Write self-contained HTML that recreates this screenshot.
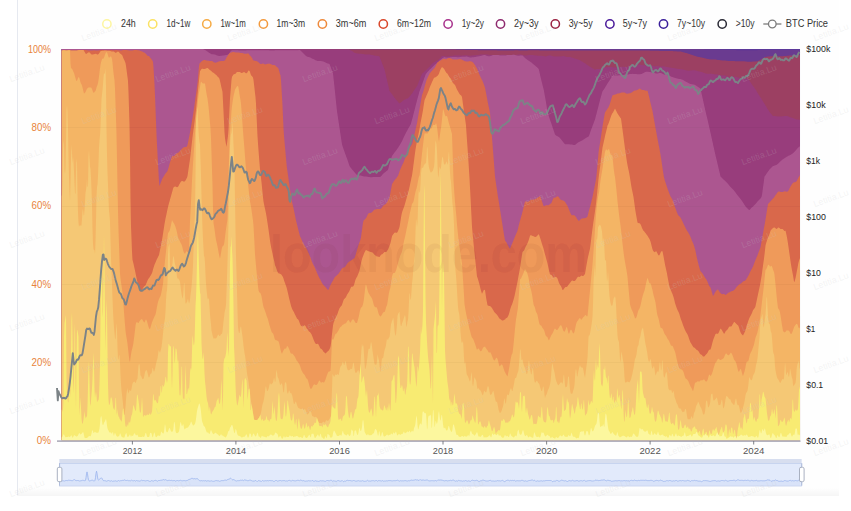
<!DOCTYPE html>
<html lang="en"><head><meta charset="utf-8"><title>HODL Waves</title>
<style>
html,body{margin:0;padding:0;background:#fff;}
body{width:851px;height:511px;overflow:hidden;font-family:"Liberation Sans",sans-serif;}
svg{display:block;}
text{font-family:"Liberation Sans",sans-serif;}
.lg{font-size:10.1px;fill:#333;}
.yl{font-size:10.2px;fill:#e8833a;}
.yr{font-size:9.7px;fill:#222;}
.xl{font-size:9.3px;fill:#555;}
.wm{font-size:9px;fill:#c8c8c8;fill-opacity:0.2;}
.big{font-size:51px;font-weight:bold;fill:#5a1a10;fill-opacity:0.05;}
</style></head><body>
<svg width="851" height="511" viewBox="0 0 851 511">
<defs>
<linearGradient id="bsh" x1="0" y1="0" x2="0" y2="1"><stop offset="0" stop-color="#000" stop-opacity="0"/><stop offset="1" stop-color="#000" stop-opacity="0.035"/></linearGradient>
<filter id="soft" x="-2%" y="-2%" width="104%" height="104%"><feGaussianBlur stdDeviation="0.5"/></filter>
<clipPath id="cp"><rect x="61.5" y="49" width="738.6" height="391.4"/></clipPath>
</defs>
<rect width="851" height="511" fill="#fff"/>
<rect x="17" y="0" width="822" height="496" fill="#fefefe"/>
<rect x="17" y="488" width="822" height="8" fill="url(#bsh)"/>
<path d="M17.5 0V495" stroke="#e6e9f0" stroke-width="1"/>
<g id="legend">
<circle cx="106.9" cy="24" r="4.15" fill="#fff" stroke="#fdf6a0" stroke-width="1.5"/>
<text x="121" y="27.4" class="lg" textLength="14.8" lengthAdjust="spacingAndGlyphs">24h</text>
<circle cx="152.7" cy="24" r="4.15" fill="#fff" stroke="#fbe264" stroke-width="1.5"/>
<text x="166.4" y="27.4" class="lg" textLength="24" lengthAdjust="spacingAndGlyphs">1d~1w</text>
<circle cx="206.8" cy="24" r="4.15" fill="#fff" stroke="#f6ab45" stroke-width="1.5"/>
<text x="220.4" y="27.4" class="lg" textLength="25.4" lengthAdjust="spacingAndGlyphs">1w~1m</text>
<circle cx="263.4" cy="24" r="4.15" fill="#fff" stroke="#f39a3e" stroke-width="1.5"/>
<text x="276.6" y="27.4" class="lg" textLength="28.6" lengthAdjust="spacingAndGlyphs">1m~3m</text>
<circle cx="322.4" cy="24" r="4.15" fill="#fff" stroke="#ee8a3c" stroke-width="1.5"/>
<text x="335.8" y="27.4" class="lg" textLength="30.5" lengthAdjust="spacingAndGlyphs">3m~6m</text>
<circle cx="383.3" cy="24" r="4.15" fill="#fff" stroke="#d9472b" stroke-width="1.5"/>
<text x="396.9" y="27.4" class="lg" textLength="34.1" lengthAdjust="spacingAndGlyphs">6m~12m</text>
<circle cx="448.1" cy="24" r="4.15" fill="#fff" stroke="#a8328c" stroke-width="1.5"/>
<text x="461.7" y="27.4" class="lg" textLength="22.3" lengthAdjust="spacingAndGlyphs">1y~2y</text>
<circle cx="500.5" cy="24" r="4.15" fill="#fff" stroke="#8e2a6e" stroke-width="1.5"/>
<text x="514.1" y="27.4" class="lg" textLength="24.5" lengthAdjust="spacingAndGlyphs">2y~3y</text>
<circle cx="555.3" cy="24" r="4.15" fill="#fff" stroke="#9b2242" stroke-width="1.5"/>
<text x="568.7" y="27.4" class="lg" textLength="23.9" lengthAdjust="spacingAndGlyphs">3y~5y</text>
<circle cx="609.9" cy="24" r="4.15" fill="#fff" stroke="#4a1a9a" stroke-width="1.5"/>
<text x="622.8" y="27.4" class="lg" textLength="24.2" lengthAdjust="spacingAndGlyphs">5y~7y</text>
<circle cx="663.5" cy="24" r="4.15" fill="#fff" stroke="#3b1f9b" stroke-width="1.5"/>
<text x="677.1" y="27.4" class="lg" textLength="27.9" lengthAdjust="spacingAndGlyphs">7y~10y</text>
<circle cx="722.2" cy="24" r="4.15" fill="#fff" stroke="#2a2a35" stroke-width="1.5"/>
<text x="735.8" y="27.4" class="lg" textLength="18.8" lengthAdjust="spacingAndGlyphs">&gt;10y</text>
<path d="M763.3 24H781.4" stroke="#7b7b7b" stroke-width="1.3" fill="none"/>
<circle cx="772.3" cy="24" r="3.8" fill="#fff" stroke="#7b7b7b" stroke-width="1.3"/>
<text x="785.8" y="27.4" class="lg" textLength="42.2" lengthAdjust="spacingAndGlyphs">BTC Price</text>
</g>
<g filter="url(#soft)"><g id="areas" clip-path="url(#cp)">
<rect x="61.5" y="49" width="738.6" height="391.4" fill="#4b3f80"/>
<path d="M61.5 440.4L61.5 49L62 49L62.5 49L63 49L63.5 49L64 49L64.5 49L65 49L65.5 49L66 49L66.5 49L67 49L67.5 49L68 49L68.5 49L69 49L69.5 49L70 49L70.5 49L71 49L71.5 49L72 49L72.5 49L73 49L73.5 49L74 49L74.5 49L75 49L75.5 49L76 49L76.5 49L77 49L77.5 49L78 49L78.5 49L79 49L79.5 49L80 49L80.5 49L81 49L81.5 49L82 49L82.5 49L83 49L83.5 49L84 49L84.5 49L85 49L85.5 49L86 49L86.5 49L87 49L87.5 49L88 49L88.5 49L89 49L89.5 49L90 49L90.5 49L91 49L91.5 49L92 49L92.5 49L93 49L93.5 49L94 49L94.5 49L95 49L95.5 49L96 49L96.5 49L97 49L97.5 49L98 49L98.5 49L99 49L99.5 49L100 49L100.5 49L101 49L101.5 49L102 49L102.5 49L103 49L103.5 49L104 49L104.5 49L105 49L105.5 49L106 49L106.5 49L107 49L107.5 49L108 49L108.5 49L109 49L109.5 49L110 49L110.5 49L111 49L111.5 49L112 49L112.5 49L113 49L113.5 49L114 49L114.5 49L115 49L115.5 49L116 49L116.5 49L117 49L117.5 49L118 49L118.5 49L119 49L119.5 49L120 49L120.5 49L121 49L121.5 49L122 49L122.5 49L123 49L123.5 49L124 49L124.5 49L125 49L125.5 49L126 49L126.5 49L127 49L127.5 49L128 49L128.5 49L129 49L129.5 49L130 49L130.5 49L131 49L131.5 49L132 49L132.5 49L133 49L133.5 49L134 49L134.5 49L135 49L135.5 49L136 49L136.5 49L137 49L137.5 49L138 49L138.5 49L139 49L139.5 49L140 49L140.5 49L141 49L141.5 49L142 49L142.5 49L143 49L143.5 49L144 49L144.5 49L145 49L145.5 49L146 49L146.5 49L147 49L147.5 49L148 49L148.5 49L149 49L149.5 49L150 49L150.5 49L151 49L151.5 49L152 49L152.5 49L153 49L153.5 49L154 49L154.5 49L155 49L155.5 49L156 49L156.5 49L157 49L157.5 49L158 49L158.5 49L159 49L159.5 49L160 49L160.5 49L161 49L161.5 49L162 49L162.5 49L163 49L163.5 49L164 49L164.5 49L165 49L165.5 49L166 49L166.5 49L167 49L167.5 49L168 49L168.5 49L169 49L169.5 49L170 49L170.5 49L171 49L171.5 49L172 49L172.5 49L173 49L173.5 49L174 49L174.5 49L175 49L175.5 49L176 49L176.5 49L177 49L177.5 49L178 49L178.5 49L179 49L179.5 49L180 49L180.5 49L181 49L181.5 49L182 49L182.5 49L183 49L183.5 49L184 49L184.5 49L185 49L185.5 49L186 49L186.5 49L187 49L187.5 49L188 49L188.5 49L189 49L189.5 49L190 49L190.5 49L191 49L191.5 49L192 49L192.5 49L193 49L193.5 49L194 49L194.5 49L195 49L195.5 49L196 49L196.5 49L197 49L197.5 49L198 49L198.5 49L199 49L199.5 49L200 49L200.5 49L201 49L201.5 49L202 49L202.5 49L203 49L203.5 49L204 49L204.5 49L205 49L205.5 49L206 49L206.5 49L207 49L207.5 49L208 49L208.5 49L209 49L209.5 49L210 49L210.5 49L211 49L211.5 49L212 49L212.5 49L213 49L213.5 49L214 49L214.5 49L215 49L215.5 49L216 49L216.5 49L217 49L217.5 49L218 49L218.5 49L219 49L219.5 49L220 49L220.5 49L221 49L221.5 49L222 49L222.5 49L223 49L223.5 49L224 49L224.5 49L225 49L225.5 49L226 49L226.5 49L227 49L227.5 49L228 49L228.5 49L229 49L229.5 49L230 49L230.5 49L231 49L231.5 49L232 49L232.5 49L233 49L233.5 49L234 49L234.5 49L235 49L235.5 49L236 49L236.5 49L237 49L237.5 49L238 49L238.5 49L239 49L239.5 49L240 49L240.5 49L241 49L241.5 49L242 49L242.5 49L243 49L243.5 49L244 49L244.5 49L245 49L245.5 49L246 49L246.5 49L247 49L247.5 49L248 49L248.5 49L249 49L249.5 49L250 49L250.5 49L251 49L251.5 49L252 49L252.5 49L253 49L253.5 49L254 49L254.5 49L255 49L255.5 49L256 49L256.5 49L257 49L257.5 49L258 49L258.5 49L259 49L259.5 49L260 49L260.5 49L261 49L261.5 49L262 49L262.5 49L263 49L263.5 49L264 49L264.5 49L265 49L265.5 49L266 49L266.5 49L267 49L267.5 49L268 49L268.5 49L269 49L269.5 49L270 49L270.5 49L271 49L271.5 49L272 49L272.5 49L273 49L273.5 49L274 49L274.5 49L275 49L275.5 49L276 49L276.5 49L277 49L277.5 49L278 49L278.5 49L279 49L279.5 49L280 49L280.5 49L281 49L281.5 49L282 49L282.5 49L283 49L283.5 49L284 49L284.5 49L285 49L285.5 49L286 49L286.5 49L287 49L287.5 49L288 49L288.5 49L289 49L289.5 49L290 49L290.5 49L291 49L291.5 49L292 49L292.5 49L293 49L293.5 49L294 49L294.5 49L295 49L295.5 49L296 49L296.5 49L297 49L297.5 49L298 49L298.5 49L299 49L299.5 49L300 49L300.5 49L301 49L301.5 49L302 49L302.5 49L303 49L303.5 49L304 49L304.5 49L305 49L305.5 49L306 49L306.5 49L307 49L307.5 49L308 49L308.5 49L309 49L309.5 49L310 49L310.5 49L311 49L311.5 49L312 49L312.5 49L313 49L313.5 49L314 49L314.5 49L315 49L315.5 49L316 49L316.5 49L317 49L317.5 49L318 49L318.5 49L319 49L319.5 49L320 49L320.5 49L321 49L321.5 49L322 49L322.5 49L323 49L323.5 49L324 49L324.5 49L325 49L325.5 49L326 49L326.5 49L327 49L327.5 49L328 49L328.5 49L329 49L329.5 49L330 49L330.5 49L331 49L331.5 49L332 49L332.5 49L333 49L333.5 49L334 49L334.5 49L335 49L335.5 49L336 49L336.5 49L337 49L337.5 49L338 49L338.5 49L339 49L339.5 49L340 49L340.5 49L341 49L341.5 49L342 49L342.5 49L343 49L343.5 49L344 49L344.5 49L345 49L345.5 49L346 49L346.5 49L347 49L347.5 49L348 49L348.5 49L349 49L349.5 49L350 49L350.5 49L351 49L351.5 49L352 49L352.5 49L353 49L353.5 49L354 49L354.5 49L355 49L355.5 49L356 49L356.5 49L357 49L357.5 49L358 49L358.5 49L359 49L359.5 49L360 49L360.5 49L361 49L361.5 49L362 49L362.5 49L363 49L363.5 49L364 49L364.5 49L365 49L365.5 49L366 49L366.5 49L367 49L367.5 49L368 49L368.5 49L369 49L369.5 49L370 49L370.5 49L371 49L371.5 49L372 49L372.5 49L373 49L373.5 49L374 49L374.5 49L375 49L375.5 49L376 49L376.5 49L377 49L377.5 49L378 49L378.5 49L379 49L379.5 49L380 49L380.5 49L381 49L381.5 49L382 49L382.5 49L383 49L383.5 49L384 49L384.5 49L385 49L385.5 49L386 49L386.5 49L387 49L387.5 49L388 49L388.5 49L389 49L389.5 49L390 49L390.5 49L391 49L391.5 49L392 49L392.5 49L393 49L393.5 49L394 49L394.5 49L395 49L395.5 49L396 49L396.5 49L397 49L397.5 49L398 49L398.5 49L399 49L399.5 49L400 49L400.5 49L401 49L401.5 49L402 49L402.5 49L403 49L403.5 49L404 49L404.5 49L405 49L405.5 49L406 49L406.5 49L407 49L407.5 49L408 49L408.5 49L409 49L409.5 49L410 49L410.5 49L411 49L411.5 49L412 49L412.5 49L413 49L413.5 49L414 49L414.5 49L415 49L415.5 49L416 49L416.5 49L417 49L417.5 49L418 49L418.5 49L419 49L419.5 49L420 49L420.5 49L421 49L421.5 49L422 49L422.5 49L423 49L423.5 49L424 49L424.5 49L425 49L425.5 49L426 49L426.5 49L427 49L427.5 49L428 49L428.5 49L429 49L429.5 49L430 49L430.5 49L431 49L431.5 49L432 49L432.5 49L433 49L433.5 49L434 49L434.5 49L435 49L435.5 49L436 49L436.5 49L437 49L437.5 49L438 49L438.5 49L439 49L439.5 49L440 49L440.5 49L441 49L441.5 49L442 49L442.5 49L443 49L443.5 49L444 49L444.5 49L445 49L445.5 49L446 49L446.5 49L447 49L447.5 49L448 49L448.5 49L449 49L449.5 49L450 49L450.5 49L451 49L451.5 49L452 49L452.5 49L453 49L453.5 49L454 49L454.5 49L455 49L455.5 49L456 49L456.5 49L457 49L457.5 49L458 49L458.5 49L459 49L459.5 49L460 49L460.5 49L461 49L461.5 49L462 49L462.5 49L463 49L463.5 49L464 49L464.5 49L465 49L465.5 49L466 49L466.5 49L467 49L467.5 49L468 49L468.5 49L469 49L469.5 49L470 49L470.5 49L471 49L471.5 49L472 49L472.5 49L473 49L473.5 49L474 49L474.5 49L475 49L475.5 49L476 49L476.5 49L477 49L477.5 49L478 49L478.5 49L479 49L479.5 49L480 49L480.5 49L481 49L481.5 49L482 49L482.5 49L483 49L483.5 49L484 49L484.5 49L485 49L485.5 49L486 49L486.5 49L487 49L487.5 49L488 49L488.5 49L489 49L489.5 49L490 49L490.5 49L491 49L491.5 49L492 49L492.5 49L493 49L493.5 49L494 49L494.5 49L495 49L495.5 49L496 49L496.5 49L497 49L497.5 49L498 49L498.5 49L499 49L499.5 49L500 49L500.5 49L501 49L501.5 49L502 49L502.5 49L503 49L503.5 49L504 49L504.5 49L505 49L505.5 49L506 49L506.5 49L507 49L507.5 49L508 49L508.5 49L509 49L509.5 49L510 49L510.5 49L511 49L511.5 49L512 49L512.5 49L513 49L513.5 49L514 49L514.5 49L515 49L515.5 49L516 49L516.5 49L517 49L517.5 49L518 49L518.5 49L519 49L519.5 49L520 49L520.5 49L521 49L521.5 49L522 49L522.5 49L523 49L523.5 49L524 49L524.5 49L525 49L525.5 49L526 49L526.5 49L527 49L527.5 49L528 49L528.5 49L529 49L529.5 49L530 49L530.5 49L531 49L531.5 49L532 49L532.5 49L533 49L533.5 49L534 49L534.5 49L535 49L535.5 49L536 49L536.5 49L537 49L537.5 49L538 49L538.5 49L539 49L539.5 49L540 49L540.5 49L541 49L541.5 49L542 49L542.5 49L543 49L543.5 49L544 49L544.5 49L545 49L545.5 49L546 49L546.5 49L547 49L547.5 49L548 49L548.5 49L549 49L549.5 49L550 49L550.5 49L551 49L551.5 49L552 49L552.5 49L553 49L553.5 49L554 49L554.5 49L555 49L555.5 49L556 49L556.5 49L557 49L557.5 49L558 49L558.5 49L559 49L559.5 49L560 49L560.5 49L561 49L561.5 49L562 49L562.5 49L563 49L563.5 49L564 49L564.5 49L565 49L565.5 49L566 49L566.5 49L567 49L567.5 49L568 49L568.5 49L569 49L569.5 49L570 49L570.5 49L571 49L571.5 49L572 49L572.5 49L573 49L573.5 49L574 49L574.5 49L575 49L575.5 49L576 49L576.5 49L577 49L577.5 49L578 49L578.5 49L579 49L579.5 49L580 49L580.5 49L581 49L581.5 49L582 49L582.5 49L583 49L583.5 49L584 49L584.5 49L585 49L585.5 49L586 49L586.5 49L587 49L587.5 49L588 49L588.5 49L589 49L589.5 49L590 49L590.5 49L591 49L591.5 49L592 49L592.5 49L593 49L593.5 49L594 49L594.5 49L595 49L595.5 49L596 49L596.5 49L597 49L597.5 49L598 49L598.5 49L599 49L599.5 49L600 49L600.5 49L601 49L601.5 49L602 49L602.5 49L603 49L603.5 49L604 49L604.5 49L605 49L605.5 49L606 49L606.5 49L607 49L607.5 49L608 49L608.5 49L609 49L609.5 49L610 49L610.5 49L611 49L611.5 49L612 49L612.5 49L613 49L613.5 49L614 49L614.5 49L615 49L615.5 49L616 49L616.5 49L617 49L617.5 49L618 49L618.5 49L619 49L619.5 49L620 49L620.5 49L621 49L621.5 49L622 49L622.5 49L623 49L623.5 49L624 49L624.5 49L625 49L625.5 49L626 49L626.5 49L627 49L627.5 49L628 49L628.5 49L629 49L629.5 49L630 49L630.5 49L631 49L631.5 49L632 49L632.5 49L633 49L633.5 49L634 49L634.5 49L635 49L635.5 49L636 49L636.5 49L637 49L637.5 49L638 49L638.5 49L639 49L639.5 49L640 49L640.5 49L641 49L641.5 49L642 49L642.5 49L643 49L643.5 49L644 49L644.5 49L645 49L645.5 49L646 49L646.5 49L647 49L647.5 49L648 49L648.5 49L649 49L649.5 49L650 49L650.5 49L651 49L651.5 49L652 49L652.5 49L653 49L653.5 49L654 49L654.5 49L655 49L655.5 49L656 49L656.5 49L657 49L657.5 49L658 49L658.5 49L659 49L659.5 49L660 49L660.5 49L661 49L661.5 49L662 49L662.5 49L663 49L663.5 49L664 49L664.5 49L665 49L665.5 49L666 49L666.5 49L667 49L667.5 49L668 49L668.5 49L669 49L669.5 49L670 49L670.5 49L671 49L671.5 49L672 49L672.5 49L673 49L673.5 49L674 49L674.5 49L675 49L675.5 49L676 49L676.5 49L677 49L677.5 49L678 49L678.5 49L679 49L679.5 49L680 49L680.5 49L681 49L681.5 49L682 49L682.5 49L683 49L683.5 49L684 49L684.5 49L685 49L685.5 49L686 49L686.5 49L687 49L687.5 49L688 49L688.5 49L689 49L689.5 49L690 49L690.5 49L691 49L691.5 49L692 49L692.5 49L693 49L693.5 49L694 49L694.5 49L695 49L695.5 49L696 49L696.5 49L697 49L697.5 49L698 49L698.5 49L699 49L699.5 49L700 49L700.5 49L701 49L701.5 49L702 49L702.5 49L703 49L703.5 49L704 49L704.5 49L705 49L705.5 49L706 49L706.5 49L707 49L707.5 49L708 49L708.5 49L709 49L709.5 49L710 49L710.5 49L711 49L711.5 49L712 49L712.5 49L713 49L713.5 49L714 49L714.5 49L715 49L715.5 49L716 49L716.5 49L717 49L717.5 49L718 49L718.5 49L719 49L719.5 49L720 49L720.5 49L721 49L721.5 49L722 49L722.5 49L723 49L723.5 49L724 49L724.5 49L725 49L725.5 49L726 49L726.5 49L727 49L727.5 49L728 49L728.5 49L729 49L729.5 49L730 49L730.5 49L731 49L731.5 49L732 49L732.5 49L733 49L733.5 49L734 49L734.5 49L735 49L735.5 49L736 49L736.5 49L737 49L737.5 49L738 49L738.5 49L739 49L739.5 49L740 49L740.5 49L741 49L741.5 49L742 49L742.5 49L743 49L743.5 49L744 49L744.5 49L745 49L745.5 49L746 49L746.5 49L747 49L747.5 49L748 49L748.5 49L749 49L749.5 49L750 49L750.5 49L751 49L751.5 49L752 49L752.5 49L753 49L753.5 49L754 49L754.5 49L755 49L755.5 49L756 49L756.5 49L757 49L757.5 49L758 49L758.5 49L759 49L759.5 49L760 49L760.5 49L761 49L761.5 49L762 49L762.5 49L763 49L763.5 49L764 49L764.5 49L765 49L765.5 49L766 49L766.5 49L767 49L767.5 49L768 49L768.5 49L769 49L769.5 49L770 49L770.5 49L771 49L771.5 49L772 49L772.5 49L773 49L773.5 49L774 49L774.5 49L775 49L775.5 49L776 49L776.5 49L777 49L777.5 49L778 49L778.5 49L779 49L779.5 49L780 49L780.5 49L781 49L781.5 49L782 49L782.5 49L783 49L783.5 49L784 49L784.5 49L785 49L785.5 49L786 49L786.5 49L787 49L787.5 49L788 49L788.5 49L789 49L789.5 49L790 49L790.5 49L791 49L791.5 49L792 49L792.5 49L793 49L793.5 49L794 49L794.5 49L795 49L795.5 49L796 49L796.5 49L797 49L797.5 49L798 49L798.5 49L799 49L799.5 49L800 49L800.1 440.4Z" fill="#5b379a"/>
<path d="M61.5 440.4L61.5 49L62 49L62.5 49L63 49L63.5 49L64 49L64.5 49L65 49L65.5 49L66 49L66.5 49L67 49L67.5 49L68 49L68.5 49L69 49L69.5 49L70 49L70.5 49L71 49L71.5 49L72 49L72.5 49L73 49L73.5 49L74 49L74.5 49L75 49L75.5 49L76 49L76.5 49L77 49L77.5 49L78 49L78.5 49L79 49L79.5 49L80 49L80.5 49L81 49L81.5 49L82 49L82.5 49L83 49L83.5 49L84 49L84.5 49L85 49L85.5 49L86 49L86.5 49L87 49L87.5 49L88 49L88.5 49L89 49L89.5 49L90 49L90.5 49L91 49L91.5 49L92 49L92.5 49L93 49L93.5 49L94 49L94.5 49L95 49L95.5 49L96 49L96.5 49L97 49L97.5 49L98 49L98.5 49L99 49L99.5 49L100 49L100.5 49L101 49L101.5 49L102 49L102.5 49L103 49L103.5 49L104 49L104.5 49L105 49L105.5 49L106 49L106.5 49L107 49L107.5 49L108 49L108.5 49L109 49L109.5 49L110 49L110.5 49L111 49L111.5 49L112 49L112.5 49L113 49L113.5 49L114 49L114.5 49L115 49L115.5 49L116 49L116.5 49L117 49L117.5 49L118 49L118.5 49L119 49L119.5 49L120 49L120.5 49L121 49L121.5 49L122 49L122.5 49L123 49L123.5 49L124 49L124.5 49L125 49L125.5 49L126 49L126.5 49L127 49L127.5 49L128 49L128.5 49L129 49L129.5 49L130 49L130.5 49L131 49L131.5 49L132 49L132.5 49L133 49L133.5 49L134 49L134.5 49L135 49L135.5 49L136 49L136.5 49L137 49L137.5 49L138 49L138.5 49L139 49L139.5 49L140 49L140.5 49L141 49L141.5 49L142 49L142.5 49L143 49L143.5 49L144 49L144.5 49L145 49L145.5 49L146 49L146.5 49L147 49L147.5 49L148 49L148.5 49L149 49L149.5 49L150 49L150.5 49L151 49L151.5 49L152 49L152.5 49L153 49L153.5 49L154 49L154.5 49L155 49L155.5 49L156 49L156.5 49L157 49L157.5 49L158 49L158.5 49L159 49L159.5 49L160 49L160.5 49L161 49L161.5 49L162 49L162.5 49L163 49L163.5 49L164 49L164.5 49L165 49L165.5 49L166 49L166.5 49L167 49L167.5 49L168 49L168.5 49L169 49L169.5 49L170 49L170.5 49L171 49L171.5 49L172 49L172.5 49L173 49L173.5 49L174 49L174.5 49L175 49L175.5 49L176 49L176.5 49L177 49L177.5 49L178 49L178.5 49L179 49L179.5 49L180 49L180.5 49L181 49L181.5 49L182 49L182.5 49L183 49L183.5 49L184 49L184.5 49L185 49L185.5 49L186 49L186.5 49L187 49L187.5 49L188 49L188.5 49L189 49L189.5 49L190 49L190.5 49L191 49L191.5 49L192 49L192.5 49L193 49L193.5 49L194 49L194.5 49L195 49L195.5 49L196 49L196.5 49L197 49L197.5 49L198 49L198.5 49L199 49L199.5 49L200 49L200.5 49L201 49L201.5 49L202 49L202.5 49L203 49L203.5 49L204 49L204.5 49L205 49L205.5 49L206 49L206.5 49L207 49L207.5 49L208 49L208.5 49L209 49L209.5 49L210 49L210.5 49L211 49L211.5 49L212 49L212.5 49L213 49L213.5 49L214 49L214.5 49L215 49L215.5 49L216 49L216.5 49L217 49L217.5 49L218 49L218.5 49L219 49L219.5 49L220 49L220.5 49L221 49L221.5 49L222 49L222.5 49L223 49L223.5 49L224 49L224.5 49L225 49L225.5 49L226 49L226.5 49L227 49L227.5 49L228 49L228.5 49L229 49L229.5 49L230 49L230.5 49L231 49L231.5 49L232 49L232.5 49L233 49L233.5 49L234 49L234.5 49L235 49L235.5 49L236 49L236.5 49L237 49L237.5 49L238 49L238.5 49L239 49L239.5 49L240 49L240.5 49L241 49L241.5 49L242 49L242.5 49L243 49L243.5 49L244 49L244.5 49L245 49L245.5 49L246 49L246.5 49L247 49L247.5 49L248 49L248.5 49L249 49L249.5 49L250 49L250.5 49L251 49L251.5 49L252 49L252.5 49L253 49L253.5 49L254 49L254.5 49L255 49L255.5 49L256 49L256.5 49L257 49L257.5 49L258 49L258.5 49L259 49L259.5 49L260 49L260.5 49L261 49L261.5 49L262 49L262.5 49L263 49L263.5 49L264 49L264.5 49L265 49L265.5 49L266 49L266.5 49L267 49L267.5 49L268 49L268.5 49L269 49L269.5 49L270 49L270.5 49L271 49L271.5 49L272 49L272.5 49L273 49L273.5 49L274 49L274.5 49L275 49L275.5 49L276 49L276.5 49L277 49L277.5 49L278 49L278.5 49L279 49L279.5 49L280 49L280.5 49L281 49L281.5 49L282 49L282.5 49L283 49L283.5 49L284 49L284.5 49L285 49L285.5 49L286 49L286.5 49L287 49L287.5 49L288 49L288.5 49L289 49L289.5 49L290 49L290.5 49L291 49L291.5 49L292 49L292.5 49L293 49L293.5 49L294 49L294.5 49L295 49L295.5 49L296 49L296.5 49L297 49L297.5 49L298 49L298.5 49L299 49L299.5 49L300 49L300.5 49L301 49L301.5 49L302 49L302.5 49L303 49L303.5 49L304 49L304.5 49L305 49L305.5 49L306 49L306.5 49L307 49L307.5 49L308 49L308.5 49L309 49L309.5 49L310 49L310.5 49L311 49L311.5 49L312 49L312.5 49L313 49L313.5 49L314 49L314.5 49L315 49L315.5 49L316 49L316.5 49L317 49L317.5 49L318 49L318.5 49L319 49L319.5 49L320 49L320.5 49L321 49L321.5 49L322 49L322.5 49L323 49L323.5 49L324 49L324.5 49L325 49L325.5 49L326 49L326.5 49L327 49L327.5 49L328 49L328.5 49L329 49L329.5 49L330 49L330.5 49L331 49L331.5 49L332 49L332.5 49L333 49L333.5 49L334 49L334.5 49L335 49L335.5 49L336 49L336.5 49L337 49L337.5 49L338 49L338.5 49L339 49L339.5 49L340 49L340.5 49L341 49L341.5 49L342 49L342.5 49L343 49L343.5 49L344 49L344.5 49L345 49L345.5 49L346 49L346.5 49L347 49L347.5 49L348 49L348.5 49L349 49L349.5 49L350 49L350.5 49L351 49L351.5 49L352 49L352.5 49L353 49L353.5 49L354 49L354.5 49L355 49L355.5 49L356 49L356.5 49L357 49L357.5 49L358 49L358.5 49L359 49L359.5 49L360 49L360.5 49L361 49L361.5 49L362 49L362.5 49L363 49L363.5 49L364 49L364.5 49L365 49L365.5 49L366 49L366.5 49L367 49L367.5 49L368 49L368.5 49L369 49L369.5 49L370 49L370.5 49L371 49L371.5 49L372 49L372.5 49L373 49L373.5 49L374 49L374.5 49L375 49L375.5 49L376 49L376.5 49L377 49L377.5 49L378 49L378.5 49L379 49L379.5 49L380 49L380.5 49L381 49L381.5 49L382 49L382.5 49L383 49L383.5 49L384 49L384.5 49L385 49L385.5 49L386 49L386.5 49L387 49L387.5 49L388 49L388.5 49L389 49L389.5 49L390 49L390.5 49L391 49L391.5 49L392 49L392.5 49L393 49L393.5 49L394 49L394.5 49L395 49L395.5 49L396 49L396.5 49L397 49L397.5 49L398 49L398.5 49L399 49L399.5 49L400 49L400.5 49L401 49L401.5 49L402 49L402.5 49L403 49L403.5 49L404 49L404.5 49L405 49L405.5 49L406 49L406.5 49L407 49L407.5 49L408 49L408.5 49L409 49L409.5 49L410 49L410.5 49L411 49L411.5 49L412 49L412.5 49L413 49L413.5 49L414 49L414.5 49L415 49L415.5 49L416 49L416.5 49L417 49L417.5 49L418 49L418.5 49L419 49L419.5 49L420 49L420.5 49L421 49L421.5 49L422 49L422.5 49L423 49L423.5 49L424 49L424.5 49L425 49L425.5 49L426 49L426.5 49L427 49L427.5 49L428 49L428.5 49L429 49L429.5 49L430 49L430.5 49L431 49L431.5 49L432 49L432.5 49L433 49L433.5 49L434 49L434.5 49L435 49L435.5 49L436 49L436.5 49L437 49L437.5 49L438 49L438.5 49L439 49L439.5 49L440 49L440.5 49L441 49L441.5 49L442 49L442.5 49L443 49L443.5 49L444 49L444.5 49L445 49L445.5 49L446 49L446.5 49L447 49L447.5 49L448 49L448.5 49L449 49L449.5 49L450 49L450.5 49L451 49L451.5 49L452 49L452.5 49L453 49L453.5 49L454 49L454.5 49L455 49L455.5 49L456 49L456.5 49L457 49L457.5 49L458 49L458.5 49L459 49L459.5 49L460 49L460.5 49L461 49L461.5 49L462 49L462.5 49L463 49L463.5 49L464 49L464.5 49L465 49L465.5 49L466 49L466.5 49L467 49L467.5 49L468 49L468.5 49L469 49L469.5 49L470 49L470.5 49L471 49L471.5 49L472 49L472.5 49L473 49L473.5 49L474 49L474.5 49L475 49L475.5 49L476 49L476.5 49L477 49L477.5 49L478 49L478.5 49L479 49L479.5 49L480 49L480.5 49L481 49L481.5 49L482 49L482.5 49L483 49L483.5 49L484 49L484.5 49L485 49L485.5 49L486 49L486.5 49L487 49L487.5 49L488 49L488.5 49L489 49L489.5 49L490 49L490.5 49L491 49L491.5 49L492 49L492.5 49L493 49L493.5 49L494 49L494.5 49L495 49L495.5 49L496 49L496.5 49L497 49L497.5 49L498 49L498.5 49L499 49L499.5 49L500 49L500.5 49L501 49L501.5 49L502 49L502.5 49L503 49L503.5 49L504 49L504.5 49L505 49L505.5 49L506 49L506.5 49L507 49L507.5 49L508 49L508.5 49L509 49L509.5 49L510 49L510.5 49L511 49L511.5 49L512 49L512.5 49L513 49L513.5 49L514 49L514.5 49L515 49L515.5 49L516 49L516.5 49L517 49L517.5 49L518 49L518.5 49L519 49L519.5 49L520 49L520.5 49L521 49L521.5 49L522 49L522.5 49L523 49L523.5 49L524 49L524.5 49L525 49L525.5 49L526 49L526.5 49L527 49L527.5 49L528 49L528.5 49L529 49L529.5 49L530 49L530.5 49L531 49L531.5 49L532 49L532.5 49L533 49L533.5 49L534 49L534.5 49L535 49L535.5 49L536 49L536.5 49L537 49L537.5 49L538 49L538.5 49L539 49L539.5 49L540 49L540.5 49L541 49L541.5 49L542 49L542.5 49L543 49L543.5 49L544 49L544.5 49L545 49L545.5 49L546 49L546.5 49L547 49L547.5 49L548 49L548.5 49L549 49L549.5 49L550 49L550.5 49L551 49L551.5 49L552 49L552.5 49L553 49L553.5 49L554 49L554.5 49L555 49L555.5 49L556 49L556.5 49L557 49L557.5 49L558 49L558.5 49L559 49L559.5 49L560 49L560.5 49L561 49L561.5 49L562 49L562.5 49L563 49L563.5 49L564 49L564.5 49L565 49L565.5 49L566 49L566.5 49L567 49L567.5 49L568 49L568.5 49L569 49L569.5 49L570 49L570.5 49L571 49L571.5 49L572 49L572.5 49L573 49L573.5 49L574 49L574.5 49L575 49L575.5 49L576 49L576.5 49L577 49L577.5 49L578 49L578.5 49L579 49L579.5 49L580 49L580.5 49L581 49L581.5 49L582 49L582.5 49L583 49L583.5 49L584 49L584.5 49L585 49L585.5 49L586 49L586.5 49L587 49L587.5 49L588 49L588.5 49L589 49L589.5 49L590 49L590.5 49L591 49L591.5 49L592 49L592.5 49L593 49L593.5 49L594 49L594.5 49L595 49L595.5 49L596 49L596.5 49L597 49L597.5 49L598 49L598.5 49L599 49L599.5 49L600 49L600.5 49L601 49L601.5 49L602 49L602.5 49L603 49L603.5 49L604 49L604.5 49L605 49L605.5 49L606 49L606.5 49L607 49L607.5 49L608 49L608.5 49L609 49L609.5 49L610 49L610.5 49L611 49L611.5 49L612 49L612.5 49L613 49L613.5 49L614 49L614.5 49L615 49L615.5 49L616 49L616.5 49L617 49L617.5 49L618 49L618.5 49L619 49L619.5 49L620 49L620.5 49L621 49L621.5 49L622 49L622.5 49L623 49L623.5 49L624 49L624.5 49L625 49L625.5 49L626 49L626.5 49L627 49L627.5 49L628 49L628.5 49L629 49L629.5 49L630 49L630.5 49L631 49L631.5 49L632 49L632.5 49L633 49L633.5 49L634 49L634.5 49L635 49L635.5 49L636 49L636.5 49L637 49L637.5 49L638 49L638.5 49L639 49L639.5 49L640 49L640.5 49L641 49L641.5 49L642 49L642.5 49L643 49L643.5 49L644 49L644.5 49L645 49L645.5 49L646 49L646.5 49L647 49L647.5 49L648 49L648.5 49L649 49L649.5 49L650 49L650.5 49L651 49L651.5 49L652 49L652.5 49L653 49L653.5 49L654 49L654.5 49L655 49L655.5 49L656 49L656.5 49L657 49L657.5 49L658 49L658.5 49L659 49L659.5 49L660 49L660.5 49L661 49L661.5 49L662 49L662.5 49L663 49L663.5 49L664 49L664.5 49L665 49L665.5 49L666 49L666.5 49L667 49L667.5 49L668 49L668.5 49L669 49L669.5 49L670 49L670.5 49L671 49L671.5 49L672 49L672.5 49L673 49L673.5 49L674 49L674.5 49L675 49L675.5 49L676 49L676.5 49L677 49L677.5 49L678 49L678.5 49L679 49L679.5 49L680 49L680.5 49L681 49L681.5 49L682 49L682.5 49L683 49L683.5 49L684 49L684.5 49L685 49L685.5 49L686 49L686.5 49L687 49L687.5 49L688 49L688.5 49L689 49L689.5 49L690 49L690.5 49L691 49L691.5 49L692 49L692.5 49L693 49L693.5 49L694 49L694.5 49L695 49L695.5 49L696 49L696.5 49L697 49L697.5 49L698 49L698.5 49L699 49L699.5 49L700 49L700.5 49L701 49L701.5 49L702 49.1L702.5 49.1L703 49.1L703.5 49.1L704 49.1L704.5 49.1L705 49.2L705.5 49.2L706 49.2L706.5 49.2L707 49.2L707.5 49.2L708 49.3L708.5 49.3L709 49.3L709.5 49.3L710 49.3L710.5 49.3L711 49.3L711.5 49.4L712 49.4L712.5 49.4L713 49.4L713.5 49.4L714 49.4L714.5 49.5L715 49.5L715.5 49.5L716 49.5L716.5 49.5L717 49.5L717.5 49.6L718 49.6L718.5 49.6L719 49.6L719.5 49.6L720 49.6L720.5 49.7L721 49.7L721.5 49.7L722 49.7L722.5 49.7L723 49.7L723.5 49.7L724 49.8L724.5 49.8L725 49.8L725.5 49.8L726 49.8L726.5 49.8L727 49.9L727.5 49.9L728 49.9L728.5 49.9L729 49.9L729.5 49.9L730 49.9L730.5 50L731 50L731.5 50L732 50L732.5 50L733 50L733.5 50.1L734 50.1L734.5 50.1L735 50.1L735.5 50.1L736 50.1L736.5 50.1L737 50.2L737.5 50.2L738 50.2L738.5 50.2L739 50.2L739.5 50.2L740 50.2L740.5 50.2L741 50.2L741.5 50.2L742 50.2L742.5 50.2L743 50.2L743.5 50.2L744 50.2L744.5 50.2L745 50.2L745.5 50.2L746 50.2L746.5 50.2L747 50.2L747.5 50.2L748 50.2L748.5 50.2L749 50.2L749.5 50.2L750 50.2L750.5 50.2L751 50.2L751.5 50.2L752 50.2L752.5 50.2L753 50.2L753.5 50.2L754 50.2L754.5 50.2L755 50.2L755.5 50.2L756 50.2L756.5 50.2L757 50.2L757.5 50.2L758 50.1L758.5 50.1L759 50.1L759.5 50.1L760 50.1L760.5 50.1L761 50.1L761.5 50.1L762 50.1L762.5 50.1L763 50.1L763.5 50.1L764 50.1L764.5 50.1L765 50.1L765.5 50.1L766 50.1L766.5 50.1L767 50.1L767.5 50.1L768 50.1L768.5 50.1L769 50.1L769.5 50.1L770 50.1L770.5 50.1L771 50.1L771.5 50.1L772 50.1L772.5 50.1L773 50.1L773.5 50.1L774 50.1L774.5 50.1L775 50.1L775.5 50.1L776 50.1L776.5 50.1L777 50.1L777.5 50.1L778 50.1L778.5 50.1L779 50.1L779.5 50.1L780 50.1L780.5 50.1L781 50.1L781.5 50.1L782 50.1L782.5 50L783 50L783.5 50L784 50L784.5 50L785 50L785.5 50L786 50L786.5 50L787 50L787.5 50L788 50L788.5 50L789 50L789.5 50L790 50L790.5 50L791 50L791.5 50L792 50L792.5 50L793 50L793.5 50L794 50L794.5 50L795 50L795.5 50L796 50L796.5 50L797 50L797.5 50L798 50L798.5 50L799 50L799.5 50L800 50L800.1 440.4Z" fill="#6a3a90"/>
<path d="M61.5 440.4L61.5 49L62 49L62.5 49L63 49L63.5 49L64 49L64.5 49L65 49L65.5 49L66 49L66.5 49L67 49L67.5 49L68 49L68.5 49L69 49L69.5 49L70 49L70.5 49L71 49L71.5 49L72 49L72.5 49L73 49L73.5 49L74 49L74.5 49L75 49L75.5 49L76 49L76.5 49L77 49L77.5 49L78 49L78.5 49L79 49L79.5 49L80 49L80.5 49L81 49L81.5 49L82 49L82.5 49L83 49L83.5 49L84 49L84.5 49L85 49L85.5 49L86 49L86.5 49L87 49L87.5 49L88 49L88.5 49L89 49L89.5 49L90 49L90.5 49L91 49L91.5 49L92 49L92.5 49L93 49L93.5 49L94 49L94.5 49L95 49L95.5 49L96 49L96.5 49L97 49L97.5 49L98 49L98.5 49L99 49L99.5 49L100 49L100.5 49L101 49L101.5 49L102 49L102.5 49L103 49L103.5 49L104 49L104.5 49L105 49L105.5 49L106 49L106.5 49L107 49L107.5 49L108 49L108.5 49L109 49L109.5 49L110 49L110.5 49L111 49L111.5 49L112 49L112.5 49L113 49L113.5 49L114 49L114.5 49L115 49L115.5 49L116 49L116.5 49L117 49L117.5 49L118 49L118.5 49L119 49L119.5 49L120 49L120.5 49L121 49L121.5 49L122 49L122.5 49L123 49L123.5 49L124 49L124.5 49L125 49.1L125.5 49.1L126 49.1L126.5 49.1L127 49.1L127.5 49.1L128 49.1L128.5 49.1L129 49.1L129.5 49.1L130 49.1L130.5 49.1L131 49.1L131.5 49.1L132 49.1L132.5 49.1L133 49.1L133.5 49.1L134 49.1L134.5 49.1L135 49.1L135.5 49.1L136 49.1L136.5 49.1L137 49.1L137.5 49.1L138 49.1L138.5 49.1L139 49.1L139.5 49.1L140 49.1L140.5 49.1L141 49.1L141.5 49.1L142 49.1L142.5 49.1L143 49.1L143.5 49.1L144 49.1L144.5 49.1L145 49.1L145.5 49.1L146 49.1L146.5 49.1L147 49.1L147.5 49.1L148 49.1L148.5 49.1L149 49.1L149.5 49.1L150 49.1L150.5 49.1L151 49.1L151.5 49.1L152 49.1L152.5 49.1L153 49.1L153.5 49.1L154 49.1L154.5 49.1L155 49.1L155.5 49.1L156 49.1L156.5 49.1L157 49.1L157.5 49.1L158 49.1L158.5 49.1L159 49.1L159.5 49.1L160 49.1L160.5 49.1L161 49.1L161.5 49.1L162 49.1L162.5 49.1L163 49.1L163.5 49.1L164 49.1L164.5 49.1L165 49.1L165.5 49.1L166 49.1L166.5 49.1L167 49.1L167.5 49.1L168 49.1L168.5 49.1L169 49.1L169.5 49.1L170 49.1L170.5 49.1L171 49.1L171.5 49.1L172 49.1L172.5 49.1L173 49.1L173.5 49.1L174 49.1L174.5 49.1L175 49.1L175.5 49.1L176 49.1L176.5 49.1L177 49.1L177.5 49.1L178 49.1L178.5 49.1L179 49.1L179.5 49.1L180 49.1L180.5 49.1L181 49.1L181.5 49.1L182 49.1L182.5 49.1L183 49.1L183.5 49.1L184 49.1L184.5 49.1L185 49.1L185.5 49.1L186 49.1L186.5 49.1L187 49.1L187.5 49.1L188 49.1L188.5 49.1L189 49.1L189.5 49.1L190 49.1L190.5 49.1L191 49.1L191.5 49.1L192 49.1L192.5 49.1L193 49.1L193.5 49.1L194 49.1L194.5 49.1L195 49.1L195.5 49.1L196 49.1L196.5 49.1L197 49.1L197.5 49.1L198 49.1L198.5 49.1L199 49.1L199.5 49.1L200 49.1L200.5 49.1L201 49.1L201.5 49.1L202 49.1L202.5 49.1L203 49.1L203.5 49.1L204 49.1L204.5 49.1L205 49.1L205.5 49.1L206 49.1L206.5 49.1L207 49.1L207.5 49.1L208 49.1L208.5 49.1L209 49.1L209.5 49.1L210 49.1L210.5 49.1L211 49.1L211.5 49.1L212 49.1L212.5 49.1L213 49.1L213.5 49.1L214 49.1L214.5 49.1L215 49.1L215.5 49.1L216 49.1L216.5 49.1L217 49.1L217.5 49.1L218 49.1L218.5 49.1L219 49.1L219.5 49.1L220 49.1L220.5 49.1L221 49.1L221.5 49.1L222 49.1L222.5 49.1L223 49.1L223.5 49.1L224 49.1L224.5 49.1L225 49.1L225.5 49.1L226 49.1L226.5 49.1L227 49.1L227.5 49.1L228 49.1L228.5 49.1L229 49.1L229.5 49.1L230 49.1L230.5 49.1L231 49.1L231.5 49.1L232 49.1L232.5 49.1L233 49.1L233.5 49.1L234 49.1L234.5 49.1L235 49.1L235.5 49.1L236 49.1L236.5 49.1L237 49.1L237.5 49.1L238 49.1L238.5 49.1L239 49.1L239.5 49.1L240 49.1L240.5 49.1L241 49.1L241.5 49.1L242 49.1L242.5 49.1L243 49.1L243.5 49.1L244 49.1L244.5 49.1L245 49.1L245.5 49.1L246 49.1L246.5 49.1L247 49.1L247.5 49.1L248 49.1L248.5 49.1L249 49.1L249.5 49.1L250 49.1L250.5 49.1L251 49.1L251.5 49.1L252 49.1L252.5 49.1L253 49.1L253.5 49.1L254 49.1L254.5 49.1L255 49.1L255.5 49.1L256 49.1L256.5 49.1L257 49.1L257.5 49.1L258 49.1L258.5 49.2L259 49.2L259.5 49.2L260 49.2L260.5 49.1L261 49.1L261.5 49.1L262 49.1L262.5 49.1L263 49.1L263.5 49.1L264 49.1L264.5 49.1L265 49.2L265.5 49.2L266 49.2L266.5 49.2L267 49.2L267.5 49.2L268 49.2L268.5 49.2L269 49.2L269.5 49.2L270 49.2L270.5 49.2L271 49.2L271.5 49.2L272 49.2L272.5 49.2L273 49.2L273.5 49.2L274 49.2L274.5 49.2L275 49.2L275.5 49.2L276 49.2L276.5 49.2L277 49.2L277.5 49.2L278 49.2L278.5 49.2L279 49.2L279.5 49.2L280 49.2L280.5 49.2L281 49.2L281.5 49.2L282 49.2L282.5 49.2L283 49.2L283.5 49.2L284 49.2L284.5 49.2L285 49.2L285.5 49.2L286 49.2L286.5 49.2L287 49.2L287.5 49.2L288 49.2L288.5 49.2L289 49.2L289.5 49.2L290 49.2L290.5 49.2L291 49.2L291.5 49.2L292 49.2L292.5 49.2L293 49.2L293.5 49.2L294 49.2L294.5 49.2L295 49.2L295.5 49.2L296 49.2L296.5 49.2L297 49.2L297.5 49.2L298 49.2L298.5 49.2L299 49.2L299.5 49.2L300 49.2L300.5 49.2L301 49.2L301.5 49.2L302 49.2L302.5 49.2L303 49.2L303.5 49.2L304 49.2L304.5 49.2L305 49.2L305.5 49.2L306 49.2L306.5 49.2L307 49.2L307.5 49.2L308 49.2L308.5 49.2L309 49.2L309.5 49.2L310 49.2L310.5 49.2L311 49.2L311.5 49.2L312 49.2L312.5 49.2L313 49.2L313.5 49.2L314 49.2L314.5 49.2L315 49.2L315.5 49.2L316 49.2L316.5 49.2L317 49.2L317.5 49.2L318 49.2L318.5 49.2L319 49.2L319.5 49.2L320 49.2L320.5 49.2L321 49.2L321.5 49.2L322 49.2L322.5 49.2L323 49.2L323.5 49.2L324 49.2L324.5 49.2L325 49.2L325.5 49.2L326 49.2L326.5 49.2L327 49.2L327.5 49.2L328 49.2L328.5 49.2L329 49.2L329.5 49.2L330 49.2L330.5 49.2L331 49.2L331.5 49.2L332 49.2L332.5 49.2L333 49.2L333.5 49.2L334 49.2L334.5 49.2L335 49.2L335.5 49.2L336 49.2L336.5 49.2L337 49.2L337.5 49.2L338 49.2L338.5 49.2L339 49.2L339.5 49.2L340 49.2L340.5 49.2L341 49.2L341.5 49.2L342 49.2L342.5 49.2L343 49.2L343.5 49.2L344 49.2L344.5 49.2L345 49.2L345.5 49.2L346 49.2L346.5 49.2L347 49.2L347.5 49.2L348 49.2L348.5 49.2L349 49.2L349.5 49.2L350 49.2L350.5 49.2L351 49.2L351.5 49.2L352 49.2L352.5 49.2L353 49.2L353.5 49.2L354 49.2L354.5 49.2L355 49.2L355.5 49.2L356 49.2L356.5 49.2L357 49.2L357.5 49.2L358 49.2L358.5 49.2L359 49.2L359.5 49.2L360 49.2L360.5 49.2L361 49.2L361.5 49.2L362 49.2L362.5 49.2L363 49.2L363.5 49.2L364 49.2L364.5 49.2L365 49.2L365.5 49.2L366 49.2L366.5 49.2L367 49.2L367.5 49.2L368 49.2L368.5 49.2L369 49.2L369.5 49.2L370 49.2L370.5 49.2L371 49.2L371.5 49.2L372 49.2L372.5 49.2L373 49.2L373.5 49.2L374 49.2L374.5 49.2L375 49.2L375.5 49.2L376 49.2L376.5 49.2L377 49.3L377.5 49.3L378 49.3L378.5 49.3L379 49.3L379.5 49.3L380 49.3L380.5 49.3L381 49.3L381.5 49.3L382 49.3L382.5 49.3L383 49.3L383.5 49.3L384 49.3L384.5 49.3L385 49.3L385.5 49.3L386 49.3L386.5 49.3L387 49.3L387.5 49.3L388 49.3L388.5 49.3L389 49.3L389.5 49.3L390 49.3L390.5 49.3L391 49.3L391.5 49.3L392 49.3L392.5 49.3L393 49.3L393.5 49.3L394 49.3L394.5 49.3L395 49.3L395.5 49.3L396 49.3L396.5 49.3L397 49.3L397.5 49.3L398 49.3L398.5 49.3L399 49.3L399.5 49.3L400 49.3L400.5 49.3L401 49.3L401.5 49.3L402 49.3L402.5 49.3L403 49.3L403.5 49.3L404 49.3L404.5 49.3L405 49.3L405.5 49.3L406 49.3L406.5 49.3L407 49.3L407.5 49.3L408 49.3L408.5 49.3L409 49.3L409.5 49.3L410 49.3L410.5 49.3L411 49.3L411.5 49.3L412 49.3L412.5 49.3L413 49.3L413.5 49.3L414 49.3L414.5 49.3L415 49.3L415.5 49.3L416 49.3L416.5 49.3L417 49.3L417.5 49.3L418 49.3L418.5 49.3L419 49.3L419.5 49.3L420 49.3L420.5 49.3L421 49.3L421.5 49.3L422 49.3L422.5 49.3L423 49.3L423.5 49.3L424 49.3L424.5 49.3L425 49.3L425.5 49.3L426 49.3L426.5 49.3L427 49.3L427.5 49.3L428 49.3L428.5 49.3L429 49.3L429.5 49.3L430 49.3L430.5 49.3L431 49.3L431.5 49.3L432 49.3L432.5 49.3L433 49.3L433.5 49.3L434 49.3L434.5 49.3L435 49.3L435.5 49.3L436 49.3L436.5 49.3L437 49.3L437.5 49.3L438 49.3L438.5 49.3L439 49.3L439.5 49.3L440 49.3L440.5 49.3L441 49.3L441.5 49.3L442 49.3L442.5 49.3L443 49.4L443.5 49.4L444 49.4L444.5 49.4L445 49.4L445.5 49.4L446 49.4L446.5 49.4L447 49.4L447.5 49.4L448 49.5L448.5 49.5L449 49.5L449.5 49.5L450 49.5L450.5 49.5L451 49.5L451.5 49.5L452 49.6L452.5 49.6L453 49.6L453.5 49.6L454 49.6L454.5 49.6L455 49.6L455.5 49.6L456 49.6L456.5 49.7L457 49.7L457.5 49.7L458 49.7L458.5 49.7L459 49.7L459.5 49.7L460 49.7L460.5 49.7L461 49.8L461.5 49.8L462 49.8L462.5 49.8L463 49.8L463.5 49.8L464 49.8L464.5 49.8L465 49.8L465.5 49.9L466 49.9L466.5 49.9L467 49.9L467.5 49.9L468 49.9L468.5 49.9L469 49.9L469.5 49.9L470 50L470.5 50L471 50L471.5 50L472 50L472.5 50L473 50L473.5 50.1L474 50.1L474.5 50.1L475 50.1L475.5 50.1L476 50.1L476.5 50.1L477 50.1L477.5 50.1L478 50.2L478.5 50.2L479 50.2L479.5 50.2L480 50.2L480.5 50.2L481 50.2L481.5 50.2L482 50.2L482.5 50.3L483 50.3L483.5 50.3L484 50.3L484.5 50.3L485 50.3L485.5 50.3L486 50.3L486.5 50.3L487 50.3L487.5 50.3L488 50.3L488.5 50.3L489 50.3L489.5 50.3L490 50.3L490.5 50.3L491 50.3L491.5 50.3L492 50.3L492.5 50.3L493 50.3L493.5 50.3L494 50.3L494.5 50.3L495 50.3L495.5 50.3L496 50.3L496.5 50.3L497 50.3L497.5 50.4L498 50.4L498.5 50.4L499 50.4L499.5 50.4L500 50.4L500.5 50.4L501 50.4L501.5 50.4L502 50.4L502.5 50.4L503 50.4L503.5 50.4L504 50.4L504.5 50.4L505 50.4L505.5 50.4L506 50.4L506.5 50.4L507 50.4L507.5 50.4L508 50.4L508.5 50.4L509 50.4L509.5 50.4L510 50.4L510.5 50.4L511 50.4L511.5 50.4L512 50.4L512.5 50.4L513 50.4L513.5 50.4L514 50.4L514.5 50.3L515 50.3L515.5 50.3L516 50.3L516.5 50.3L517 50.3L517.5 50.3L518 50.3L518.5 50.4L519 50.4L519.5 50.4L520 50.4L520.5 50.4L521 50.4L521.5 50.4L522 50.4L522.5 50.4L523 50.4L523.5 50.4L524 50.4L524.5 50.4L525 50.4L525.5 50.4L526 50.4L526.5 50.4L527 50.4L527.5 50.4L528 50.3L528.5 50.3L529 50.3L529.5 50.3L530 50.3L530.5 50.3L531 50.3L531.5 50.3L532 50.3L532.5 50.3L533 50.3L533.5 50.3L534 50.3L534.5 50.3L535 50.3L535.5 50.3L536 50.3L536.5 50.3L537 50.3L537.5 50.3L538 50.3L538.5 50.3L539 50.3L539.5 50.4L540 50.4L540.5 50.4L541 50.4L541.5 50.4L542 50.4L542.5 50.4L543 50.4L543.5 50.4L544 50.4L544.5 50.4L545 50.4L545.5 50.4L546 50.4L546.5 50.4L547 50.4L547.5 50.4L548 50.4L548.5 50.4L549 50.4L549.5 50.4L550 50.4L550.5 50.4L551 50.4L551.5 50.4L552 50.4L552.5 50.4L553 50.4L553.5 50.4L554 50.4L554.5 50.4L555 50.4L555.5 50.4L556 50.4L556.5 50.4L557 50.4L557.5 50.4L558 50.4L558.5 50.4L559 50.4L559.5 50.4L560 50.4L560.5 50.4L561 50.4L561.5 50.4L562 50.4L562.5 50.4L563 50.4L563.5 50.4L564 50.4L564.5 50.5L565 50.5L565.5 50.5L566 50.5L566.5 50.5L567 50.5L567.5 50.5L568 50.5L568.5 50.5L569 50.5L569.5 50.5L570 50.5L570.5 50.5L571 50.5L571.5 50.5L572 50.5L572.5 50.5L573 50.5L573.5 50.5L574 50.5L574.5 50.5L575 50.5L575.5 50.5L576 50.5L576.5 50.5L577 50.5L577.5 50.4L578 50.4L578.5 50.4L579 50.4L579.5 50.4L580 50.4L580.5 50.4L581 50.4L581.5 50.4L582 50.4L582.5 50.4L583 50.4L583.5 50.4L584 50.4L584.5 50.4L585 50.4L585.5 50.4L586 50.4L586.5 50.4L587 50.4L587.5 50.4L588 50.4L588.5 50.4L589 50.4L589.5 50.4L590 50.4L590.5 50.4L591 50.4L591.5 50.4L592 50.4L592.5 50.4L593 50.4L593.5 50.4L594 50.4L594.5 50.4L595 50.4L595.5 50.4L596 50.4L596.5 50.4L597 50.5L597.5 50.5L598 50.5L598.5 50.5L599 50.5L599.5 50.5L600 50.5L600.5 50.5L601 50.5L601.5 50.5L602 50.5L602.5 50.5L603 50.5L603.5 50.5L604 50.5L604.5 50.6L605 50.6L605.5 50.6L606 50.6L606.5 50.6L607 50.5L607.5 50.5L608 50.5L608.5 50.5L609 50.5L609.5 50.5L610 50.6L610.5 50.6L611 50.6L611.5 50.6L612 50.6L612.5 50.6L613 50.6L613.5 50.6L614 50.6L614.5 50.6L615 50.6L615.5 50.6L616 50.6L616.5 50.6L617 50.6L617.5 50.6L618 50.6L618.5 50.6L619 50.6L619.5 50.6L620 50.6L620.5 50.6L621 50.6L621.5 50.6L622 50.6L622.5 50.6L623 50.6L623.5 50.6L624 50.6L624.5 50.6L625 50.6L625.5 50.6L626 50.6L626.5 50.6L627 50.6L627.5 50.6L628 50.5L628.5 50.5L629 50.5L629.5 50.5L630 50.5L630.5 50.5L631 50.5L631.5 50.4L632 50.4L632.5 50.4L633 50.4L633.5 50.4L634 50.4L634.5 50.4L635 50.5L635.5 50.5L636 50.5L636.5 50.5L637 50.5L637.5 50.5L638 50.6L638.5 50.6L639 50.6L639.5 50.6L640 50.6L640.5 50.6L641 50.6L641.5 50.6L642 50.6L642.5 50.6L643 50.6L643.5 50.6L644 50.6L644.5 50.6L645 50.6L645.5 50.6L646 50.6L646.5 50.6L647 50.6L647.5 50.6L648 50.6L648.5 50.6L649 50.6L649.5 50.6L650 50.7L650.5 50.7L651 50.7L651.5 50.7L652 50.7L652.5 50.7L653 50.7L653.5 50.7L654 50.7L654.5 50.7L655 50.7L655.5 50.7L656 50.8L656.5 50.8L657 50.8L657.5 50.8L658 50.8L658.5 50.8L659 50.8L659.5 50.9L660 50.9L660.5 50.9L661 50.9L661.5 50.9L662 50.9L662.5 50.9L663 50.9L663.5 50.9L664 50.9L664.5 50.9L665 50.9L665.5 50.9L666 51L666.5 51L667 51L667.5 51L668 51L668.5 51L669 51L669.5 51L670 51L670.5 51L671 51.1L671.5 51.1L672 51.1L672.5 51.1L673 51.1L673.5 51.2L674 51.2L674.5 51.2L675 51.2L675.5 51.3L676 51.3L676.5 51.3L677 51.4L677.5 51.4L678 51.4L678.5 51.5L679 51.5L679.5 51.5L680 51.5L680.5 51.6L681 51.6L681.5 51.7L682 51.9L682.5 52L683 52.2L683.5 52.3L684 52.4L684.5 52.6L685 52.7L685.5 52.9L686 53L686.5 53.1L687 53.3L687.5 53.4L688 53.6L688.5 53.7L689 53.9L689.5 54L690 54.2L690.5 54.4L691 54.6L691.5 54.7L692 54.9L692.5 55.1L693 55.3L693.5 55.5L694 55.6L694.5 55.8L695 56L695.5 56.1L696 56.3L696.5 56.4L697 56.5L697.5 56.7L698 56.8L698.5 56.9L699 57L699.5 57.1L700 57.2L700.5 57.3L701 57.4L701.5 57.5L702 57.6L702.5 57.7L703 57.8L703.5 58L704 58.1L704.5 58.2L705 58.3L705.5 58.5L706 58.6L706.5 58.7L707 58.8L707.5 58.9L708 59L708.5 59.1L709 59.2L709.5 59.3L710 59.3L710.5 59.4L711 59.4L711.5 59.4L712 59.4L712.5 59.4L713 59.4L713.5 59.4L714 59.4L714.5 59.4L715 59.5L715.5 59.6L716 59.6L716.5 59.7L717 59.8L717.5 59.9L718 59.9L718.5 60L719 60.1L719.5 60.1L720 60.2L720.5 60.2L721 60.3L721.5 60.3L722 60.4L722.5 60.4L723 60.4L723.5 60.5L724 60.5L724.5 60.6L725 60.6L725.5 60.6L726 60.7L726.5 60.7L727 60.8L727.5 60.8L728 60.9L728.5 60.9L729 60.9L729.5 61L730 61L730.5 61L731 61L731.5 61L732 61.1L732.5 61.1L733 61.1L733.5 61.1L734 61.1L734.5 61.1L735 61.2L735.5 61.2L736 61.2L736.5 61.2L737 61.2L737.5 61.2L738 61.2L738.5 61.2L739 61.2L739.5 61.2L740 61.2L740.5 61.2L741 61.2L741.5 61.2L742 61.2L742.5 61.2L743 61.2L743.5 61.3L744 61.3L744.5 61.3L745 61.4L745.5 61.5L746 61.5L746.5 61.6L747 61.7L747.5 61.7L748 61.8L748.5 61.8L749 61.8L749.5 61.8L750 61.8L750.5 61.7L751 61.7L751.5 61.7L752 61.7L752.5 61.6L753 61.6L753.5 61.5L754 61.5L754.5 61.5L755 61.4L755.5 61.4L756 61.3L756.5 61.3L757 61.2L757.5 61.2L758 61.1L758.5 60.8L759 60.6L759.5 60.3L760 60L760.5 59.7L761 59.5L761.5 59.2L762 58.9L762.5 58.6L763 58.4L763.5 58L764 57.7L764.5 57.4L765 57L765.5 57L766 56.9L766.5 56.8L767 56.7L767.5 56.6L768 56.5L768.5 56.5L769 56.4L769.5 56.4L770 56.3L770.5 56.3L771 56.3L771.5 56.3L772 56.3L772.5 56.3L773 56.3L773.5 56.3L774 56.3L774.5 56.3L775 56.3L775.5 56.3L776 56.3L776.5 56.3L777 56.2L777.5 56.2L778 56.2L778.5 56.2L779 56.2L779.5 56.2L780 56.2L780.5 56.2L781 56.2L781.5 56.2L782 56.2L782.5 56.2L783 56.2L783.5 56.1L784 56.1L784.5 56.1L785 56L785.5 56L786 55.9L786.5 55.9L787 55.8L787.5 55.7L788 55.7L788.5 55.7L789 55.6L789.5 55.6L790 55.6L790.5 55.6L791 55.6L791.5 55.6L792 55.7L792.5 55.7L793 55.7L793.5 55.7L794 55.7L794.5 55.7L795 55.6L795.5 55.6L796 55.5L796.5 55.4L797 55.4L797.5 55.3L798 55.2L798.5 55.1L799 55.1L799.5 55L800 55L800.1 440.4Z" fill="#9c4062"/>
<path d="M61.5 440.4L61.5 49L62 49L62.5 49L63 49L63.5 49L64 49L64.5 49L65 49L65.5 49L66 49L66.5 49L67 49L67.5 49L68 49L68.5 49L69 49L69.5 49L70 49L70.5 49L71 49L71.5 49L72 49L72.5 49L73 49L73.5 49L74 49L74.5 49L75 49L75.5 49L76 49L76.5 49L77 49L77.5 49L78 49L78.5 49L79 49L79.5 49L80 49L80.5 49L81 49L81.5 49L82 49L82.5 49L83 49L83.5 49L84 49L84.5 49L85 49L85.5 49L86 49L86.5 49L87 49L87.5 49L88 49L88.5 49L89 49L89.5 49L90 49L90.5 49L91 49L91.5 49L92 49L92.5 49L93 49L93.5 49L94 49L94.5 49L95 49L95.5 49L96 49L96.5 49L97 49L97.5 49L98 49L98.5 49L99 49L99.5 49L100 49L100.5 49L101 49L101.5 49L102 49L102.5 49L103 49L103.5 49L104 49L104.5 49L105 49L105.5 49L106 49L106.5 49L107 49L107.5 49L108 49L108.5 49L109 49L109.5 49L110 49L110.5 49L111 49L111.5 49L112 49L112.5 49L113 49L113.5 49L114 49L114.5 49L115 49L115.5 49L116 49L116.5 49L117 49L117.5 49L118 49L118.5 49L119 49L119.5 49L120 49L120.5 49L121 49L121.5 49L122 49L122.5 49L123 49L123.5 49L124 49L124.5 49L125 49.1L125.5 49.1L126 49.1L126.5 49.1L127 49.1L127.5 49.1L128 49.1L128.5 49.1L129 49.1L129.5 49.1L130 49.1L130.5 49.1L131 49.1L131.5 49.1L132 49.1L132.5 49.1L133 49.1L133.5 49.1L134 49.1L134.5 49.1L135 49.1L135.5 49.1L136 49.1L136.5 49.1L137 49.1L137.5 49.1L138 49.1L138.5 49.1L139 49.1L139.5 49.1L140 49.1L140.5 49.1L141 49.1L141.5 49.1L142 49.1L142.5 49.1L143 49.1L143.5 49.1L144 49.1L144.5 49.1L145 49.1L145.5 49.1L146 49.1L146.5 49.1L147 49.1L147.5 49.1L148 49.1L148.5 49.1L149 49.1L149.5 49.1L150 49.1L150.5 49.1L151 49.1L151.5 49.1L152 49.1L152.5 49.1L153 49.1L153.5 49.1L154 49.1L154.5 49.1L155 49.1L155.5 49.1L156 49.1L156.5 49.1L157 49.1L157.5 49.1L158 49.1L158.5 49.1L159 49.1L159.5 49.1L160 49.1L160.5 49.1L161 49.1L161.5 49.1L162 49.1L162.5 49.1L163 49.1L163.5 49.1L164 49.1L164.5 49.1L165 49.1L165.5 49.1L166 49.1L166.5 49.1L167 49.1L167.5 49.1L168 49.1L168.5 49.1L169 49.1L169.5 49.1L170 49.1L170.5 49.1L171 49.1L171.5 49.1L172 49.1L172.5 49.1L173 49.1L173.5 49.1L174 49.1L174.5 49.1L175 49.1L175.5 49.1L176 49.1L176.5 49.1L177 49.1L177.5 49.1L178 49.1L178.5 49.1L179 49.1L179.5 49.1L180 49.1L180.5 49.1L181 49.1L181.5 49.1L182 49.1L182.5 49.1L183 49.1L183.5 49.1L184 49.1L184.5 49.1L185 49.1L185.5 49.1L186 49.1L186.5 49.1L187 49.1L187.5 49.1L188 49.1L188.5 49.1L189 49.1L189.5 49.1L190 49.1L190.5 49.1L191 49.1L191.5 49.1L192 49.1L192.5 49.1L193 49.1L193.5 49.1L194 49.1L194.5 49.1L195 49.1L195.5 49.1L196 49.1L196.5 49.1L197 49.1L197.5 49.1L198 49.1L198.5 49.1L199 49.1L199.5 49.1L200 49.1L200.5 49.1L201 49.1L201.5 49.1L202 49.1L202.5 49.1L203 49.1L203.5 49.1L204 49.1L204.5 49.1L205 49.1L205.5 49.1L206 49.1L206.5 49.1L207 49.1L207.5 49.1L208 49.1L208.5 49.1L209 49.1L209.5 49.1L210 49.1L210.5 49.1L211 49.1L211.5 49.1L212 49.1L212.5 49.1L213 49.1L213.5 49.1L214 49.1L214.5 49.1L215 49.1L215.5 49.1L216 49.1L216.5 49.1L217 49.1L217.5 49.1L218 49.1L218.5 49.1L219 49.1L219.5 49.1L220 49.1L220.5 49.1L221 49.1L221.5 49.1L222 49.1L222.5 49.1L223 49.1L223.5 49.1L224 49.1L224.5 49.1L225 49.1L225.5 49.1L226 49.1L226.5 49.1L227 49.1L227.5 49.1L228 49.1L228.5 49.1L229 49.1L229.5 49.1L230 49.1L230.5 49.1L231 49.1L231.5 49.1L232 49.1L232.5 49.1L233 49.1L233.5 49.1L234 49.1L234.5 49.1L235 49.1L235.5 49.1L236 49.1L236.5 49.1L237 49.1L237.5 49.1L238 49.1L238.5 49.1L239 49.1L239.5 49.1L240 49.1L240.5 49.1L241 49.1L241.5 49.1L242 49.1L242.5 49.1L243 49.1L243.5 49.1L244 49.1L244.5 49.1L245 49.1L245.5 49.1L246 49.1L246.5 49.1L247 49.1L247.5 49.1L248 49.1L248.5 49.1L249 49.1L249.5 49.1L250 49.1L250.5 49.1L251 49.1L251.5 49.1L252 49.1L252.5 49.1L253 49.1L253.5 49.1L254 49.1L254.5 49.1L255 49.1L255.5 49.1L256 49.1L256.5 49.1L257 49.1L257.5 49.1L258 49.1L258.5 49.2L259 49.2L259.5 49.2L260 49.2L260.5 49.1L261 49.1L261.5 49.1L262 49.1L262.5 49.1L263 49.1L263.5 49.1L264 49.1L264.5 49.1L265 49.2L265.5 49.2L266 49.2L266.5 49.2L267 49.2L267.5 49.2L268 49.2L268.5 49.2L269 49.2L269.5 49.2L270 49.2L270.5 49.2L271 49.2L271.5 49.2L272 49.2L272.5 49.2L273 49.2L273.5 49.2L274 49.2L274.5 49.2L275 49.2L275.5 49.2L276 49.2L276.5 49.2L277 49.2L277.5 49.2L278 49.2L278.5 49.2L279 49.2L279.5 49.2L280 49.2L280.5 49.2L281 49.2L281.5 49.2L282 49.2L282.5 49.2L283 49.2L283.5 49.2L284 49.2L284.5 49.2L285 49.2L285.5 49.2L286 49.2L286.5 49.2L287 49.2L287.5 49.2L288 49.2L288.5 49.2L289 49.2L289.5 49.2L290 49.2L290.5 49.2L291 49.2L291.5 49.2L292 49.2L292.5 49.2L293 49.2L293.5 49.2L294 49.2L294.5 49.2L295 49.2L295.5 49.2L296 49.2L296.5 49.2L297 49.2L297.5 49.2L298 49.2L298.5 49.2L299 49.2L299.5 49.2L300 49.2L300.5 49.2L301 49.2L301.5 49.2L302 49.2L302.5 49.2L303 49.2L303.5 49.2L304 49.2L304.5 49.2L305 49.2L305.5 49.2L306 49.2L306.5 49.2L307 49.2L307.5 49.2L308 49.2L308.5 49.2L309 49.2L309.5 49.2L310 49.2L310.5 49.2L311 49.2L311.5 49.2L312 49.2L312.5 49.2L313 49.2L313.5 49.2L314 49.2L314.5 49.2L315 49.2L315.5 49.2L316 49.2L316.5 49.2L317 49.2L317.5 49.2L318 49.2L318.5 49.2L319 49.2L319.5 49.2L320 49.2L320.5 49.2L321 49.2L321.5 49.2L322 49.2L322.5 49.2L323 49.2L323.5 49.2L324 49.2L324.5 49.2L325 49.2L325.5 49.2L326 49.2L326.5 49.2L327 49.2L327.5 49.2L328 49.2L328.5 49.2L329 49.2L329.5 49.2L330 49.2L330.5 49.2L331 49.2L331.5 49.2L332 49.2L332.5 49.2L333 49.2L333.5 49.2L334 49.2L334.5 49.2L335 49.2L335.5 49.2L336 49.2L336.5 49.2L337 49.2L337.5 49.2L338 49.2L338.5 49.2L339 49.2L339.5 49.2L340 49.2L340.5 49.2L341 49.2L341.5 49.2L342 49.2L342.5 49.2L343 49.2L343.5 49.2L344 49.2L344.5 49.2L345 49.2L345.5 49.2L346 49.2L346.5 49.2L347 49.2L347.5 49.2L348 49.2L348.5 49.3L349 49.5L349.5 49.8L350 50L350.5 50.2L351 50.5L351.5 50.7L352 50.9L352.5 51.2L353 51.6L353.5 52L354 52.4L354.5 52.8L355 52.9L355.5 53L356 53.2L356.5 53.3L357 53.4L357.5 53.5L358 53.6L358.5 53.6L359 53.7L359.5 53.7L360 53.7L360.5 53.7L361 53.8L361.5 53.8L362 53.9L362.5 53.9L363 54L363.5 54.1L364 54.2L364.5 54.3L365 54.4L365.5 54.4L366 54.5L366.5 54.5L367 54.5L367.5 54.5L368 54.5L368.5 54.5L369 54.5L369.5 54.5L370 54.6L370.5 54.7L371 54.8L371.5 54.9L372 55L372.5 55.1L373 55.2L373.5 55.3L374 55.5L374.5 55.6L375 55.7L375.5 55.7L376 55.8L376.5 55.8L377 55.9L377.5 56L378 56L378.5 56.1L379 56.3L379.5 56.4L380 57.7L380.5 59L381 60.3L381.5 61.6L382 63L382.5 64.3L383 65.5L383.5 66.8L384 68L384.5 69.2L385 71.4L385.5 73.6L386 75.8L386.5 77.9L387 80.1L387.5 82.2L388 84.4L388.5 86.6L389 88.8L389.5 91L390 91.6L390.5 92.2L391 92.9L391.5 93.5L392 94.2L392.5 94.9L393 95.6L393.5 96.3L394 97L394.5 97.7L395 98.3L395.5 98.9L396 99.5L396.5 100.1L397 100.7L397.5 101.3L398 101.8L398.5 102.4L399 102.9L399.5 103.5L400 103.1L400.5 102.7L401 102.3L401.5 101.9L402 101.5L402.5 101.1L403 100.7L403.5 100.3L404 100L404.5 99.7L405 99.4L405.5 99.2L406 98.9L406.5 98.7L407 98.6L407.5 98.4L408 98.3L408.5 97.7L409 97.2L409.5 96.6L410 96L410.5 95.4L411 94.8L411.5 94.1L412 93.4L412.5 92.7L413 91.9L413.5 91.1L414 90.4L414.5 89.6L415 88.9L415.5 88.3L416 87.6L416.5 87L417 86.3L417.5 85.1L418 83.9L418.5 82.6L419 81.3L419.5 80L420 78.7L420.5 77.4L421 76.2L421.5 74.9L422 73.7L422.5 73.3L423 72.9L423.5 72.4L424 72L424.5 71.5L425 71.1L425.5 70.6L426 70.2L426.5 69.7L427 69.2L427.5 68.7L428 68.3L428.5 67.8L429 67.2L429.5 66.7L430 66.1L430.5 65.6L431 65L431.5 64.3L432 63.8L432.5 63.3L433 62.9L433.5 62.6L434 62.2L434.5 62L435 61.7L435.5 61.5L436 61.3L436.5 61.1L437 60.8L437.5 60.5L438 60.1L438.5 59.7L439 59.2L439.5 58.7L440 58.2L440.5 57.6L441 57L441.5 56.5L442 56.1L442.5 56L443 56L443.5 56L444 56.1L444.5 56.2L445 56.3L445.5 56.3L446 56.4L446.5 56.4L447 56.4L447.5 56.4L448 56.3L448.5 56.3L449 56.2L449.5 56.2L450 56.1L450.5 56.1L451 56L451.5 55.9L452 55.9L452.5 55.8L453 55.8L453.5 55.7L454 55.6L454.5 55.6L455 55.5L455.5 55.5L456 55.4L456.5 55.4L457 55.4L457.5 55.4L458 55.5L458.5 55.5L459 55.5L459.5 55.6L460 55.6L460.5 55.6L461 55.7L461.5 55.7L462 55.6L462.5 55.6L463 55.6L463.5 55.5L464 55.4L464.5 55.3L465 55.3L465.5 55.3L466 55.3L466.5 55.3L467 55.4L467.5 55.5L468 55.5L468.5 55.6L469 55.7L469.5 55.7L470 55.8L470.5 55.7L471 55.7L471.5 55.6L472 55.5L472.5 55.4L473 55.4L473.5 55.3L474 55.3L474.5 55.2L475 55.2L475.5 55.2L476 55.2L476.5 55.1L477 55.1L477.5 55L478 54.9L478.5 54.9L479 54.8L479.5 54.7L480 54.6L480.5 54.6L481 54.5L481.5 54.5L482 54.4L482.5 54.4L483 54.4L483.5 54.4L484 54.4L484.5 54.4L485 54.4L485.5 54.5L486 54.5L486.5 54.5L487 54.6L487.5 54.6L488 54.7L488.5 54.7L489 54.8L489.5 54.9L490 54.9L490.5 54.9L491 55L491.5 55L492 55L492.5 54.9L493 54.9L493.5 54.9L494 54.9L494.5 54.9L495 54.9L495.5 54.9L496 54.9L496.5 54.9L497 54.9L497.5 54.9L498 54.9L498.5 54.9L499 54.9L499.5 54.9L500 54.9L500.5 54.9L501 54.8L501.5 54.8L502 54.7L502.5 54.7L503 54.7L503.5 54.7L504 54.7L504.5 54.7L505 54.7L505.5 54.8L506 54.9L506.5 54.9L507 55L507.5 55L508 55.1L508.5 55.1L509 55.1L509.5 55.1L510 55L510.5 55L511 54.9L511.5 54.9L512 54.9L512.5 54.8L513 54.8L513.5 54.8L514 54.8L514.5 54.8L515 54.9L515.5 54.9L516 54.9L516.5 54.8L517 54.8L517.5 54.7L518 54.7L518.5 54.6L519 54.6L519.5 54.6L520 54.6L520.5 54.6L521 54.6L521.5 54.7L522 54.8L522.5 55L523 55.1L523.5 55.3L524 55.4L524.5 55.5L525 55.6L525.5 55.6L526 55.5L526.5 55.4L527 55.3L527.5 55.2L528 55.2L528.5 55.1L529 55L529.5 55L530 55L530.5 55L531 55L531.5 55L532 55L532.5 55.1L533 55.1L533.5 55.2L534 55.2L534.5 55.3L535 55.4L535.5 55.5L536 55.5L536.5 55.6L537 55.6L537.5 55.7L538 55.7L538.5 55.7L539 55.7L539.5 55.7L540 55.7L540.5 55.8L541 55.8L541.5 55.8L542 55.8L542.5 55.9L543 56L543.5 56.1L544 56.2L544.5 56.3L545 56.3L545.5 56.4L546 56.4L546.5 56.3L547 56.1L547.5 55.9L548 55.7L548.5 55.5L549 55.4L549.5 55.3L550 55.4L550.5 55.4L551 55.6L551.5 55.7L552 55.9L552.5 56.1L553 56.2L553.5 56.3L554 56.4L554.5 56.5L555 56.5L555.5 56.5L556 56.5L556.5 56.5L557 56.5L557.5 56.5L558 56.5L558.5 56.6L559 56.6L559.5 56.5L560 56.5L560.5 56.4L561 56.4L561.5 56.3L562 56.2L562.5 56.2L563 56.1L563.5 56.1L564 56.2L564.5 56.3L565 56.4L565.5 56.6L566 56.7L566.5 56.9L567 57L567.5 57.1L568 57.1L568.5 57.1L569 57.1L569.5 57L570 57L570.5 57.1L571 57.2L571.5 57.4L572 57.5L572.5 57.7L573 57.9L573.5 58L574 58.2L574.5 58.4L575 58.5L575.5 58.7L576 58.9L576.5 59L577 59.2L577.5 59.3L578 59.5L578.5 59.7L579 59.9L579.5 60.1L580 60.3L580.5 60.6L581 60.9L581.5 61.2L582 61.5L582.5 61.8L583 62.1L583.5 62.4L584 62.7L584.5 63L585 63.2L585.5 63.6L586 64L586.5 64.4L587 64.7L587.5 65.1L588 65.4L588.5 65.8L589 66.1L589.5 66.4L590 66.7L590.5 67L591 67.3L591.5 67.6L592 67.9L592.5 68.2L593 68.5L593.5 68.8L594 69.1L594.5 69.4L595 69.6L595.5 69.4L596 69.2L596.5 69.1L597 69L597.5 69L598 68.9L598.5 69L599 69L599.5 68.9L600 68.9L600.5 68.8L601 68.7L601.5 68.6L602 68.5L602.5 68.3L603 68.1L603.5 67.9L604 67.8L604.5 67.6L605 67.4L605.5 67.4L606 67.3L606.5 67.3L607 67.3L607.5 67.2L608 67.1L608.5 67.1L609 67L609.5 66.9L610 66.9L610.5 66.9L611 67L611.5 67.1L612 67.1L612.5 67.2L613 67.3L613.5 67.4L614 67.4L614.5 67.5L615 67.5L615.5 67.6L616 67.6L616.5 67.7L617 67.7L617.5 67.7L618 67.6L618.5 67.6L619 67.4L619.5 67.3L620 67.1L620.5 67L621 66.8L621.5 66.7L622 66.7L622.5 66.6L623 66.7L623.5 66.7L624 66.8L624.5 66.9L625 67L625.5 67L626 67L626.5 66.9L627 66.9L627.5 66.8L628 66.6L628.5 66.5L629 66.4L629.5 66.3L630 66.2L630.5 66.1L631 66.1L631.5 66L632 65.9L632.5 65.8L633 65.7L633.5 65.5L634 65.4L634.5 65.2L635 65L635.5 64.9L636 64.8L636.5 64.7L637 64.6L637.5 64.5L638 64.4L638.5 64.4L639 64.5L639.5 64.6L640 64.7L640.5 64.8L641 64.9L641.5 65L642 65.1L642.5 65.1L643 65.2L643.5 65.2L644 65.2L644.5 65.2L645 65.2L645.5 65.3L646 65.3L646.5 65.2L647 65.2L647.5 65.2L648 65.1L648.5 65.1L649 65L649.5 65L650 65.1L650.5 65.2L651 65.3L651.5 65.5L652 65.7L652.5 65.8L653 66L653.5 66.1L654 66.2L654.5 66.2L655 66.2L655.5 66.2L656 66.2L656.5 66.1L657 66.1L657.5 66.2L658 66.2L658.5 66.2L659 66.3L659.5 66.4L660 66.4L660.5 66.4L661 66.4L661.5 66.4L662 66.4L662.5 66.3L663 66.3L663.5 66.4L664 66.4L664.5 66.5L665 66.6L665.5 66.8L666 66.9L666.5 67L667 67.1L667.5 67.1L668 67.2L668.5 67.2L669 67.3L669.5 67.4L670 67.5L670.5 67.6L671 67.7L671.5 67.8L672 67.9L672.5 68L673 68L673.5 68.1L674 68.2L674.5 68.3L675 68.3L675.5 68.4L676 68.5L676.5 68.6L677 68.7L677.5 68.8L678 68.9L678.5 68.9L679 69L679.5 69.1L680 69.1L680.5 69.2L681 69.2L681.5 69.3L682 69.3L682.5 69.4L683 69.5L683.5 69.6L684 69.7L684.5 69.9L685 70L685.5 70.2L686 70.3L686.5 70.4L687 70.6L687.5 70.6L688 70.7L688.5 70.7L689 70.7L689.5 70.6L690 70.6L690.5 70.5L691 70.5L691.5 70.4L692 70.3L692.5 70.3L693 70.2L693.5 70.2L694 70.2L694.5 70.3L695 70.3L695.5 70.5L696 70.6L696.5 70.8L697 70.9L697.5 71L698 71.2L698.5 71.3L699 71.4L699.5 71.5L700 71.6L700.5 71.8L701 71.9L701.5 72L702 72.1L702.5 72.3L703 72.5L703.5 72.7L704 72.8L704.5 73L705 73.2L705.5 73.4L706 73.5L706.5 73.6L707 73.7L707.5 73.8L708 73.8L708.5 73.8L709 73.7L709.5 73.7L710 73.7L710.5 73.6L711 73.7L711.5 73.7L712 73.8L712.5 73.9L713 74L713.5 74.1L714 74.2L714.5 74.3L715 74.4L715.5 74.4L716 74.5L716.5 74.5L717 74.6L717.5 74.6L718 74.7L718.5 74.8L719 74.9L719.5 75L720 75.1L720.5 75.2L721 75.3L721.5 75.3L722 75.4L722.5 75.4L723 75.4L723.5 75.4L724 75.4L724.5 75.4L725 75.5L725.5 75.7L726 75.8L726.5 76L727 76.2L727.5 76.4L728 76.6L728.5 76.7L729 76.8L729.5 76.9L730 76.9L730.5 76.9L731 76.9L731.5 76.8L732 76.8L732.5 76.7L733 76.7L733.5 76.6L734 76.6L734.5 76.6L735 76.7L735.5 76.8L736 76.9L736.5 77L737 77.2L737.5 77.3L738 77.5L738.5 77.6L739 77.7L739.5 77.7L740 77.8L740.5 77.9L741 77.9L741.5 78L742 78L742.5 78L743 78L743.5 78L744 78L744.5 78.1L745 78.1L745.5 78.2L746 78.3L746.5 78.4L747 78.5L747.5 78.6L748 78.7L748.5 79.4L749 80.1L749.5 80.8L750 81.5L750.5 82.2L751 83L751.5 83.7L752 84.4L752.5 85.2L753 85.9L753.5 86.6L754 87.3L754.5 88L755 88.7L755.5 89.3L756 90.2L756.5 91L757 91.9L757.5 92.7L758 93.5L758.5 94.4L759 95.1L759.5 95.9L760 96.7L760.5 97.5L761 98.2L761.5 99L762 99.8L762.5 100.6L763 101.4L763.5 102.2L764 103L764.5 103.8L765 104.6L765.5 105.4L766 106.2L766.5 107L767 107.9L767.5 108.7L768 109.5L768.5 110.3L769 111.1L769.5 111.8L770 112.5L770.5 113.1L771 113.7L771.5 114.3L772 114.9L772.5 115.6L773 116.2L773.5 116.1L774 116.1L774.5 116.1L775 116.1L775.5 116.2L776 116.2L776.5 116.3L777 116.3L777.5 116.4L778 116.4L778.5 116.4L779 116.4L779.5 116.4L780 116.4L780.5 116.4L781 116.4L781.5 116.4L782 116.3L782.5 116.3L783 116.3L783.5 116.2L784 116.2L784.5 116.1L785 116L785.5 116L786 116L786.5 116L787 116.1L787.5 116.2L788 116.3L788.5 116.6L789 116.8L789.5 117L790 117.2L790.5 117.3L791 117.5L791.5 117.6L792 117.8L792.5 117.9L793 118.1L793.5 118.3L794 118.5L794.5 118.7L795 118.9L795.5 119.1L796 119.2L796.5 119.4L797 119.5L797.5 119.6L798 119.6L798.5 119.7L799 119.7L799.5 119.7L800 119.7L800.1 440.4Z" fill="#983c7c"/>
<path d="M61.5 440.4L61.5 49L62 49L62.5 49L63 49L63.5 49L64 49L64.5 49L65 49L65.5 49L66 49L66.5 49L67 49L67.5 49L68 49L68.5 49L69 49L69.5 49L70 49L70.5 49L71 49L71.5 49L72 49L72.5 49L73 49L73.5 49L74 49L74.5 49L75 49L75.5 49L76 49L76.5 49L77 49L77.5 49L78 49L78.5 49L79 49L79.5 49L80 49L80.5 49L81 49L81.5 49L82 49L82.5 49L83 49L83.5 49L84 49L84.5 49L85 49L85.5 49L86 49L86.5 49L87 49L87.5 49L88 49L88.5 49L89 49L89.5 49L90 49L90.5 49L91 49L91.5 49L92 49L92.5 49L93 49L93.5 49L94 49L94.5 49L95 49L95.5 49L96 49L96.5 49L97 49L97.5 49L98 49L98.5 49L99 49L99.5 49L100 49L100.5 49L101 49L101.5 49L102 49L102.5 49L103 49L103.5 49L104 49L104.5 49L105 49L105.5 49L106 49L106.5 49L107 49L107.5 49L108 49L108.5 49L109 49L109.5 49L110 49L110.5 49L111 49L111.5 49L112 49L112.5 49L113 49L113.5 49L114 49L114.5 49L115 49L115.5 49L116 49L116.5 49L117 49L117.5 49L118 49L118.5 49L119 49L119.5 49L120 49L120.5 49L121 49L121.5 49L122 49L122.5 49L123 49L123.5 49L124 49L124.5 49L125 49.1L125.5 49.1L126 49.1L126.5 49.1L127 49.1L127.5 49.1L128 49.1L128.5 49.1L129 49.1L129.5 49.1L130 49.1L130.5 49.1L131 49.1L131.5 49.1L132 49.1L132.5 49.1L133 49.1L133.5 49.1L134 49.1L134.5 49.1L135 49.1L135.5 49.1L136 49.1L136.5 49.1L137 49.1L137.5 49.1L138 49.1L138.5 49.1L139 49.1L139.5 49.1L140 49.1L140.5 49.1L141 49.1L141.5 49.1L142 49.1L142.5 49.1L143 49.1L143.5 49.1L144 49.1L144.5 49.1L145 49.1L145.5 49.1L146 49.1L146.5 49.1L147 49.1L147.5 49.1L148 49.1L148.5 49.1L149 49.1L149.5 49.1L150 49.1L150.5 49.1L151 49.1L151.5 49.1L152 49.1L152.5 49.1L153 49.1L153.5 49.1L154 49.1L154.5 49.1L155 49.1L155.5 49.1L156 49.1L156.5 49.1L157 49.1L157.5 49.1L158 49.1L158.5 49.1L159 49.1L159.5 49.1L160 49.1L160.5 49.1L161 49.1L161.5 49.1L162 49.1L162.5 49.1L163 49.1L163.5 49.1L164 49.1L164.5 49.1L165 49.1L165.5 49.1L166 49.1L166.5 49.1L167 49.1L167.5 49.1L168 49.1L168.5 49.1L169 49.1L169.5 49.1L170 49.1L170.5 49.1L171 49.1L171.5 49.1L172 49.1L172.5 49.1L173 49.1L173.5 49.1L174 49.1L174.5 49.1L175 49.1L175.5 49.1L176 49.1L176.5 49.1L177 49.1L177.5 49.1L178 49.1L178.5 49.1L179 49.1L179.5 49.1L180 49.1L180.5 49.1L181 49.1L181.5 49.1L182 49.1L182.5 49.1L183 49.1L183.5 49.1L184 49.1L184.5 49.1L185 49.1L185.5 49.1L186 49.1L186.5 49.1L187 49.1L187.5 49.1L188 49.1L188.5 49.1L189 49.1L189.5 49.1L190 49.1L190.5 49.1L191 49.1L191.5 49.1L192 49.1L192.5 49.1L193 49.1L193.5 49.1L194 49.1L194.5 49.1L195 49.1L195.5 49.1L196 49.1L196.5 49.1L197 49.1L197.5 49.1L198 49.1L198.5 49.1L199 49.1L199.5 49.1L200 49.1L200.5 49.1L201 49.1L201.5 49.1L202 49.1L202.5 49.1L203 49.1L203.5 49.2L204 49.4L204.5 49.7L205 49.9L205.5 50.2L206 50.6L206.5 50.9L207 51.3L207.5 51.6L208 52L208.5 52.3L209 52.7L209.5 53L210 53.3L210.5 53.6L211 53.9L211.5 54.2L212 54.3L212.5 54.3L213 54.3L213.5 54.3L214 54.4L214.5 54.5L215 54.6L215.5 54.8L216 55L216.5 55.2L217 55.4L217.5 55.6L218 55.7L218.5 55.8L219 55.9L219.5 55.9L220 55.9L220.5 55.8L221 55.8L221.5 55.8L222 55.7L222.5 55.6L223 55.5L223.5 55.4L224 55.4L224.5 55.3L225 55.3L225.5 55.2L226 55.1L226.5 55L227 54.9L227.5 54.7L228 54.6L228.5 54.2L229 53.5L229.5 52.9L230 52.2L230.5 51.6L231 51L231.5 50.5L232 50.3L232.5 50.3L233 50.3L233.5 50.3L234 50.3L234.5 50.3L235 50.3L235.5 50.3L236 50.3L236.5 50.3L237 50.3L237.5 50.3L238 50.3L238.5 50.4L239 50.4L239.5 50.4L240 50.4L240.5 50.4L241 50.4L241.5 50.4L242 50.4L242.5 50.4L243 50.4L243.5 50.4L244 50.4L244.5 50.4L245 50.4L245.5 50.4L246 50.4L246.5 50.3L247 50.3L247.5 50.3L248 50.2L248.5 50.2L249 50.2L249.5 50.2L250 50.2L250.5 50.2L251 50.2L251.5 50.2L252 50.3L252.5 50.2L253 50.2L253.5 50.2L254 50.2L254.5 50.2L255 50.2L255.5 50.2L256 50.2L256.5 50.2L257 50.3L257.5 50.3L258 50.3L258.5 50.3L259 50.3L259.5 50.3L260 50.3L260.5 50.3L261 50.3L261.5 50.3L262 50.3L262.5 50.3L263 50.3L263.5 50.3L264 50.3L264.5 50.2L265 50.2L265.5 50.2L266 50.2L266.5 50.2L267 50.2L267.5 50.2L268 50.3L268.5 50.3L269 50.3L269.5 50.4L270 50.4L270.5 50.4L271 50.4L271.5 50.4L272 50.4L272.5 50.4L273 50.4L273.5 50.4L274 50.4L274.5 50.4L275 50.3L275.5 50.3L276 50.3L276.5 50.3L277 50.3L277.5 50.3L278 50.3L278.5 50.3L279 50.3L279.5 50.3L280 50.3L280.5 50.3L281 50.2L281.5 50.2L282 50.2L282.5 50.2L283 50.2L283.5 50.2L284 50.2L284.5 50.2L285 50.2L285.5 50.2L286 50.2L286.5 50.3L287 50.3L287.5 50.3L288 50.3L288.5 50.3L289 50.3L289.5 50.3L290 50.3L290.5 50.3L291 50.3L291.5 50.3L292 50.3L292.5 50.3L293 50.3L293.5 50.3L294 50.3L294.5 50.3L295 50.3L295.5 50.3L296 50.3L296.5 50.2L297 50.2L297.5 50.2L298 50.2L298.5 50.2L299 50.1L299.5 50.1L300 50.2L300.5 50.6L301 51L301.5 51.5L302 52L302.5 52.4L303 52.9L303.5 53.4L304 54L304.5 54.5L305 55L305.5 55.5L306 56L306.5 56.3L307 56.6L307.5 56.7L308 56.9L308.5 57L309 57.1L309.5 57.2L310 57.4L310.5 57.6L311 57.9L311.5 58.2L312 58.5L312.5 58.7L313 58.9L313.5 59.1L314 59.4L314.5 59.6L315 59.9L315.5 60.2L316 60.4L316.5 60.6L317 60.8L317.5 60.9L318 61L318.5 61.1L319 61.1L319.5 61.1L320 61.1L320.5 61.1L321 61.1L321.5 61.2L322 61.2L322.5 61.3L323 61.5L323.5 61.6L324 61.8L324.5 62L325 62.2L325.5 62.5L326 62.8L326.5 63L327 63.2L327.5 63.4L328 63.6L328.5 63.7L329 63.8L329.5 63.9L330 65.2L330.5 66.6L331 67.9L331.5 69.2L332 70.5L332.5 71.9L333 73.2L333.5 77.9L334 82.6L334.5 87.3L335 92.1L335.5 96.9L336 101.7L336.5 106.5L337 111.3L337.5 114.6L338 117.9L338.5 121.2L339 124.5L339.5 127.8L340 131.1L340.5 134.4L341 137.7L341.5 141L342 144.3L342.5 145.9L343 147.4L343.5 148.9L344 150.3L344.5 151.8L345 153.2L345.5 154.6L346 155.9L346.5 157.2L347 158.6L347.5 160L348 161.4L348.5 162.9L349 164.4L349.5 166L350 166.7L350.5 167.4L351 168.1L351.5 168.8L352 169.4L352.5 170L353 170.6L353.5 171.1L354 171.7L354.5 172.3L355 172.8L355.5 173.4L356 174L356.5 174.6L357 175.2L357.5 175.3L358 175.4L358.5 175.5L359 175.5L359.5 175.5L360 175.5L360.5 175.6L361 175.6L361.5 175.8L362 175.9L362.5 176L363 176.2L363.5 176.3L364 176.4L364.5 176.5L365 176.6L365.5 176.6L366 176.6L366.5 176.6L367 176.7L367.5 176.7L368 176.8L368.5 176.9L369 177L369.5 177.1L370 177.2L370.5 177.3L371 177.3L371.5 177.3L372 177.2L372.5 177.2L373 177.1L373.5 177.1L374 177L374.5 177L375 176.9L375.5 176.9L376 176.9L376.5 176.9L377 177L377.5 177L378 177L378.5 177.1L379 177.1L379.5 177.1L380 177.1L380.5 176.7L381 176.2L381.5 175.7L382 175.2L382.5 174.6L383 174.1L383.5 173.6L384 173.1L384.5 172.7L385 172.3L385.5 171.9L386 171.5L386.5 171.1L387 170.7L387.5 170.2L388 169.8L388.5 167.9L389 166.1L389.5 164.3L390 162.6L390.5 160.8L391 159.1L391.5 157.5L392 155.9L392.5 155.2L393 154.6L393.5 153.9L394 153.3L394.5 152.6L395 152L395.5 151.3L396 150.7L396.5 150L397 149.3L397.5 148.6L398 147.9L398.5 147.1L399 146.3L399.5 145.5L400 144.7L400.5 143.8L401 142.9L401.5 142.1L402 141.2L402.5 140.1L403 138.9L403.5 137.8L404 136.8L404.5 135.7L405 134.7L405.5 133.7L406 132.7L406.5 131.8L407 130.9L407.5 129.9L408 129L408.5 128.1L409 127.3L409.5 126.4L410 125.5L410.5 124.7L411 123.4L411.5 121.6L412 119.8L412.5 117.9L413 116L413.5 114.1L414 112.1L414.5 110.2L415 108.2L415.5 106.3L416 104.3L416.5 102.4L417 100.5L417.5 98.6L418 96.8L418.5 94.9L419 93.1L419.5 91.3L420 90L420.5 88.7L421 87.3L421.5 85.9L422 84.6L422.5 83.2L423 81.8L423.5 80.4L424 79L424.5 77.6L425 76.2L425.5 74.8L426 73.8L426.5 73.2L427 72.6L427.5 72L428 71.5L428.5 70.9L429 70.4L429.5 69.8L430 69.3L430.5 68.9L431 68.4L431.5 68L432 67.5L432.5 67.1L433 66.6L433.5 66.1L434 65.6L434.5 65L435 64.6L435.5 64.2L436 63.8L436.5 63.4L437 63L437.5 62.6L438 62.1L438.5 61.7L439 61.2L439.5 60.7L440 60.2L440.5 59.7L441 59.3L441.5 58.9L442 58.5L442.5 58.2L443 57.8L443.5 57.6L444 57.4L444.5 57.1L445 57.3L445.5 57.4L446 57.6L446.5 57.6L447 57.7L447.5 57.6L448 57.6L448.5 57.5L449 57.4L449.5 57.4L450 57.3L450.5 57.3L451 57.2L451.5 57.2L452 57.1L452.5 57.1L453 57L453.5 56.9L454 56.9L454.5 56.9L455 56.9L455.5 56.9L456 57L456.5 57.1L457 57.2L457.5 57.2L458 57.3L458.5 57.3L459 57.3L459.5 57.2L460 57.1L460.5 57L461 56.9L461.5 56.8L462 56.7L462.5 56.7L463 56.7L463.5 56.8L464 56.8L464.5 56.7L465 56.7L465.5 56.7L466 56.6L466.5 56.6L467 56.6L467.5 56.7L468 56.9L468.5 57L469 57.2L469.5 57.3L470 57.4L470.5 57.4L471 57.4L471.5 57.4L472 57.3L472.5 57.3L473 57.2L473.5 57.2L474 57.2L474.5 57.1L475 57L475.5 56.9L476 56.8L476.5 56.7L477 56.6L477.5 56.5L478 56.4L478.5 56.3L479 56.2L479.5 56.2L480 56.1L480.5 56L481 55.9L481.5 55.7L482 55.6L482.5 55.5L483 55.3L483.5 55.2L484 55.1L484.5 55.1L485 55.1L485.5 55.3L486 55.5L486.5 55.7L487 55.9L487.5 56.1L488 56.2L488.5 56.3L489 56.3L489.5 56.3L490 56.2L490.5 56.1L491 55.9L491.5 55.7L492 55.5L492.5 55.3L493 55.1L493.5 54.9L494 54.9L494.5 54.9L495 54.9L495.5 54.9L496 54.9L496.5 54.9L497 54.9L497.5 54.9L498 54.9L498.5 55.1L499 55.2L499.5 55.3L500 55.4L500.5 55.5L501 55.6L501.5 55.6L502 55.6L502.5 55.6L503 55.6L503.5 55.5L504 55.5L504.5 55.5L505 55.5L505.5 55.5L506 55.4L506.5 55.3L507 55.1L507.5 55L508 55.1L508.5 55.1L509 55.1L509.5 55.1L510 55L510.5 55L511 54.9L511.5 54.9L512 54.9L512.5 54.8L513 54.8L513.5 54.8L514 54.8L514.5 54.8L515 55L515.5 55.2L516 55.3L516.5 55.5L517 55.6L517.5 55.7L518 55.8L518.5 55.8L519 55.7L519.5 55.7L520 55.6L520.5 55.5L521 55.5L521.5 55.5L522 55.5L522.5 55.6L523 56.1L523.5 56.5L524 57L524.5 57.5L525 58L525.5 58.4L526 58.8L526.5 59.2L527 59.6L527.5 60L528 60.3L528.5 60.6L529 60.9L529.5 61.3L530 61.6L530.5 61.9L531 62.3L531.5 62.6L532 63L532.5 63.4L533 63.9L533.5 64.3L534 64.7L534.5 65.2L535 65.6L535.5 66L536 66.4L536.5 66.8L537 67.3L537.5 67.7L538 68.2L538.5 68.8L539 70.1L539.5 72.3L540 74.5L540.5 76.7L541 78.9L541.5 81L542 83L542.5 85L543 86.9L543.5 88.7L544 91.1L544.5 93.9L545 96.7L545.5 99.6L546 102.6L546.5 105.6L547 108.7L547.5 111.8L548 113.4L548.5 115.1L549 116.7L549.5 118.2L550 119.7L550.5 121.2L551 122.6L551.5 124L552 125.5L552.5 127L553 128.5L553.5 130L554 131.6L554.5 133.1L555 134.6L555.5 135L556 135.4L556.5 135.7L557 136L557.5 136.2L558 136.5L558.5 136.8L559 137.2L559.5 137.6L560 138.1L560.5 138.7L561 139.3L561.5 139.9L562 140.5L562.5 141.2L563 141.8L563.5 142.4L564 143.1L564.5 143.7L565 144.2L565.5 144.3L566 144.3L566.5 144.3L567 144.3L567.5 144.3L568 144.3L568.5 144.3L569 144.3L569.5 144.3L570 144.4L570.5 144.4L571 144.4L571.5 144.5L572 144.6L572.5 144.7L573 144.8L573.5 144.9L574 144.9L574.5 144.9L575 144.9L575.5 144.5L576 144.2L576.5 143.7L577 143.3L577.5 142.9L578 142.6L578.5 142.2L579 141.9L579.5 141.7L580 141.5L580.5 141.2L581 141L581.5 140.8L582 140.5L582.5 140.2L583 139.9L583.5 139.6L584 139.2L584.5 138.9L585 138.5L585.5 138.2L586 137.9L586.5 137.6L587 137.4L587.5 137.1L588 136.9L588.5 136.6L589 135.8L589.5 134.4L590 132.9L590.5 131.5L591 130.1L591.5 128.7L592 127.4L592.5 126.1L593 124.8L593.5 123.5L594 122.1L594.5 120.8L595 119.4L595.5 117.5L596 115.6L596.5 113.7L597 111.8L597.5 109.8L598 107.9L598.5 105.9L599 103.9L599.5 102L600 100.1L600.5 98.2L601 96.4L601.5 94.7L602 92.9L602.5 91.2L603 90.6L603.5 89.9L604 89.2L604.5 88.4L605 87.7L605.5 86.8L606 86L606.5 85.2L607 84.3L607.5 83.6L608 82.8L608.5 82L609 81.3L609.5 80.5L610 79.8L610.5 79L611 78.1L611.5 77.3L612 76.5L612.5 75.7L613 75.6L613.5 75.5L614 75.5L614.5 75.5L615 75.5L615.5 75.6L616 75.6L616.5 75.6L617 75.5L617.5 75.5L618 75.4L618.5 75.3L619 75.3L619.5 75.2L620 75.2L620.5 75.2L621 75.2L621.5 75.1L622 75.1L622.5 75.1L623 75L623.5 74.9L624 74.8L624.5 74.7L625 74.6L625.5 74.6L626 74.5L626.5 74.5L627 74.5L627.5 74.5L628 74.4L628.5 74.4L629 74.3L629.5 74.2L630 74.1L630.5 74L631 73.9L631.5 73.9L632 73.9L632.5 73.8L633 73.8L633.5 73.9L634 73.9L634.5 73.9L635 74L635.5 74L636 74.1L636.5 74.1L637 74.2L637.5 74.2L638 74.3L638.5 74.3L639 74.3L639.5 74.3L640 74.3L640.5 74.2L641 74.1L641.5 74L642 73.8L642.5 73.6L643 73.3L643.5 73L644 72.7L644.5 72.4L645 72.1L645.5 71.9L646 71.8L646.5 71.7L647 71.7L647.5 71.7L648 71.7L648.5 71.8L649 71.9L649.5 72L650 72.1L650.5 72.2L651 72.3L651.5 72.4L652 72.5L652.5 72.5L653 72.5L653.5 72.7L654 72.9L654.5 73L655 73.2L655.5 73.3L656 73.4L656.5 73.5L657 73.5L657.5 73.5L658 73.4L658.5 73.3L659 73.1L659.5 73L660 73L660.5 73L661 73.1L661.5 73.3L662 73.5L662.5 73.7L663 74L663.5 74.2L664 74.4L664.5 74.6L665 74.8L665.5 74.9L666 74.9L666.5 75L667 75.1L667.5 75.2L668 75.3L668.5 75.4L669 75.6L669.5 75.8L670 76.1L670.5 76.3L671 76.5L671.5 76.7L672 76.9L672.5 77.1L673 77.2L673.5 77.4L674 77.5L674.5 77.7L675 77.9L675.5 78L676 78.2L676.5 78.3L677 78.4L677.5 78.6L678 78.7L678.5 78.8L679 78.9L679.5 79L680 79L680.5 79.1L681 79.2L681.5 79.4L682 79.5L682.5 79.7L683 80L683.5 80.3L684 80.6L684.5 80.9L685 81.2L685.5 81.5L686 81.8L686.5 82.1L687 82.3L687.5 82.5L688 82.8L688.5 83.1L689 83.4L689.5 83.6L690 83.8L690.5 84L691 84.1L691.5 84.2L692 84.2L692.5 84.3L693 84.4L693.5 84.4L694 84.6L694.5 84.8L695 85L695.5 85.3L696 85.6L696.5 85.9L697 86.2L697.5 86.6L698 86.9L698.5 87.3L699 87.6L699.5 88L700 88.3L700.5 88.6L701 90.9L701.5 93.2L702 95.5L702.5 97.8L703 100.1L703.5 102.3L704 104.6L704.5 106.8L705 109L705.5 111.2L706 113.3L706.5 115.4L707 117.5L707.5 119.6L708 121.7L708.5 123.9L709 126L709.5 128.2L710 130.4L710.5 132.7L711 135L711.5 137.3L712 139.6L712.5 141.8L713 144.1L713.5 146.4L714 148.6L714.5 150.9L715 153L715.5 155.2L716 157.4L716.5 159.5L717 161.6L717.5 163.7L718 165.8L718.5 167.9L719 170L719.5 172.1L720 174.2L720.5 176.4L721 176.9L721.5 177.4L722 177.9L722.5 178.4L723 178.9L723.5 179.4L724 179.9L724.5 180.3L725 180.8L725.5 181.2L726 181.7L726.5 182.2L727 182.8L727.5 183.3L728 183.9L728.5 184.6L729 185.2L729.5 185.8L730 186.4L730.5 187L731 187.5L731.5 188L732 188.5L732.5 188.9L733 189.4L733.5 190L734 190.6L734.5 191.2L735 191.8L735.5 192.5L736 193.2L736.5 193.9L737 194.5L737.5 195.2L738 195.8L738.5 196.4L739 197L739.5 197.7L740 198.3L740.5 198.9L741 199.6L741.5 200.3L742 201L742.5 201.8L743 202.5L743.5 203.3L744 204.1L744.5 204.9L745 205.6L745.5 206.3L746 206.9L746.5 207.5L747 208.1L747.5 208.6L748 209.1L748.5 209.6L749 210.1L749.5 210.1L750 209.4L750.5 208.9L751 208.3L751.5 207.8L752 207.3L752.5 206.9L753 206.5L753.5 206L754 205.5L754.5 205.1L755 204.5L755.5 204L756 203.4L756.5 202.8L757 202.2L757.5 201.6L758 201.1L758.5 200.6L759 200L759.5 199.5L760 198.9L760.5 198.4L761 197.8L761.5 197.1L762 195L762.5 191.3L763 187.6L763.5 183.9L764 180.2L764.5 176.5L765 175.9L765.5 175.2L766 174.5L766.5 173.8L767 173.1L767.5 172.3L768 171.6L768.5 170.9L769 170.2L769.5 169.6L770 169L770.5 168.4L771 167.9L771.5 167.4L772 166.9L772.5 166.5L773 166L773.5 165.9L774 165.8L774.5 165.6L775 165.5L775.5 165.3L776 165.1L776.5 164.9L777 164.5L777.5 164.2L778 163.7L778.5 163.2L779 162.7L779.5 162.2L780 161.7L780.5 161.3L781 160.8L781.5 160.4L782 160L782.5 159.6L783 159.3L783.5 159L784 158.6L784.5 158.3L785 158L785.5 157.6L786 157.3L786.5 156.9L787 156.6L787.5 156.4L788 156.1L788.5 155.8L789 155.6L789.5 155.4L790 155.1L790.5 154.9L791 154.6L791.5 154.3L792 153.9L792.5 153.6L793 153.2L793.5 152.7L794 152.3L794.5 151.8L795 151.3L795.5 150.7L796 150.1L796.5 149.5L797 148.9L797.5 148.3L798 147.8L798.5 147.3L799 146.9L799.5 146.5L800 146.2L800.1 440.4Z" fill="#ac5790"/>
<path d="M61.5 440.4L61.5 50.4L62 50.4L62.5 50.4L63 50.3L63.5 50.3L64 50.3L64.5 50.3L65 50.3L65.5 50.4L66 50.4L66.5 50.4L67 50.4L67.5 50.4L68 50.3L68.5 50.2L69 50.2L69.5 50.2L70 50.2L70.5 50.3L71 50.4L71.5 50.4L72 50.5L72.5 50.5L73 50.5L73.5 50.5L74 50.5L74.5 50.5L75 50.5L75.5 50.5L76 50.5L76.5 50.5L77 50.4L77.5 50.3L78 50.2L78.5 50.1L79 50.1L79.5 50L80 49.9L80.5 49.9L81 49.9L81.5 49.9L82 50L82.5 50L83 50.1L83.5 50.1L84 50.1L84.5 50.1L85 50.1L85.5 50.1L86 50.1L86.5 50.2L87 50.2L87.5 50.3L88 50.4L88.5 50.4L89 50.4L89.5 50.4L90 50.4L90.5 50.5L91 50.5L91.5 50.5L92 50.5L92.5 50.4L93 50.4L93.5 50.3L94 50.3L94.5 50.3L95 50.4L95.5 50.4L96 50.5L96.5 50.5L97 50.6L97.5 50.5L98 50.5L98.5 50.4L99 50.3L99.5 50.3L100 50.2L100.5 50.1L101 50.1L101.5 50L102 50L102.5 50L103 50.1L103.5 50.1L104 50.2L104.5 50.2L105 50.2L105.5 50.2L106 50.2L106.5 50.2L107 50.2L107.5 50.2L108 50.2L108.5 50.2L109 50.2L109.5 50.2L110 50.1L110.5 50.1L111 50.1L111.5 50.1L112 50.1L112.5 50.2L113 50.2L113.5 50.2L114 50.2L114.5 50.2L115 50.2L115.5 50.1L116 50.1L116.5 50.1L117 50.1L117.5 50.2L118 50.2L118.5 50.3L119 50.3L119.5 50.3L120 50.4L120.5 50.4L121 50.4L121.5 50.4L122 50.3L122.5 50.2L123 50.1L123.5 50L124 50L124.5 49.9L125 49.9L125.5 49.9L126 50L126.5 50L127 50.1L127.5 50.2L128 50.2L128.5 50.3L129 50.4L129.5 50.5L130 50.5L130.5 50.5L131 50.5L131.5 50.5L132 50.5L132.5 50.4L133 50.3L133.5 50.2L134 50.1L134.5 50L135 50L135.5 50L136 50L136.5 50L137 50.1L137.5 50.2L138 50.2L138.5 50.3L139 50.3L139.5 50.5L140 50.7L140.5 50.9L141 51L141.5 51.2L142 51.4L142.5 51.7L143 51.9L143.5 52.2L144 52.5L144.5 52.8L145 53.1L145.5 53.5L146 54L146.5 54.6L147 55.2L147.5 55.7L148 56L148.5 56.1L149 56.1L149.5 56.8L150 57.4L150.5 58L151 58.6L151.5 59.2L152 59.9L152.5 60.8L153 61.7L153.5 67.3L154 75.9L154.5 84.7L155 95.2L155.5 108.4L156 121.4L156.5 134.4L157 144.2L157.5 153.9L158 163.5L158.5 172.6L159 181.4L159.5 186.1L160 184.7L160.5 183.3L161 182L161.5 180.7L162 179.3L162.5 178.3L163 177.6L163.5 176.8L164 176L164.5 175.1L165 174.3L165.5 173.5L166 172.9L166.5 172.3L167 171.8L167.5 170.9L168 169.4L168.5 167.7L169 165.9L169.5 164.1L170 162.4L170.5 160.7L171 159.2L171.5 157.8L172 156.6L172.5 156L173 156.1L173.5 156.1L174 155.9L174.5 155.6L175 155.1L175.5 154.5L176 153.9L176.5 153.5L177 153.2L177.5 153L178 152.7L178.5 152.4L179 151.9L179.5 151.4L180 150.8L180.5 150.3L181 149.8L181.5 149.3L182 148.8L182.5 148.3L183 147.8L183.5 147.4L184 147.2L184.5 147.1L185 147L185.5 147L186 146.9L186.5 146.7L187 146.3L187.5 145L188 142.4L188.5 139.9L189 137.4L189.5 135.1L190 132.6L190.5 129.7L191 126.9L191.5 124L192 121L192.5 118L193 114.9L193.5 111.7L194 108.5L194.5 104.9L195 101.1L195.5 97.5L196 93.9L196.5 90.4L197 86.7L197.5 82.9L198 77.4L198.5 71.8L199 66.2L199.5 63.6L200 63L200.5 62.5L201 62L201.5 61.5L202 61.1L202.5 60.7L203 60.4L203.5 60.1L204 60L204.5 59.9L205 59.9L205.5 60.2L206 60.4L206.5 60.5L207 60.6L207.5 60.7L208 60.7L208.5 60.8L209 60.8L209.5 60.9L210 60.9L210.5 60.9L211 60.9L211.5 61L212 61.1L212.5 61.3L213 61.7L213.5 62L214 62.3L214.5 62.6L215 62.7L215.5 62.7L216 62.6L216.5 62.5L217 62.2L217.5 62L218 61.7L218.5 61.5L219 61.4L219.5 61.3L220 61.2L220.5 61.1L221 61.1L221.5 61.1L222 61.1L222.5 61.1L223 61.1L223.5 61L224 60.8L224.5 60.6L225 60.4L225.5 59.4L226 58.5L226.5 57.6L227 56.8L227.5 56.1L228 55.3L228.5 54.5L229 53.8L229.5 53.3L230 53L230.5 52.8L231 52.6L231.5 52.4L232 52.2L232.5 52.1L233 51.9L233.5 51.9L234 52L234.5 52.2L235 52.3L235.5 52.4L236 52.5L236.5 52.5L237 52.5L237.5 52.4L238 52.4L238.5 52.5L239 52.6L239.5 52.7L240 52.8L240.5 52.9L241 52.9L241.5 52.9L242 53L242.5 53.1L243 53.2L243.5 53.4L244 53.6L244.5 53.7L245 53.8L245.5 53.8L246 53.7L246.5 53.7L247 53.6L247.5 53.5L248 53.4L248.5 53.6L249 54.3L249.5 54.9L250 55.4L250.5 55.9L251 56.5L251.5 57.3L252 58.1L252.5 59L253 59.9L253.5 60.6L254 60.6L254.5 60.7L255 60.8L255.5 60.9L256 61L256.5 61.1L257 61.3L257.5 61.6L258 61.9L258.5 62.3L259 62.8L259.5 63.3L260 63.8L260.5 64L261 64.1L261.5 63.9L262 63.7L262.5 63.5L263 63.5L263.5 63.7L264 63.9L264.5 64.2L265 64.3L265.5 64.4L266 64.2L266.5 64L267 63.9L267.5 63.7L268 63.7L268.5 63.7L269 63.7L269.5 63.7L270 63.7L270.5 64L271 64.3L271.5 64.6L272 64.8L272.5 65L273 65L273.5 65L274 65L274.5 65L275 65.3L275.5 65.7L276 66.2L276.5 66.7L277 67.2L277.5 67.6L278 67.8L278.5 68.7L279 70.6L279.5 72.3L280 74L280.5 75.6L281 80L281.5 88.5L282 97.1L282.5 105.8L283 116.9L283.5 128L284 135.8L284.5 141.4L285 147L285.5 152.6L286 158.2L286.5 163.8L287 168.2L287.5 171.6L288 175.1L288.5 178.7L289 182.3L289.5 186L290 189.6L290.5 193.1L291 196.5L291.5 199.6L292 202L292.5 204L293 206L293.5 208.2L294 210.5L294.5 212.9L295 215.5L295.5 218L296 220.4L296.5 222.5L297 224.5L297.5 226.5L298 228.5L298.5 230.5L299 232.5L299.5 234.4L300 236.3L300.5 237.3L301 238.3L301.5 239.4L302 240.6L302.5 241.8L303 242.9L303.5 243.8L304 244.7L304.5 245.5L305 246.2L305.5 247L306 247.8L306.5 248.7L307 249.7L307.5 250.8L308 251.9L308.5 253L309 254.1L309.5 255.2L310 256.4L310.5 257.6L311 259L311.5 260.5L312 261.9L312.5 263.1L313 264.2L313.5 265.1L314 265.9L314.5 266.9L315 268.1L315.5 269.2L316 270.4L316.5 271.6L317 272.9L317.5 274L318 275.1L318.5 276.2L319 277.2L319.5 278.2L320 279.1L320.5 280.1L321 281L321.5 282L322 283.1L322.5 283.8L323 284.4L323.5 285L324 285.5L324.5 286L325 286.5L325.5 287L326 287.6L326.5 288.2L327 288.9L327.5 289.5L328 290L328.5 289.7L329 288.5L329.5 287.3L330 286.1L330.5 285L331 284L331.5 283.1L332 282.2L332.5 281.3L333 280.4L333.5 279.4L334 278.4L334.5 277.4L335 276.9L335.5 276.5L336 276.1L336.5 275.7L337 275.2L337.5 274.7L338 274.2L338.5 273.7L339 273L339.5 272.3L340 271.5L340.5 270.7L341 269.9L341.5 269.1L342 268.5L342.5 268L343 267.7L343.5 267.6L344 267.5L344.5 267.3L345 266.9L345.5 266.3L346 265.6L346.5 264.7L347 263.9L347.5 263.2L348 262.6L348.5 262.2L349 261.8L349.5 261.5L350 261.1L350.5 260.8L351 260.5L351.5 260.2L352 259.8L352.5 259.5L353 259.1L353.5 258.8L354 258.5L354.5 258.1L355 256.7L355.5 255.2L356 253.6L356.5 251.8L357 250.1L357.5 248.4L358 246.7L358.5 245.1L359 243.6L359.5 242.2L360 240.9L360.5 239.6L361 237.2L361.5 233.6L362 230L362.5 226.3L363 222.7L363.5 220.7L364 220.1L364.5 219.7L365 219.3L365.5 218.8L366 218.1L366.5 217.3L367 216.2L367.5 215.1L368 214.1L368.5 213.4L369 213.1L369.5 212.9L370 212.9L370.5 212.9L371 212.8L371.5 212.6L372 212.2L372.5 211.7L373 211.1L373.5 210.5L374 210.1L374.5 209.7L375 209.5L375.5 209.4L376 209.3L376.5 209.2L377 209L377.5 208.9L378 208.9L378.5 209L379 209.1L379.5 209.1L380 209.1L380.5 208.9L381 208.5L381.5 208L382 207.5L382.5 206.6L383 205.9L383.5 205.4L384 205.1L384.5 204.8L385 204.6L385.5 204.2L386 203.7L386.5 203.1L387 202.3L387.5 201.5L388 200.6L388.5 199.6L389 198.7L389.5 197.7L390 195L390.5 192.3L391 189.6L391.5 186.9L392 184.2L392.5 183.3L393 182.5L393.5 181.7L394 181L394.5 180.3L395 179.7L395.5 179.1L396 178.5L396.5 177.9L397 177.2L397.5 176.5L398 175.8L398.5 174.6L399 173L399.5 171.5L400 170.1L400.5 168.9L401 167.7L401.5 166.6L402 165.6L402.5 164.6L403 163.6L403.5 162.5L404 161.2L404.5 159.7L405 158.4L405.5 156.9L406 155.2L406.5 153.6L407 152.3L407.5 151.2L408 150.4L408.5 149.7L409 149L409.5 148.1L410 147.3L410.5 146.5L411 145.7L411.5 145L412 144.4L412.5 142.7L413 140.8L413.5 138.8L414 136.6L414.5 134.3L415 132L415.5 129.7L416 127.5L416.5 125.3L417 123.2L417.5 120.2L418 117.2L418.5 114.4L419 111.6L419.5 108.9L420 106.2L420.5 103.6L421 100.8L421.5 98L422 95.1L422.5 93.8L423 92.4L423.5 90.7L424 89L424.5 87.1L425 85.2L425.5 83.4L426 81.7L426.5 80.3L427 79L427.5 77.9L428 76.8L428.5 75.8L429 74.7L429.5 73.6L430 73L430.5 72.4L431 71.8L431.5 71.2L432 70.7L432.5 70.2L433 69.6L433.5 69.1L434 68.5L434.5 67.9L435 67.2L435.5 66.3L436 65.3L436.5 64.2L437 63.1L437.5 62.6L438 62.1L438.5 61.7L439 61.2L439.5 60.7L440 60.5L440.5 60.4L441 60.2L441.5 59.9L442 59.5L442.5 59.2L443 58.9L443.5 58.8L444 58.8L444.5 58.8L445 59.1L445.5 59.3L446 59.2L446.5 59L447 58.7L447.5 58.4L448 58.2L448.5 58.1L449 58.1L449.5 58.1L450 58.2L450.5 58.3L451 58.5L451.5 58.8L452 59L452.5 59.3L453 59.4L453.5 59.5L454 59.5L454.5 59.5L455 59.5L455.5 59.6L456 59.6L456.5 59.5L457 59.5L457.5 59.4L458 59.3L458.5 59.3L459 59.2L459.5 59.1L460 59.1L460.5 59.2L461 59.3L461.5 59.5L462 59.8L462.5 60.1L463 60.3L463.5 60.6L464 60.8L464.5 61L465 61.2L465.5 61.3L466 61.5L466.5 61.6L467 61.6L467.5 61.6L468 61.5L468.5 61.4L469 61.3L469.5 61L470 61.3L470.5 61.3L471 61.4L471.5 61.5L472 61.7L472.5 62.1L473 62.6L473.5 63.1L474 63.7L474.5 64.4L475 65.1L475.5 66L476 66.9L476.5 67.7L477 68.5L477.5 69.8L478 71L478.5 72.3L479 73.6L479.5 74.8L480 76L480.5 77.1L481 78L481.5 79L482 80L482.5 81.1L483 82.3L483.5 83.5L484 84.8L484.5 86.2L485 87.6L485.5 90.2L486 92.8L486.5 95.5L487 98.1L487.5 100.7L488 103.2L488.5 105.7L489 108.1L489.5 110.4L490 112.7L490.5 119.1L491 125.4L491.5 131.6L492 137.7L492.5 143.9L493 150.2L493.5 156.7L494 163.3L494.5 169.9L495 176.6L495.5 180L496 183.5L496.5 186.9L497 190.3L497.5 193.7L498 196.9L498.5 200L499 203.1L499.5 206.3L500 209.5L500.5 212.6L501 215.7L501.5 218.9L502 222L502.5 225.2L503 228.4L503.5 231.5L504 234.7L504.5 237.7L505 240.5L505.5 241.2L506 241.8L506.5 242.5L507 243.4L507.5 244.4L508 245.5L508.5 246.5L509 247.4L509.5 248.2L510 248.8L510.5 247.5L511 246.2L511.5 245L512 243.9L512.5 242.7L513 241.5L513.5 240.2L514 239L514.5 237.7L515 236.4L515.5 235.3L516 234.2L516.5 233.1L517 232L517.5 230.8L518 228.7L518.5 226.6L519 224.5L519.5 222.6L520 220.7L520.5 219L521 217.2L521.5 215.5L522 213.7L522.5 211.8L523 209.8L523.5 207.7L524 205.6L524.5 203.6L525 201.6L525.5 201.5L526 201.5L526.5 201.6L527 201.7L527.5 201.8L528 201.7L528.5 201.5L529 201.2L529.5 200.8L530 200.4L530.5 200L531 199.8L531.5 199.8L532 199.7L532.5 199.7L533 199.7L533.5 199.6L534 199.5L534.5 199.3L535 199.2L535.5 199L536 198.7L536.5 198.4L537 198.1L537.5 197.8L538 197.6L538.5 197.3L539 196.9L539.5 196.5L540 196.1L540.5 197.3L541 198.6L541.5 200.1L542 201.6L542.5 203.1L543 204.5L543.5 205.8L544 206.3L544.5 206L545 205.7L545.5 205.4L546 205.3L546.5 205.2L547 205.2L547.5 205.3L548 205.3L548.5 205.3L549 205L549.5 204.6L550 204.1L550.5 203.7L551 203.4L551.5 202.7L552 201.4L552.5 200.3L553 199.2L553.5 198L554 197.5L554.5 197.7L555 197.7L555.5 197.5L556 197.2L556.5 196.8L557 196.5L557.5 196.3L558 196.4L558.5 196.7L559 197.4L559.5 198.2L560 198.9L560.5 199.5L561 199.9L561.5 200.1L562 200.2L562.5 200.3L563 200.4L563.5 200.7L564 201L564.5 201.4L565 201.7L565.5 202.7L566 203.5L566.5 204.3L567 205.1L567.5 206L568 207L568.5 208.2L569 209.4L569.5 210.8L570 212.1L570.5 213.3L571 214.3L571.5 215L572 215.2L572.5 215.2L573 215.2L573.5 215.1L574 215.2L574.5 215.4L575 215.8L575.5 216.4L576 217.1L576.5 217.9L577 218.7L577.5 219.5L578 220.2L578.5 220.7L579 220.8L579.5 220.4L580 219.9L580.5 219.5L581 219.1L581.5 218.8L582 218.6L582.5 218.4L583 218.3L583.5 218.3L584 218.2L584.5 218.2L585 218.1L585.5 218L586 217.8L586.5 217.4L587 217L587.5 216.6L588 214.4L588.5 212.4L589 210.6L589.5 208.8L590 207L590.5 205.1L591 203.1L591.5 201.1L592 199.1L592.5 197.1L593 194.4L593.5 191.9L594 189.4L594.5 186.9L595 184.4L595.5 181.9L596 179.5L596.5 175.5L597 169.9L597.5 164.3L598 158.7L598.5 153L599 148.8L599.5 145.9L600 143L600.5 139.9L601 136.6L601.5 133.2L602 129.9L602.5 126.7L603 123.6L603.5 120.7L604 117.8L604.5 115.1L605 112.5L605.5 111.7L606 110.9L606.5 110.2L607 109.5L607.5 108.8L608 108.1L608.5 107.2L609 106.1L609.5 104.9L610 103.4L610.5 101.7L611 99.9L611.5 98.3L612 96.8L612.5 95.4L613 95.1L613.5 94.9L614 94.8L614.5 94.7L615 94.6L615.5 94.4L616 94.2L616.5 94L617 93.8L617.5 93.6L618 93.6L618.5 93.5L619 93.5L619.5 93.3L620 93L620.5 92.9L621 92.8L621.5 92.6L622 92.6L622.5 92.5L623 92.5L623.5 92.5L624 92.5L624.5 92.6L625 92.8L625.5 93.1L626 93.4L626.5 93.6L627 93.7L627.5 93.7L628 93.6L628.5 93.5L629 93.4L629.5 93.3L630 93.3L630.5 93.1L631 92.9L631.5 92.6L632 92.2L632.5 91.9L633 91.5L633.5 91.1L634 90.9L634.5 90.6L635 90.5L635.5 90.4L636 90.4L636.5 90.3L637 90.1L637.5 89.9L638 89.6L638.5 89.3L639 88.9L639.5 88.7L640 88.6L640.5 88.9L641 89.3L641.5 89.7L642 89.9L642.5 90.1L643 90.1L643.5 90.1L644 90.1L644.5 90.2L645 90.4L645.5 90.6L646 90.7L646.5 90.8L647 90.7L647.5 90.5L648 92.5L648.5 94.4L649 96.5L649.5 98.6L650 100.8L650.5 103L651 105.1L651.5 107.1L652 109.1L652.5 111.1L653 113.8L653.5 116.6L654 119.4L654.5 122.2L655 125.1L655.5 127.9L656 130.6L656.5 133.3L657 136L657.5 138.7L658 141.3L658.5 144L659 146.5L659.5 149.1L660 151.8L660.5 154.7L661 157.8L661.5 161.1L662 164.5L662.5 168L663 171.3L663.5 174.5L664 177.6L664.5 179.3L665 180.9L665.5 182.5L666 184.1L666.5 185.6L667 187.1L667.5 188.5L668 189.9L668.5 191.3L669 192.6L669.5 194L670 195.2L670.5 196.4L671 197.2L671.5 198L672 198.9L672.5 199.9L673 201.1L673.5 202.5L674 203.9L674.5 205.5L675 207L675.5 208.4L676 209.8L676.5 211.2L677 212.5L677.5 213.7L678 214.8L678.5 215.4L679 215.9L679.5 216.4L680 217L680.5 217.6L681 218.5L681.5 219.5L682 220.6L682.5 221.6L683 222.7L683.5 223.7L684 224.7L684.5 225.7L685 226.7L685.5 227.8L686 228.9L686.5 229.8L687 230.7L687.5 231.5L688 232.1L688.5 233L689 233.9L689.5 234.8L690 235.8L690.5 237L691 238.3L691.5 239.6L692 240.9L692.5 242L693 243.1L693.5 244.3L694 245.6L694.5 247.2L695 249L695.5 250.9L696 253.5L696.5 255.9L697 258.3L697.5 260.5L698 262.6L698.5 264.6L699 266.4L699.5 268L700 269.7L700.5 271.3L701 271.7L701.5 272.2L702 272.8L702.5 273.5L703 274.3L703.5 275.1L704 276L704.5 276.8L705 277.6L705.5 278.3L706 279.1L706.5 279.8L707 280.8L707.5 281.8L708 283.1L708.5 284.3L709 285.4L709.5 286.2L710 286.9L710.5 287.4L711 289L711.5 290.7L712 292.4L712.5 294.2L713 295.9L713.5 295.2L714 294.4L714.5 293.5L715 292.6L715.5 291.8L716 291.1L716.5 290.5L717 290.1L717.5 289.7L718 289.4L718.5 290.2L719 291.1L719.5 291.9L720 292.6L720.5 293.1L721 293.6L721.5 293.9L722 294.1L722.5 294.2L723 294.1L723.5 294.1L724 294.1L724.5 294.2L725 294.5L725.5 294.9L726 294.7L726.5 294.3L727 293.9L727.5 293.5L728 293.1L728.5 292.7L729 292.4L729.5 292.2L730 292L730.5 291.7L731 291.5L731.5 291.3L732 291.1L732.5 290.9L733 290.7L733.5 290.5L734 290.2L734.5 289.8L735 289.2L735.5 288.5L736 287.8L736.5 287.1L737 286.5L737.5 285.9L738 285.4L738.5 284.9L739 284.6L739.5 284.3L740 284.1L740.5 283.8L741 283.4L741.5 283L742 282.4L742.5 281.9L743 281.5L743.5 281.2L744 281L744.5 280.9L745 280.7L745.5 280.3L746 279.6L746.5 278.9L747 278.1L747.5 277.2L748 276.3L748.5 275.4L749 274.4L749.5 273.3L750 272.2L750.5 271.2L751 270.2L751.5 269.3L752 268.4L752.5 267.5L753 266.6L753.5 265.2L754 263.8L754.5 262.5L755 261.2L755.5 260L756 258.8L756.5 257.6L757 256.4L757.5 255.2L758 253.9L758.5 252.6L759 251.2L759.5 249.9L760 248.6L760.5 247.2L761 244.5L761.5 241.7L762 238.8L762.5 236L763 233.2L763.5 230.5L764 227.9L764.5 225.3L765 222.4L765.5 219.4L766 216.4L766.5 213.3L767 210.1L767.5 207L768 204L768.5 203.4L769 202.9L769.5 202.4L770 201.9L770.5 201.3L771 200.8L771.5 200.2L772 199.6L772.5 199.1L773 198.5L773.5 198L774 197.4L774.5 196.7L775 196L775.5 195.1L776 194.5L776.5 193.9L777 193.1L777.5 192.5L778 191.9L778.5 191.6L779 191.5L779.5 191.6L780 191.8L780.5 192L781 192.1L781.5 192.1L782 192.1L782.5 192L783 191.9L783.5 191.7L784 191.5L784.5 191.3L785 191.3L785.5 191.4L786 191.6L786.5 191.8L787 191.8L787.5 191.6L788 191.3L788.5 190.4L789 189.5L789.5 188.5L790 187.6L790.5 186.6L791 185.7L791.5 184.9L792 184.1L792.5 183.5L793 182.9L793.5 182.5L794 182.3L794.5 182.2L795 182.2L795.5 182.1L796 181.8L796.5 181.3L797 180.5L797.5 179.6L798 178.6L798.5 177.6L799 176.7L799.5 175.9L800 175.3L800.1 440.4Z" fill="#d9674b"/>
<path d="M61.5 440.4L61.5 50.4L62 50.4L62.5 50.4L63 50.3L63.5 50.3L64 50.3L64.5 50.3L65 50.3L65.5 50.4L66 50.4L66.5 50.4L67 50.4L67.5 50.4L68 50.3L68.5 50.2L69 50.2L69.5 50.2L70 50.2L70.5 50.3L71 50.4L71.5 50.4L72 50.5L72.5 50.5L73 50.5L73.5 50.5L74 50.5L74.5 50.5L75 50.5L75.5 50.5L76 50.5L76.5 50.5L77 50.4L77.5 50.3L78 50.2L78.5 50.1L79 50.1L79.5 50L80 49.9L80.5 49.9L81 49.9L81.5 49.9L82 50L82.5 50L83 50.1L83.5 50.1L84 50.7L84.5 51.7L85 52.6L85.5 53.6L86 53.9L86.5 53.7L87 53.4L87.5 53L88 52.6L88.5 52.4L89 52.3L89.5 52.4L90 52.8L90.5 53.4L91 54L91.5 54.5L92 54.6L92.5 54.5L93 54.4L93.5 54.3L94 54.2L94.5 54.1L95 53.9L95.5 53.7L96 53.8L96.5 54L97 54.4L97.5 54.6L98 54.4L98.5 53.9L99 53.4L99.5 52.7L100 52L100.5 51.3L101 51L101.5 50.9L102 50.8L102.5 50.8L103 50.7L103.5 50.7L104 50.6L104.5 50.5L105 50.4L105.5 50.4L106 50.5L106.5 50.6L107 50.7L107.5 50.7L108 50.7L108.5 50.7L109 50.7L109.5 50.8L110 51L110.5 51.1L111 51.3L111.5 51.4L112 51.5L112.5 51.5L113 51.5L113.5 51.4L114 51.6L114.5 51.9L115 52.4L115.5 52.7L116 52.7L116.5 52.4L117 52L117.5 51.7L118 51.6L118.5 51.8L119 52.2L119.5 52.8L120 53.4L120.5 53.8L121 54.2L121.5 54.5L122 54.9L122.5 55.8L123 57.2L123.5 58.4L124 59.4L124.5 60.5L125 61.7L125.5 62.9L126 65.8L126.5 69.5L127 73.2L127.5 77L128 80.8L128.5 92.1L129 108.2L129.5 124.3L130 152.7L130.5 199.7L131 226L131.5 238.7L132 251.4L132.5 259.8L133 261.7L133.5 263.8L134 266L134.5 268.2L135 270.5L135.5 272.9L136 275.4L136.5 277.8L137 280.2L137.5 282.1L138 283.7L138.5 285.1L139 286.4L139.5 288L140 289.7L140.5 291.6L141 291.9L141.5 291L142 290L142.5 288.9L143 288L143.5 287.2L144 286.6L144.5 286.1L145 285.7L145.5 285.2L146 284.3L146.5 283L147 281.8L147.5 280.6L148 279.6L148.5 278.8L149 278.1L149.5 277.4L150 276.6L150.5 275.8L151 275L151.5 274L152 272.9L152.5 271.4L153 269.6L153.5 267.8L154 266.2L154.5 264.8L155 263.6L155.5 262.4L156 261.3L156.5 260.1L157 259.1L157.5 258L158 257L158.5 256L159 255L159.5 252.5L160 250.1L160.5 247.8L161 245.4L161.5 242.8L162 239.9L162.5 236.9L163 233.8L163.5 230.5L164 227.2L164.5 224.1L165 221.2L165.5 218.6L166 216.2L166.5 213.9L167 211.6L167.5 209.3L168 207.1L168.5 205.1L169 203L169.5 201.4L170 199.5L170.5 197.7L171 195.9L171.5 194.3L172 192.6L172.5 190.8L173 188.8L173.5 187.6L174 187L174.5 186.7L175 186.5L175.5 186.6L176 186.8L176.5 187.1L177 187.2L177.5 187.1L178 186.7L178.5 186L179 185.1L179.5 184.1L180 183.2L180.5 182.3L181 181.6L181.5 181.2L182 181L182.5 181L183 181.3L183.5 181.6L184 181.7L184.5 181.6L185 181.1L185.5 180.4L186 179.4L186.5 178.5L187 177.8L187.5 176.1L188 172.6L188.5 169.2L189 165.8L189.5 162.4L190 159L190.5 154.9L191 150.5L191.5 145.9L192 141.4L192.5 137.2L193 133.3L193.5 129.6L194 126L194.5 122.2L195 118.3L195.5 114L196 109.5L196.5 104.8L197 100L197.5 94.9L198 89.9L198.5 85.1L199 80.4L199.5 75.8L200 71.2L200.5 70.5L201 69.7L201.5 69.1L202 68.8L202.5 68.7L203 68.8L203.5 68.9L204 69L204.5 69L205 68.7L205.5 68.8L206 68.5L206.5 68.2L207 67.9L207.5 67.9L208 68.2L208.5 68.7L209 69.3L209.5 69.7L210 70.1L210.5 70.5L211 70.8L211.5 71.3L212 71.7L212.5 72.2L213 72.5L213.5 72.8L214 73.2L214.5 73.6L215 74L215.5 74.4L216 74.7L216.5 75.2L217 75.8L217.5 76.4L218 77L218.5 77.5L219 77.8L219.5 79L220 81L220.5 83.1L221 85.4L221.5 87.7L222 89.8L222.5 91.7L223 101.5L223.5 111.4L224 121.5L224.5 131.9L225 138L225.5 141.3L226 144.2L226.5 146.7L227 143.2L227.5 139.6L228 136.1L228.5 129.7L229 119L229.5 108.5L230 98L230.5 92L231 85.9L231.5 79.8L232 76.8L232.5 76L233 75.2L233.5 74.5L234 74.2L234.5 74L235 74L235.5 73.7L236 73.1L236.5 72.4L237 72L237.5 72L238 72L238.5 72L239 71.9L239.5 71.9L240 72.1L240.5 72.5L241 72.8L241.5 73L242 72.9L242.5 72.7L243 72.4L243.5 72.2L244 72.1L244.5 72.2L245 72.5L245.5 72.9L246 73.2L246.5 73.3L247 72.9L247.5 72.2L248 71.3L248.5 70.6L249 70.4L249.5 71L250 71.9L250.5 73.7L251 75L251.5 75.8L252 76.3L252.5 76.8L253 77.6L253.5 79.9L254 84.3L254.5 88.6L255 92.9L255.5 97L256 103.8L256.5 114.4L257 125.2L257.5 136.1L258 143.2L258.5 150.2L259 156.8L259.5 163.1L260 169.1L260.5 173.3L261 177.7L261.5 182.2L262 187.1L262.5 192.2L263 197.3L263.5 201.4L264 204L264.5 206.5L265 208.8L265.5 211.1L266 213.5L266.5 216.3L267 219.4L267.5 222.8L268 226.1L268.5 229.4L269 233L269.5 236.7L270 240.4L270.5 243.8L271 246.6L271.5 248.9L272 251.2L272.5 253.6L273 256L273.5 258.2L274 260.3L274.5 262.6L275 265.2L275.5 266.3L276 267.6L276.5 269.1L277 270.5L277.5 271.8L278 272.7L278.5 273.3L279 273.5L279.5 273.5L280 273.7L280.5 274L281 274.3L281.5 274.7L282 275.4L282.5 276.3L283 277.3L283.5 278.6L284 280.2L284.5 281.7L285 283.1L285.5 284.5L286 285.8L286.5 287.3L287 289.1L287.5 291.2L288 293.3L288.5 295.4L289 297.7L289.5 299.7L290 301.7L290.5 303.8L291 305.8L291.5 307.2L292 308.6L292.5 309.7L293 310.6L293.5 311.4L294 312.3L294.5 313.4L295 314.4L295.5 315.4L296 316.4L296.5 317.5L297 318.5L297.5 318.9L298 319.3L298.5 320.1L299 321.1L299.5 322.5L300 323.8L300.5 324.9L301 325.7L301.5 326.1L302 326.3L302.5 326.4L303 326.2L303.5 325.9L304 325.5L304.5 325.3L305 325.4L305.5 326L306 327L306.5 327.9L307 328.7L307.5 329.4L308 330.1L308.5 330.8L309 331.4L309.5 331.8L310 332.3L310.5 332.8L311 333.4L311.5 334.3L312 335.4L312.5 336.7L313 338.1L313.5 339.4L314 340.6L314.5 341.8L315 342.8L315.5 343.6L316 344L316.5 344.1L317 344L317.5 343.8L318 343.8L318.5 344.4L319 345.4L319.5 346.6L320 347.7L320.5 348.4L321 348.7L321.5 349L322 349.4L322.5 350.1L323 351L323.5 351.7L324 352.2L324.5 352.6L325 353L325.5 353.5L326 353.3L326.5 352.6L327 352L327.5 351.6L328 351.2L328.5 350.7L329 350.1L329.5 349.2L330 348.1L330.5 346.6L331 343.4L331.5 338.7L332 334L332.5 329.7L333 325.5L333.5 322.9L334 321.7L334.5 320.4L335 319.1L335.5 318L336 317L336.5 316.1L337 315L337.5 313.7L338 312.2L338.5 310.7L339 309.5L339.5 308.3L340 307.4L340.5 306.8L341 306.3L341.5 305.8L342 304.8L342.5 303.3L343 301.7L343.5 300.2L344 299.3L344.5 298.7L345 298.3L345.5 297.8L346 297L346.5 295.9L347 294.8L347.5 293.9L348 293.2L348.5 292.6L349 291.8L349.5 290.8L350 289.5L350.5 288.3L351 287.2L351.5 286.7L352 286.6L352.5 286.7L353 286.6L353.5 286.1L354 284.9L354.5 283.2L355 281.3L355.5 279.7L356 278.4L356.5 277.5L357 276.9L357.5 275.7L358 274.5L358.5 273.2L359 271.9L359.5 270.2L360 268.2L360.5 265.8L361 263.3L361.5 261L362 259L362.5 257.6L363 256.3L363.5 254.9L364 253.6L364.5 252.4L365 251.4L365.5 250.4L366 250.1L366.5 250.3L367 250.5L367.5 250.7L368 250.9L368.5 251.2L369 251.4L369.5 251.6L370 251.7L370.5 251.9L371 252.1L371.5 252.2L372 252.3L372.5 252.6L373 253L373.5 253.6L374 254.2L374.5 254.7L375 255.1L375.5 255.5L376 256L376.5 256.3L377 256.4L377.5 256.5L378 256.6L378.5 256.8L379 256.9L379.5 257L380 256.2L380.5 255.4L381 254.8L381.5 254.4L382 254.2L382.5 253.9L383 253.6L383.5 253L384 252.5L384.5 252.1L385 252L385.5 252.1L386 252L386.5 251.7L387 251L387.5 250.2L388 249.5L388.5 248.5L389 247.1L389.5 245.8L390 244.4L390.5 242.8L391 240.7L391.5 238.5L392 236.3L392.5 235.3L393 234.5L393.5 233.9L394 233.3L394.5 232.8L395 232.5L395.5 232.5L396 232.7L396.5 232.8L397 232.7L397.5 232L398 231L398.5 229.8L399 228.5L399.5 227.1L400 224L400.5 220.7L401 217.6L401.5 214.8L402 212.6L402.5 210.9L403 209.4L403.5 208.2L404 207L404.5 205.5L405 203.7L405.5 201.9L406 200.1L406.5 198.4L407 196.6L407.5 194.9L408 193.1L408.5 191.3L409 189.3L409.5 187.1L410 184.8L410.5 182.3L411 179.9L411.5 177.6L412 175.5L412.5 172L413 168.4L413.5 164.6L414 160.7L414.5 156.8L415 153L415.5 149.6L416 146.6L416.5 143.8L417 141.2L417.5 138.7L418 136.2L418.5 133.9L419 131.4L419.5 128.7L420 125.9L420.5 123.1L421 120.5L421.5 118L422 115.5L422.5 112.8L423 109.9L423.5 106.6L424 103.3L424.5 100.2L425 99L425.5 97.9L426 96.8L426.5 95.6L427 94.4L427.5 93.2L428 92.1L428.5 90.9L429 89.5L429.5 88.1L430 86.7L430.5 85.5L431 84.4L431.5 83.3L432 82.1L432.5 81.1L433 79.9L433.5 78.8L434 78L434.5 77.6L435 77.4L435.5 77.2L436 77L436.5 76.6L437 76.2L437.5 75.7L438 75.2L438.5 74.5L439 73.4L439.5 72.1L440 70.6L440.5 69.4L441 68.4L441.5 67.7L442 67L442.5 67.4L443 67.8L443.5 68.2L444 68.8L444.5 69.6L445 70.6L445.5 71.5L446 72.3L446.5 72.9L447 73.2L447.5 73.7L448 74.5L448.5 75.4L449 76.4L449.5 77.2L450 77.8L450.5 78.3L451 79.1L451.5 80.1L452 81.3L452.5 82.3L453 83.1L453.5 83.5L454 83.9L454.5 84.4L455 85.1L455.5 86.1L456 87.2L456.5 88.4L457 89.4L457.5 90.4L458 91.3L458.5 92.2L459 93.1L459.5 93.9L460 94.5L460.5 94.9L461 95.3L461.5 95.9L462 97L462.5 100.6L463 104.3L463.5 107.9L464 111.4L464.5 114.8L465 118.3L465.5 121.8L466 125.3L466.5 132.9L467 140.2L467.5 147.3L468 154.6L468.5 162.3L469 170.1L469.5 177.8L470 187.6L470.5 197.1L471 206.7L471.5 216.5L472 226.7L472.5 232.2L473 237.7L473.5 243L474 248L474.5 252.8L475 257.5L475.5 262.2L476 266.9L476.5 271.7L477 276.5L477.5 277.8L478 279.2L478.5 280.9L479 282.7L479.5 284.6L480 286.7L480.5 288.7L481 290.6L481.5 292.3L482 293.7L482.5 292.8L483 291.7L483.5 290.6L484 290L484.5 289.8L485 289.9L485.5 293.6L486 296.9L486.5 299.9L487 302.6L487.5 305.3L488 305.5L488.5 305.7L489 305.9L489.5 306L490 306.1L490.5 306.4L491 306.8L491.5 307.4L492 308.1L492.5 308.9L493 309.7L493.5 310.6L494 311.5L494.5 312.2L495 312.8L495.5 313.3L496 313.7L496.5 314.2L497 314.8L497.5 315.5L498 316.3L498.5 317.1L499 317.9L499.5 318.6L500 319L500.5 319.3L501 319.6L501.5 320L502 320.4L502.5 320.6L503 320.6L503.5 320.3L504 319.9L504.5 319.6L505 319.7L505.5 318.7L506 318.2L506.5 317.9L507 317.7L507.5 317.2L508 316.3L508.5 315.2L509 313.7L509.5 312L510 310.1L510.5 308.3L511 306.8L511.5 305.5L512 304.5L512.5 302.9L513 301.4L513.5 299.8L514 298L514.5 295.9L515 293.7L515.5 291.3L516 288.8L516.5 286.4L517 283.9L517.5 281.7L518 278.8L518.5 276.1L519 273.6L519.5 270.8L520 267.9L520.5 264.6L521 261.3L521.5 257.9L522 254.9L522.5 252.1L523 251.6L523.5 251.1L524 250.4L524.5 249.4L525 248.3L525.5 247.1L526 246.1L526.5 245.2L527 244.2L527.5 243.2L528 242L528.5 240.7L529 239.1L529.5 237.4L530 235.8L530.5 235.3L531 235.2L531.5 235.4L532 235.6L532.5 235.9L533 236.1L533.5 236.3L534 236.6L534.5 236.8L535 236.9L535.5 236.9L536 236.7L536.5 236.4L537 236L537.5 235.4L538 234.7L538.5 234.2L539 234.7L539.5 236.1L540 237.5L540.5 239L541 240.6L541.5 242.2L542 243.9L542.5 245.5L543 247.1L543.5 248.6L544 250.4L544.5 252.4L545 254.3L545.5 256.1L546 257.9L546.5 259.7L547 261.6L547.5 263.6L548 265.7L548.5 267.9L549 270.2L549.5 272.4L550 274.4L550.5 274.6L551 274.7L551.5 274.9L552 275.4L552.5 276.2L553 277L553.5 277.6L554 277.7L554.5 277.4L555 277L555.5 276.8L556 276.9L556.5 277.2L557 277.8L557.5 278.5L558 280.1L558.5 281.6L559 282.9L559.5 283.9L560 284.7L560.5 285.4L561 286.2L561.5 287.3L562 288.6L562.5 290.1L563 289.9L563.5 289.5L564 288.8L564.5 288.1L565 287.4L565.5 287L566 286.9L566.5 286.9L567 286.7L567.5 286.2L568 285.5L568.5 284.8L569 284.2L569.5 283.6L570 282.9L570.5 282.3L571 281.6L571.5 280.9L572 280.5L572.5 280.5L573 280.7L573.5 280.9L574 281.1L574.5 281L575 280.8L575.5 280.3L576 279.6L576.5 278.8L577 278L577.5 277.2L578 276.8L578.5 276.7L579 276.8L579.5 276.9L580 276.7L580.5 276.3L581 275.8L581.5 275.6L582 275.7L582.5 275.9L583 276L583.5 275.7L584 275.2L584.5 274.6L585 273.9L585.5 271L586 268.1L586.5 265.1L587 262.2L587.5 259.5L588 257.1L588.5 254.9L589 252.8L589.5 250.7L590 248.4L590.5 244.7L591 240.7L591.5 236.5L592 232.4L592.5 228.4L593 224.8L593.5 221.3L594 217.9L594.5 214.5L595 211L595.5 207.2L596 203.4L596.5 199.1L597 194.2L597.5 189.3L598 184.2L598.5 179L599 174.5L599.5 170.9L600 167.2L600.5 163.4L601 159.3L601.5 155.2L602 151.2L602.5 147.5L603 145.2L603.5 143L604 140.7L604.5 138.4L605 136.1L605.5 134L606 131.9L606.5 129.9L607 127.9L607.5 125.6L608 124.8L608.5 123.6L609 122.3L609.5 120.8L610 119.2L610.5 117.7L611 116.2L611.5 115L612 114L612.5 113.1L613 112.4L613.5 111.5L614 110.5L614.5 109.5L615 108.6L615.5 109.5L616 110.5L616.5 111.6L617 112.6L617.5 113.6L618 114.3L618.5 115L619 115.7L619.5 116.4L620 117.2L620.5 117.9L621 118.6L621.5 122.2L622 125.8L622.5 129.5L623 133.3L623.5 137.1L624 140.9L624.5 144.8L625 148.8L625.5 152.2L626 155.6L626.5 159.1L627 162.2L627.5 165L628 167.4L628.5 169.7L629 172L629.5 174.7L630 177.7L630.5 180.9L631 184.2L631.5 187.2L632 189.8L632.5 192.1L633 194.4L633.5 197.1L634 200.4L634.5 204.2L635 207.9L635.5 211.3L636 214.3L636.5 217.1L637 219.8L637.5 222.4L638 222.9L638.5 223.1L639 223.2L639.5 223.3L640 223.6L640.5 224.3L641 225.3L641.5 226.6L642 227.9L642.5 229.1L643 230.1L643.5 230.8L644 231.3L644.5 231.8L645 232.4L645.5 233.1L646 233.8L646.5 234.4L647 235.1L647.5 235.7L648 236.6L648.5 237.5L649 238.3L649.5 239.1L650 240.2L650.5 241.5L651 243.3L651.5 245.4L652 247.5L652.5 249.2L653 250.5L653.5 251.3L654 251.7L654.5 252L655 252.3L655.5 251.6L656 251.3L656.5 251.6L657 252.4L657.5 253.4L658 254.5L658.5 255.2L659 255.4L659.5 254.9L660 253.9L660.5 252.7L661 251.8L661.5 251.3L662 251.2L662.5 251.2L663 253.7L663.5 256.3L664 258.9L664.5 261.7L665 264.4L665.5 266.8L666 269.1L666.5 271.2L667 273.6L667.5 276.4L668 278.9L668.5 281.7L669 284.3L669.5 286.5L670 288.2L670.5 289.4L671 290.6L671.5 291.7L672 292.9L672.5 294.1L673 295.4L673.5 297L674 298.8L674.5 300.8L675 302.9L675.5 304.5L676 306L676.5 307.5L677 308.8L677.5 309.9L678 310.9L678.5 311.9L679 313.1L679.5 314.6L680 316.3L680.5 317.9L681 319.5L681.5 320.8L682 322.1L682.5 323.5L683 324.9L683.5 326.3L684 327.6L684.5 328.8L685 330.1L685.5 331L686 331.9L686.5 332.7L687 333.6L687.5 334.5L688 335.6L688.5 336.9L689 338.4L689.5 339.9L690 341.3L690.5 342.4L691 343.3L691.5 344L692 344.9L692.5 345.8L693 346.6L693.5 347.2L694 347.6L694.5 347.8L695 348.1L695.5 348.7L696 349.2L696.5 349.7L697 350.1L697.5 350.3L698 350.7L698.5 351.2L699 352.1L699.5 353L700 353.7L700.5 354.2L701 354.6L701.5 354.8L702 355.2L702.5 355.8L703 356.5L703.5 356.6L704 356.5L704.5 356.2L705 355.7L705.5 355.1L706 354.5L706.5 354L707 353.5L707.5 352.7L708 351.8L708.5 350.8L709 350.1L709.5 349.7L710 349.6L710.5 349.6L711 348.1L711.5 346.3L712 344.3L712.5 342.3L713 340.5L713.5 339.1L714 337.7L714.5 336.4L715 335.2L715.5 333.9L716 333.7L716.5 333.6L717 333.7L717.5 333.8L718 333.7L718.5 333.1L719 332L719.5 330.7L720 329.4L720.5 328.4L721 328.9L721.5 329.5L722 330.3L722.5 331.2L723 332.1L723.5 333L724 333.7L724.5 333.5L725 332.5L725.5 331.5L726 330.8L726.5 330.4L727 330.1L727.5 329.6L728 328.8L728.5 327.8L729 326.9L729.5 326.4L730 326.4L730.5 326.5L731 326.6L731.5 326.2L732 325.5L732.5 324.6L733 323.7L733.5 322.9L734 322.1L734.5 322L735 322.4L735.5 322.9L736 323.5L736.5 324.1L737 324.6L737.5 324.9L738 325.3L738.5 326.2L739 327.6L739.5 329.2L740 330.9L740.5 332.2L741 333.2L741.5 334L742 334.6L742.5 335.1L743 335.5L743.5 334.4L744 333.4L744.5 332.5L745 331.4L745.5 330L746 328.3L746.5 326.5L747 324.7L747.5 323.2L748 321.7L748.5 320.3L749 319L749.5 317.8L750 316.8L750.5 315.9L751 315.1L751.5 314.1L752 312.9L752.5 311.5L753 310.3L753.5 309.5L754 308.9L754.5 308.3L755 307.5L755.5 306.3L756 303.8L756.5 301.4L757 299.1L757.5 296.7L758 294.3L758.5 292L759 289.8L759.5 287.5L760 285L760.5 282.2L761 279.3L761.5 276.5L762 273L762.5 269L763 265.5L763.5 262.1L764 258.5L764.5 254.5L765 250.1L765.5 245.4L766 243.6L766.5 241.9L767 240.3L767.5 238.8L768 237.6L768.5 236.5L769 235.4L769.5 234L770 232.5L770.5 230.8L771 230.1L771.5 229.5L772 228.9L772.5 228.5L773 228.1L773.5 227.8L774 227.6L774.5 227.6L775 227.8L775.5 228.3L776 228.7L776.5 228.9L777 228.7L777.5 228.2L778 227.5L778.5 227.5L779 227.7L779.5 228.1L780 228.5L780.5 228.9L781 229L781.5 229.1L782 229L782.5 229L783 229.3L783.5 229.9L784 230.5L784.5 230.9L785 231L785.5 230.6L786 232.7L786.5 234.9L787 237.5L787.5 240.4L788 243.6L788.5 247L789 250.4L789.5 254L790 257.6L790.5 261.1L791 264.4L791.5 267.4L792 270.1L792.5 272.7L793 275.3L793.5 278.2L794 281.4L794.5 282.1L795 280.1L795.5 278.1L796 275.7L796.5 273L797 270.3L797.5 267.7L798 265L798.5 262.6L799 260.7L799.5 259.2L800 258L800.1 440.4Z" fill="#ef9a5a"/>
<path d="M61.5 440.4L61.5 50.4L62 50.4L62.5 50.4L63 50.3L63.5 50.3L64 50.3L64.5 50.3L65 50.3L65.5 50.4L66 50.4L66.5 50.4L67 50.4L67.5 50.4L68 50.3L68.5 50.2L69 50.2L69.5 50.2L70 50.2L70.5 63.2L71 68.4L71.5 68.2L72 68.8L72.5 69.8L73 70.8L73.5 71.9L74 73.1L74.5 74.7L75 76.5L75.5 78.3L76 80.1L76.5 81L77 80.7L77.5 79.5L78 78.1L78.5 77.2L79 77.3L79.5 78.6L80 80.5L80.5 82.2L81 83.4L81.5 84.3L82 85.5L82.5 87.4L83 89.6L83.5 91.7L84 93.4L84.5 93.3L85 92.8L85.5 92L86 90.9L86.5 89.8L87 88.8L87.5 88.2L88 87.9L88.5 87.6L89 87.2L89.5 87.4L90 87.5L90.5 87.4L91 87.4L91.5 88L92 89.1L92.5 90.6L93 92L93.5 92.8L94 92.7L94.5 92.1L95 91.3L95.5 90.9L96 89.4L96.5 87.5L97 86.1L97.5 84.9L98 83L98.5 80.1L99 76.5L99.5 72.3L100 68.4L100.5 65.1L101 62.6L101.5 60.8L102 59.2L102.5 58.5L103 58.8L103.5 58.4L104 57.5L104.5 56.2L105 54.8L105.5 53.5L106 52.5L106.5 52.1L107 52.4L107.5 53.5L108 55.4L108.5 57L109 57.7L109.5 57.6L110 57L110.5 56.5L111 56.6L111.5 57.5L112 59.1L112.5 62.6L113 68.2L113.5 72.9L114 76.8L114.5 80.6L115 88.8L115.5 103.5L116 118.7L116.5 134.3L117 160.1L117.5 185.8L118 211.1L118.5 229.9L119 244.4L119.5 259.1L120 273.8L120.5 278.5L121 282.3L121.5 285.5L122 288.9L122.5 293.1L123 298.1L123.5 304.9L124 312.1L124.5 318.6L125 324.8L125.5 330.7L126 334.8L126.5 337.4L127 340.2L127.5 343.7L128 348.1L128.5 352.9L129 357.4L129.5 361.2L130 361.7L130.5 357.8L131 354.4L131.5 351.6L132 349.5L132.5 347.5L133 345.2L133.5 342.2L134 338.6L134.5 334.6L135 330.3L135.5 325.8L136 323.2L136.5 322.2L137 322L137.5 322.4L138 322.9L138.5 322.9L139 322.1L139.5 321.2L140 320.4L140.5 319.9L141 319.4L141.5 319.1L142 319.2L142.5 319.7L143 320.7L143.5 321.6L144 322.3L144.5 322.4L145 321.5L145.5 320.1L146 319.5L146.5 320L147 321.3L147.5 323.1L148 325.1L148.5 326.7L149 327.9L149.5 328.9L150 329.1L150.5 327.6L151 325.8L151.5 323.9L152 322.2L152.5 320.9L153 319.8L153.5 318.7L154 317.5L154.5 316.5L155 315.6L155.5 314.6L156 312.4L156.5 309.5L157 306.7L157.5 304.2L158 302.1L158.5 300.4L159 298.9L159.5 298L160 297.1L160.5 295.9L161 294.2L161.5 292L162 289.4L162.5 286.6L163 283.9L163.5 277.5L164 271.5L164.5 266L165 260.5L165.5 256.1L166 251.4L166.5 246.5L167 241.7L167.5 237.2L168 233.2L168.5 232.4L169 231.8L169.5 230.9L170 229.3L170.5 227.2L171 224.9L171.5 222.5L172 220.1L172.5 221.1L173 222L173.5 222.7L174 223.5L174.5 224.5L175 225.6L175.5 227L176 228.6L176.5 230.3L177 232.6L177.5 235.1L178 237.2L178.5 238.6L179 239.4L179.5 240.3L180 241.6L180.5 242.7L181 243.5L181.5 244.4L182 245.8L182.5 247.8L183 250L183.5 251.6L184 252.5L184.5 253.2L185 254L185.5 252.7L186 251.7L186.5 251.3L187 251.6L187.5 252.3L188 252.6L188.5 252.3L189 251.6L189.5 236.4L190 221.2L190.5 211.6L191 201.4L191.5 191L192 180.9L192.5 171.8L193 164.1L193.5 156.5L194 148.7L194.5 140.5L195 133L195.5 127.1L196 121.1L196.5 115.5L197 110.2L197.5 105.1L198 100L198.5 95.7L199 92.6L199.5 89.8L200 86.9L200.5 83.6L201 81.7L201.5 82.1L202 82.7L202.5 83.2L203 83.5L203.5 83.6L204 83.4L204.5 83.4L205 83.6L205.5 86.9L206 90.3L206.5 93.5L207 96.3L207.5 98.5L208 102.4L208.5 106.6L209 111.6L209.5 117.3L210 123.1L210.5 128.8L211 138.2L211.5 153.7L212 169.8L212.5 185.8L213 208.5L213.5 223L214 226.1L214.5 229.2L215 232.7L215.5 236.7L216 240L216.5 242L217 244L217.5 246.4L218 249.1L218.5 251.9L219 254.6L219.5 256.9L220 258.6L220.5 256L221 253L221.5 250.1L222 247.8L222.5 246.6L223 246.1L223.5 245.6L224 244.4L224.5 241.3L225 237L225.5 232.9L226 229.2L226.5 225.8L227 222.5L227.5 219.1L228 197.5L228.5 177.5L229 160L229.5 142.8L230 132.2L230.5 125.6L231 118.4L231.5 111.1L232 106.2L232.5 102.6L233 99.2L233.5 96.2L234 94L234.5 91.9L235 89.4L235.5 88.8L236 87.9L236.5 87.1L237 86.5L237.5 86.1L238 86L238.5 87.5L239 91.1L239.5 94.5L240 97.4L240.5 100L241 103.8L241.5 110.1L242 117L242.5 124.1L243 131L243.5 137.4L244 143.4L244.5 149.6L245 156.2L245.5 162.9L246 168.5L246.5 172.1L247 175.6L247.5 179.2L248 183.4L248.5 188L249 192.7L249.5 197.2L250 201.4L250.5 204L251 206.8L251.5 209.9L252 213.5L252.5 217.2L253 220.4L253.5 225.7L254 234.7L254.5 244.1L255 254.3L255.5 260.2L256 265.8L256.5 270.9L257 275.9L257.5 281L258 286.3L258.5 290.3L259 291.8L259.5 292.5L260 292.8L260.5 293.3L261 294.4L261.5 296.3L262 298.9L262.5 301.9L263 304.8L263.5 306.9L264 308.3L264.5 309.6L265 310.9L265.5 312.3L266 313.8L266.5 315.4L267 316.7L267.5 318L268 319.5L268.5 321.4L269 323.4L269.5 325.2L270 326.8L270.5 328.4L271 330L271.5 331.5L272 332.6L272.5 332.9L273 333.4L273.5 334.5L274 336.3L274.5 338.2L275 339.6L275.5 340.1L276 340.2L276.5 340.2L277 340.4L277.5 340.7L278 341L278.5 341.6L279 342.8L279.5 344.8L280 347.1L280.5 349.6L281 351.6L281.5 353.1L282 353.8L282.5 352.6L283 351.4L283.5 350.3L284 349.4L284.5 348.8L285 348.6L285.5 348.7L286 348.6L286.5 347.6L287 346.1L287.5 346.2L288 346.7L288.5 347.7L289 348.8L289.5 350.1L290 351.6L290.5 352.9L291 353.6L291.5 353.7L292 353.6L292.5 353.7L293 354.2L293.5 354.9L294 355.6L294.5 356.2L295 356.9L295.5 358L296 359.3L296.5 360.3L297 360.9L297.5 361.4L298 362L298.5 362.9L299 363.7L299.5 364.6L300 365.7L300.5 367.2L301 368.9L301.5 370.3L302 371.3L302.5 372.2L303 373L303.5 373.7L304 374.2L304.5 374.7L305 375.6L305.5 376.7L306 377.7L306.5 378.4L307 378.8L307.5 379.2L308 380.4L308.5 382.3L309 384.3L309.5 386.2L310 387.7L310.5 388.7L311 388.9L311.5 388.6L312 388.1L312.5 386.8L313 385.8L313.5 385L314 384.5L314.5 384.3L315 384.5L315.5 384.9L316 385.1L316.5 385L317 384.6L317.5 384L318 383.1L318.5 381.8L319 380.7L319.5 380.4L320 381L320.5 382L321 382.7L321.5 382.6L322 382.2L322.5 382L323 382.3L323.5 382.6L324 382.5L324.5 381.8L325 380.8L325.5 379.5L326 378L326.5 376.5L327 375L327.5 373.7L328 372.6L328.5 371.8L329 371.6L329.5 371.5L330 371.2L330.5 370.8L331 364.1L331.5 351.3L332 338.8L332.5 339.5L333 339.7L333.5 339.2L334 338.1L334.5 336.6L335 335.1L335.5 334.1L336 333.7L336.5 333.4L337 332.8L337.5 331.9L338 331.1L338.5 330.4L339 329.4L339.5 328.3L340 327.4L340.5 327L341 326.8L341.5 326.3L342 325.5L342.5 325.1L343 324.8L343.5 324.4L344 324L344.5 323.8L345 323.6L345.5 323.4L346 323L346.5 322.4L347 321.6L347.5 320.8L348 320.2L348.5 320L349 320.5L349.5 321.6L350 322.5L350.5 322.6L351 321.9L351.5 320.8L352 320L352.5 319.5L353 319.3L353.5 319.6L354 320.2L354.5 321.1L355 322L355.5 322.7L356 323.1L356.5 323.1L357 322.9L357.5 321.3L358 319.6L358.5 317.7L359 315.4L359.5 312.9L360 310.6L360.5 308.9L361 307.8L361.5 307.2L362 306.9L362.5 305.8L363 304.3L363.5 302L364 298.4L364.5 293.9L365 289.4L365.5 285.6L366 284.5L366.5 285.8L367 287.7L367.5 289.8L368 291.6L368.5 292.9L369 293.8L369.5 294.6L370 295.5L370.5 296.3L371 297.1L371.5 297.8L372 298.6L372.5 299.9L373 301.8L373.5 303.9L374 305.5L374.5 306.6L375 307.1L375.5 307.3L376 307.2L376.5 307.3L377 307.9L377.5 309.4L378 311.4L378.5 313.3L379 314.7L379.5 315.5L380 315.9L380.5 316.5L381 316.3L381.5 315.3L382 314.5L382.5 313.6L383 312.7L383.5 312.2L384 312.1L384.5 312L385 311.2L385.5 309.5L386 307.6L386.5 306.1L387 305.3L387.5 302.6L388 299.3L388.5 295.7L389 292.8L389.5 290.7L390 288.9L390.5 286.7L391 283.8L391.5 280.2L392 276.5L392.5 274.7L393 273.5L393.5 273.1L394 273L394.5 272.9L395 272.5L395.5 271.6L396 270.4L396.5 268.8L397 267L397.5 265.2L398 263.2L398.5 261.3L399 259.5L399.5 258.1L400 256.3L400.5 254.9L401 253.9L401.5 252.9L402 251.5L402.5 249.3L403 246.5L403.5 243.6L404 241.1L404.5 239L405 237.1L405.5 234.8L406 232.2L406.5 229.6L407 227.4L407.5 225L408 222.6L408.5 220.1L409 217.4L409.5 214.7L410 212.4L410.5 210.4L411 208.4L411.5 206.1L412 204.1L412.5 203.3L413 202.6L413.5 201.4L414 199.3L414.5 196.6L415 193.9L415.5 191.7L416 190.1L416.5 188.6L417 186.5L417.5 183.8L418 180.9L418.5 178.4L419 176.6L419.5 175.6L420 171.9L420.5 167.6L421 162.8L421.5 158.1L422 153.6L422.5 149.3L423 145L423.5 140.9L424 137.1L424.5 133.4L425 133.5L425.5 133.4L426 133.3L426.5 133.5L427 133.6L427.5 133.5L428 132.8L428.5 131.7L429 130.4L429.5 129.3L430 128.6L430.5 128.5L431 128.6L431.5 128.4L432 127.5L432.5 126.2L433 125.1L433.5 124.8L434 125L434.5 125.1L435 124.9L435.5 124.2L436 123L436.5 124.5L437 126.9L437.5 130.7L438 135.2L438.5 139L439 141.8L439.5 137.9L440 134.2L440.5 131L441 127.9L441.5 124.2L442 119.5L442.5 114.2L443 109.2L443.5 109.8L444 111.4L444.5 113.5L445 115.3L445.5 116.2L446 116.3L446.5 116L447 116L447.5 117.5L448 119.5L448.5 121.7L449 123.6L449.5 125.2L450 126.7L450.5 128.4L451 130.4L451.5 132.3L452 133.9L452.5 148.9L453 164.2L453.5 180L454 187.9L454.5 195.5L455 202L455.5 207.4L456 212.3L456.5 217.9L457 224.7L457.5 229.5L458 234.7L458.5 239.4L459 243.2L459.5 246.6L460 250.1L460.5 253.7L461 257L461.5 260.3L462 263.7L462.5 271.7L463 279.4L463.5 287.1L464 295.3L464.5 304.1L465 307.3L465.5 310.3L466 313L466.5 315.5L467 317.8L467.5 320L468 322.2L468.5 324.4L469 326.8L469.5 329.2L470 330.8L470.5 332.7L471 334.8L471.5 336.6L472 337.6L472.5 338.2L473 338.7L473.5 339.7L474 341.1L474.5 342.6L475 343.8L475.5 345.2L476 346.8L476.5 348.5L477 349.8L477.5 349.2L478 348.5L478.5 348.4L479 348.9L479.5 349.8L480 350.7L480.5 351.2L481 351.2L481.5 350.8L482 349.9L482.5 348.8L483 347.8L483.5 347.2L484 346.9L484.5 346.7L485 346.6L485.5 347.4L486 348.3L486.5 349.1L487 349.7L487.5 350.3L488 351.2L488.5 352.1L489 352.7L489.5 352.5L490 352.3L490.5 352.5L491 353.5L491.5 354.8L492 356.1L492.5 357.3L493 358.4L493.5 359.5L494 360.3L494.5 360.5L495 359.9L495.5 358.9L496 358L496.5 357.7L497 358L497.5 359L498 360.6L498.5 362.8L499 364.9L499.5 366.2L500 366.3L500.5 365.6L501 364.8L501.5 364.5L502 364.6L502.5 365.2L503 366.6L503.5 368.2L504 369.8L504.5 371.2L505 372.3L505.5 373.2L506 374.1L506.5 374.9L507 375.8L507.5 376.5L508 374L508.5 371.4L509 368.7L509.5 365.9L510 363L510.5 360.1L511 357.4L511.5 355.3L512 354.1L512.5 353.3L513 349.3L513.5 344.8L514 339.6L514.5 334.1L515 328.7L515.5 323.8L516 319.4L516.5 316.4L517 313.4L517.5 310.4L518 307.1L518.5 300.1L519 292.9L519.5 285.9L520 279.4L520.5 279.1L521 278.5L521.5 277.4L522 276.2L522.5 275.2L523 274.1L523.5 272.9L524 271.6L524.5 270.2L525 269L525.5 269.7L526 270.6L526.5 271.5L527 272.6L527.5 274L528 275.8L528.5 277.7L529 280.5L529.5 283.6L530 285.9L530.5 287.9L531 289.8L531.5 292L532 294.5L532.5 297.6L533 301L533.5 304L534 305.7L534.5 306.6L535 308.1L535.5 310L536 311.7L536.5 312.7L537 313.6L537.5 315.1L538 317.4L538.5 320L539 322.3L539.5 324L540 324.9L540.5 325.2L541 325.4L541.5 326L542 326.9L542.5 328L543 328.6L543.5 329.2L544 330L544.5 331.4L545 333.2L545.5 334.9L546 336.1L546.5 336.5L547 336.7L547.5 337.3L548 338.4L548.5 339.9L549 340.2L549.5 339.2L550 338L550.5 336.9L551 335.8L551.5 334.9L552 334.1L552.5 333.4L553 332.5L553.5 331.3L554 330L554.5 329L555 328.4L555.5 328.9L556 329.5L556.5 329.9L557 330L557.5 329.7L558 329L558.5 328.3L559 327.4L559.5 326.5L560 325.7L560.5 325.3L561 325.3L561.5 325.8L562 327L562.5 328.5L563 330L563.5 331L564 331.6L564.5 331.7L565 331L565.5 329.8L566 328.2L566.5 327L567 327.2L567.5 328.9L568 331.4L568.5 333.2L569 333.7L569.5 332.7L570 331.1L570.5 329.9L571 329.7L571.5 330.1L572 331L572.5 332.3L573 332.9L573.5 333.4L574 333L574.5 331.6L575 329.3L575.5 326.7L576 324.5L576.5 322.8L577 321.8L577.5 321.1L578 320.4L578.5 319.6L579 318.8L579.5 318.3L580 318.1L580.5 318.8L581 319.5L581.5 319.7L582 319.1L582.5 318.2L583 317.6L583.5 317.1L584 316.7L584.5 316L585 315.3L585.5 314.9L586 315.2L586.5 315.9L587 316.4L587.5 315.9L588 310.9L588.5 305.8L589 300.8L589.5 295.5L590 290.4L590.5 285.2L591 280L591.5 275.1L592 270.1L592.5 264.8L593 257.9L593.5 251L594 244L594.5 236.6L595 229L595.5 221.6L596 214.6L596.5 209.1L597 204.7L597.5 200.5L598 197.3L598.5 195L599 192.6L599.5 189.1L600 184.2L600.5 180.5L601 177.2L601.5 174.2L602 171.4L602.5 168.4L603 165.1L603.5 161.6L604 158.3L604.5 155.1L605 151.9L605.5 150.5L606 149.5L606.5 149.4L607 150.1L607.5 150.5L608 150.2L608.5 149L609 149L609.5 150.6L610 152.4L610.5 153.9L611 154.7L611.5 155.1L612 155.7L612.5 157.5L613 161.8L613.5 166.7L614 171L614.5 174.4L615 177.1L615.5 181.5L616 186L616.5 190.8L617 195.8L617.5 201.2L618 205.5L618.5 210L619 214.3L619.5 218.3L620 222L620.5 225.6L621 229.6L621.5 234.2L622 238.9L622.5 243.5L623 247.8L623.5 251.9L624 255.7L624.5 259.1L625 262L625.5 264.7L626 267.4L626.5 270.2L627 273.2L627.5 276.7L628 282.4L628.5 288L629 293.4L629.5 298.7L630 304.2L630.5 305.9L631 307.7L631.5 309.2L632 310.2L632.5 311.2L633 312.3L633.5 313.7L634 315.2L634.5 316.8L635 318.6L635.5 318.2L636 317.9L636.5 317.1L637 315.5L637.5 313.4L638 311.4L638.5 310.1L639 309.4L639.5 308.6L640 307.3L640.5 305.5L641 303.3L641.5 300.9L642 298.6L642.5 296.7L643 295L643.5 293.3L644 291.9L644.5 290.6L645 288.6L645.5 286.1L646 283.5L646.5 281.2L647 279.4L647.5 277.7L648 279.1L648.5 280.8L649 282.3L649.5 283.2L650 283.2L650.5 283.4L651 284.4L651.5 286.3L652 288.4L652.5 289.9L653 292.8L653.5 295L654 296.8L654.5 298.4L655 300.4L655.5 302.6L656 305.9L656.5 309.7L657 313L657.5 315.4L658 317.1L658.5 318.6L659 320.6L659.5 322.9L660 325.4L660.5 327.5L661 328L661.5 328.1L662 328.2L662.5 328.7L663 329.7L663.5 331L664 332.5L664.5 333.7L665 334.6L665.5 335.2L666 335.8L666.5 336.7L667 337.7L667.5 338.7L668 339.4L668.5 340.1L669 340.9L669.5 341.9L670 343.2L670.5 344.4L671 345.5L671.5 345.7L672 345.7L672.5 345.9L673 346.8L673.5 348L674 349.2L674.5 350.4L675 351.7L675.5 353.5L676 355.8L676.5 358.2L677 360.5L677.5 362.5L678 364.5L678.5 366.2L679 367.6L679.5 368.4L680 368.8L680.5 368.9L681 369.2L681.5 369.5L682 369.8L682.5 370.3L683 371L683.5 372L684 373.5L684.5 375.4L685 377.1L685.5 378.2L686 378.7L686.5 379L687 379.5L687.5 380L688 380.7L688.5 381.6L689 382.7L689.5 384L690 385.3L690.5 386.4L691 387.3L691.5 388.1L692 389.1L692.5 390.3L693 391.2L693.5 389.5L694 387.2L694.5 384.8L695 383.1L695.5 382.5L696 382.4L696.5 382.3L697 381.8L697.5 381.3L698 381.2L698.5 381.4L699 381.6L699.5 381.4L700 381L700.5 380.3L701 380.4L701.5 380.3L702 380.2L702.5 380.2L703 380L703.5 379.6L704 379.4L704.5 379.8L705 380.5L705.5 381.3L706 381.6L706.5 381.5L707 381L707.5 380.1L708 378.5L708.5 376.6L709 375.1L709.5 374.6L710 375.1L710.5 376.2L711 375.5L711.5 374.7L712 373.6L712.5 372.1L713 370.4L713.5 368.6L714 366.8L714.5 365.2L715 363.8L715.5 362.5L716 362.4L716.5 361.6L717 360.5L717.5 359.4L718 358.8L718.5 358.8L719 359.1L719.5 359.6L720 359.9L720.5 360L721 359.9L721.5 359.6L722 359.2L722.5 358.9L723 358.7L723.5 358.3L724 357.4L724.5 356.1L725 354.9L725.5 354L726 353.6L726.5 353.6L727 354.2L727.5 354.8L728 355.2L728.5 355.2L729 355L729.5 354.5L730 353.8L730.5 353.1L731 352.8L731.5 353.3L732 354.3L732.5 355.3L733 356.4L733.5 358.1L734 359.5L734.5 360.3L735 360.8L735.5 361.4L736 362.4L736.5 363.9L737 365.9L737.5 368.2L738 370.2L738.5 371.5L739 371.7L739.5 370.8L740 369.6L740.5 368.9L741 369.3L741.5 370.9L742 373L742.5 374.9L743 376L743.5 374.4L744 372.9L744.5 371.4L745 369.5L745.5 366.9L746 364.2L746.5 362.2L747 361.4L747.5 361.4L748 361.4L748.5 360.4L749 358.5L749.5 356.2L750 354.3L750.5 353L751 352.1L751.5 351.3L752 350.2L752.5 348.7L753 347.4L753.5 346.1L754 344.5L754.5 342.3L755 339.8L755.5 337.7L756 336.3L756.5 335.3L757 333.8L757.5 331.9L758 330.1L758.5 327.3L759 325L759.5 322.3L760 318.8L760.5 314.4L761 310L761.5 305.9L762 301.7L762.5 297.3L763 293.3L763.5 289.1L764 284.3L764.5 279.2L765 274.4L765.5 269.9L766 269.6L766.5 268.8L767 267.6L767.5 266.2L768 265L768.5 264.7L769 265L769.5 265.8L770 266.6L770.5 266.5L771 265.9L771.5 265.7L772 266.5L772.5 267.9L773 269.6L773.5 271L774 272L774.5 274.7L775 279.4L775.5 284.4L776 289.6L776.5 294.9L777 299.9L777.5 304.3L778 308.1L778.5 308.9L779 309.5L779.5 310.6L780 312.5L780.5 315.3L781 318.5L781.5 321.9L782 325.2L782.5 328.1L783 330.9L783.5 331.6L784 332.2L784.5 332.3L785 332.2L785.5 331.8L786 331.2L786.5 330.6L787 330.3L787.5 330.4L788 330.5L788.5 330.6L789 330.9L789.5 331.6L790 332.6L790.5 333.7L791 333.9L791.5 333.7L792 332.9L792.5 331.7L793 330.3L793.5 328.8L794 327.3L794.5 326.2L795 325.5L795.5 325L796 324.3L796.5 323.8L797 323.9L797.5 324.6L798 326L798.5 327.4L799 328.3L799.5 328.2L800 327.3L800.1 440.4Z" fill="#f4b565"/>
<path d="M61.5 440.4L61.5 194.8L62 196.5L62.5 183.9L63 148.4L63.5 140L64 143.9L64.5 170.4L65 174.1L65.5 167.5L66 143.3L66.5 110L67 105L67.5 111.6L68 128.9L68.5 155.9L69 176.7L69.5 192.1L70 201L70.5 181.5L71 158.3L71.5 144.5L72 152.2L72.5 163.4L73 156.8L73.5 162L74 171.2L74.5 183.2L75 193.3L75.5 193.9L76 172.3L76.5 158.8L77 162.5L77.5 192L78 212.5L78.5 222.6L79 226.8L79.5 225.4L80 225.5L80.5 224.9L81 226.2L81.5 224.8L82 218.7L82.5 210.6L83 208.9L83.5 214.1L84 215.9L84.5 210.3L85 201.2L85.5 192.7L86 189.9L86.5 185.6L87 178.5L87.5 187.2L88 186.1L88.5 156.5L89 150.2L89.5 158.9L90 167.1L90.5 168.7L91 177.8L91.5 189.1L92 204.8L92.5 228.3L93 243.7L93.5 248.9L94 250.3L94.5 250.1L95 254.1L95.5 241.8L96 219.7L96.5 195.9L97 186.9L97.5 184.4L98 176.1L98.5 162.7L99 147.6L99.5 140.2L100 135.2L100.5 126.8L101 112L101.5 99L102 94.3L102.5 90.3L103 84.1L103.5 77.5L104 72.9L104.5 74.2L105 72.7L105.5 68.2L106 86.2L106.5 128.9L107 154.6L107.5 171.7L108 185.1L108.5 199L109 210.7L109.5 214.7L110 221.4L110.5 239.8L111 258.1L111.5 271.7L112 284.8L112.5 298L113 310.9L113.5 320.2L114 327L114.5 332.8L115 338.1L115.5 339.6L116 331.6L116.5 322.7L117 329.8L117.5 347.2L118 358.4L118.5 359.7L119 355.3L119.5 355.6L120 362.8L120.5 374L121 384L121.5 390.3L122 394.6L122.5 398.9L123 403.5L123.5 408.7L124 415.2L124.5 413.7L125 411.1L125.5 406.6L126 399.2L126.5 393.4L127 390.6L127.5 387.9L128 391.8L128.5 393.6L129 392.1L129.5 390L130 389.9L130.5 390.9L131 390.7L131.5 388.8L132 385.9L132.5 383.5L133 382.4L133.5 382.1L134 381.7L134.5 381.6L135 382.2L135.5 383L136 382.4L136.5 380.3L137 379.5L137.5 378.5L138 371.8L138.5 365.4L139 364.1L139.5 364.2L140 369.2L140.5 375.2L141 376L141.5 376.8L142 378.2L142.5 379.1L143 379.3L143.5 378.7L144 377.2L144.5 374.7L145 372.3L145.5 371.1L146 370.3L146.5 370L147 370.9L147.5 372.7L148 374.8L148.5 376.7L149 377.5L149.5 376.8L150 375.1L150.5 373.8L151 373.6L151.5 373.2L152 371L152.5 367.8L153 368.2L153.5 370.8L154 371.7L154.5 370.7L155 369.1L155.5 366.4L156 363.7L156.5 361.8L157 360.1L157.5 358.1L158 354.9L158.5 350.8L159 350.2L159.5 352L160 352.5L160.5 351L161 349.3L161.5 346.8L162 343.2L162.5 338.7L163 333.7L163.5 328.5L164 324.2L164.5 321.2L165 317.9L165.5 311.2L166 300L166.5 292.7L167 290.3L167.5 282.1L168 254.3L168.5 247L169 245.4L169.5 243.9L170 265.8L170.5 271L171 267.6L171.5 267.3L172 266.5L172.5 263.3L173 257.5L173.5 255.8L174 258L174.5 261.5L175 264.3L175.5 266.1L176 268.6L176.5 272.8L177 276.7L177.5 278.4L178 278.6L178.5 278.8L179 279.5L179.5 280.3L180 282.1L180.5 285.6L181 290.1L181.5 293.6L182 296.5L182.5 298.6L183 297.1L183.5 289.8L184 282.4L184.5 283.7L185 294.8L185.5 303.1L186 303.7L186.5 302.5L187 301.9L187.5 300L188 298.7L188.5 301.3L189 303.4L189.5 302.1L190 299.6L190.5 294.6L191 291.3L191.5 286.8L192 280.9L192.5 273.9L193 265L193.5 248.1L194 232.3L194.5 222.2L195 213.5L195.5 174.1L196 121.1L196.5 115.5L197 110.2L197.5 106.3L198 118.7L198.5 130.9L199 137.5L199.5 142.1L200 144.6L200.5 159.6L201 174.8L201.5 194.9L202 213.9L202.5 227.9L203 239L203.5 248.2L204 255.9L204.5 256.9L205 263L205.5 274L206 283.6L206.5 289.2L207 293.7L207.5 298L208 299.6L208.5 298.1L209 299L209.5 306.3L210 314.2L210.5 319.6L211 323.9L211.5 330.7L212 332.7L212.5 335L213 336.7L213.5 338.2L214 338.9L214.5 338.3L215 337.9L215.5 338.6L216 338.5L216.5 337.8L217 336.9L217.5 335.8L218 334.8L218.5 334.6L219 335.5L219.5 336.1L220 335.9L220.5 335L221 334.2L221.5 334.1L222 333.7L222.5 331.2L223 326.3L223.5 321.4L224 317.4L224.5 312.8L225 310.5L225.5 308.3L226 304.8L226.5 290.7L227 276.2L227.5 260.7L228 245.2L228.5 218.6L229 192.7L229.5 164.8L230 146L230.5 137L231 134L231.5 132.9L232 128.3L232.5 121.6L233 132.4L233.5 144.6L234 156.2L234.5 167.6L235 199.6L235.5 228.9L236 256.5L236.5 271.7L237 291L237.5 310L238 326.7L238.5 330.7L239 332.9L239.5 332.9L240 330.4L240.5 327.1L241 326.6L241.5 329.6L242 333.2L242.5 336.6L243 340.9L243.5 345.8L244 349.6L244.5 353L245 355.4L245.5 358.8L246 363.6L246.5 368.6L247 372.9L247.5 376L248 378.4L248.5 381.3L249 385.2L249.5 388.8L250 393L250.5 397.7L251 401.3L251.5 403.8L252 406.7L252.5 409.9L253 413L253.5 416.1L254 419.6L254.5 419.8L255 420L255.5 420L256 419.9L256.5 420L257 420.2L257.5 419.8L258 418.9L258.5 418.2L259 418.1L259.5 416.8L260 415.7L260.5 414.6L261 412.8L261.5 410.1L262 407.1L262.5 404.6L263 402.9L263.5 401.3L264 398.7L264.5 395.4L265 391.3L265.5 387.3L266 386L266.5 388.4L267 391L267.5 391.1L268 390.2L268.5 389L269 387L269.5 384.4L270 383.1L270.5 383.7L271 384.4L271.5 384.2L272 383.4L272.5 383.2L273 382.3L273.5 380L274 377.6L274.5 379.3L275 382.4L275.5 380.8L276 373.6L276.5 369.5L277 372.3L277.5 376.3L278 377.7L278.5 378.5L279 380.5L279.5 382.7L280 384.6L280.5 385.1L281 384.3L281.5 383.3L282 383.4L282.5 385.8L283 389.7L283.5 392.5L284 391.9L284.5 385.7L285 382.6L285.5 382.3L286 382.6L286.5 384.3L287 390.9L287.5 393.4L288 393.5L288.5 392.2L289 390.6L289.5 390.8L290 392.6L290.5 393.3L291 392.8L291.5 393.4L292 395L292.5 396.8L293 399.2L293.5 402L294 404L294.5 404.1L295 402.7L295.5 401.6L296 401.9L296.5 403.2L297 404.9L297.5 406.3L298 407.5L298.5 408.1L299 408.3L299.5 408.4L300 408.7L300.5 409L301 409.2L301.5 409.1L302 408.8L302.5 408.7L303 409.3L303.5 410.1L304 409.9L304.5 408.9L305 409L305.5 410L306 411.3L306.5 412.6L307 413.9L307.5 414.4L308 414.2L308.5 413.5L309 412.7L309.5 411.6L310 411.2L310.5 411.6L311 411.7L311.5 413.3L312 415.6L312.5 416.2L313 416.2L313.5 416.4L314 417L314.5 417.3L315 417.1L315.5 416.8L316 416.9L316.5 417.3L317 417.8L317.5 419.5L318 420.9L318.5 422L319 422.9L319.5 423.1L320 423L320.5 422.9L321 423L321.5 423.2L322 423L322.5 422.3L323 421.9L323.5 421.6L324 421.9L324.5 422.4L325 422.4L325.5 421.4L326 420.2L326.5 420.1L327 420.8L327.5 420.9L328 420.6L328.5 420.5L329 419.7L329.5 418.9L330 417.9L330.5 416.7L331 416.1L331.5 402.5L332 388.8L332.5 374L333 374.7L333.5 375.8L334 376.8L334.5 376.5L335 374.9L335.5 374.3L336 374.9L336.5 375L337 374.2L337.5 374.1L338 375.1L338.5 375.1L339 373.5L339.5 370.7L340 368L340.5 366.4L341 365.9L341.5 365.6L342 364.2L342.5 362.3L343 361.8L343.5 363.3L344 365L344.5 364.7L345 362.2L345.5 360.7L346 362.4L346.5 365.5L347 367.9L347.5 369.6L348 370.2L348.5 370.3L349 370.3L349.5 370L350 369.5L350.5 368.9L351 368.6L351.5 369.1L352 369.1L352.5 366.8L353 363.5L353.5 362.3L354 364.5L354.5 368.3L355 371.4L355.5 372.8L356 372.9L356.5 372.4L357 371.9L357.5 371.1L358 370.2L358.5 370.2L359 372.2L359.5 375.4L360 370.2L360.5 363.5L361 355.9L361.5 349.1L362 343.5L362.5 347L363 345L363.5 346.4L364 354.2L364.5 362.5L365 369.2L365.5 368.6L366 366.8L366.5 364L367 360.6L367.5 356.4L368 351.9L368.5 349L369 348.7L369.5 349.1L370 347.9L370.5 344.6L371 341.8L371.5 343.3L372 346.6L372.5 350.7L373 354L373.5 357.5L374 361L374.5 363.7L375 364.7L375.5 364.6L376 364.7L376.5 364.2L377 360.5L377.5 354.3L378 356.6L378.5 358.7L379 360.2L379.5 364.8L380 370.6L380.5 372L381 368.5L381.5 362L382 358L382.5 358.3L383 358.4L383.5 356.1L384 352.9L384.5 350.5L385 348.8L385.5 347.3L386 345L386.5 341.2L387 338.4L387.5 339.6L388 340.2L388.5 338.5L389 337.6L389.5 336.9L390 333.7L390.5 328.5L391 324.6L391.5 322.8L392 321.1L392.5 319.9L393 317.5L393.5 318.7L394 324.2L394.5 330L395 334.1L395.5 335.9L396 334.2L396.5 329.6L397 324.3L397.5 315.9L398 314.3L398.5 313.1L399 312.4L399.5 311.6L400 318.1L400.5 324.2L401 326.3L401.5 325.7L402 323.2L402.5 322.2L403 320.7L403.5 319.1L404 317.6L404.5 316.1L405 315.1L405.5 317.3L406 323.5L406.5 327.2L407 325L407.5 321.1L408 320L408.5 312.5L409 301.3L409.5 292.8L410 294.7L410.5 300.2L411 298.6L411.5 290.8L412 283.4L412.5 279.4L413 274.1L413.5 266.5L414 261.3L414.5 257.3L415 247.7L415.5 231L416 218.9L416.5 221L417 226.9L417.5 222.1L418 207.6L418.5 193.3L419 189.4L419.5 192.8L420 192.1L420.5 184.4L421 173.6L421.5 168.9L422 167.5L422.5 168L423 167.8L423.5 166.6L424 165.1L424.5 164.5L425 163.6L425.5 163.5L426 163L426.5 156.9L427 147.2L427.5 147.5L428 156.8L428.5 164.2L429 167.4L429.5 169.3L430 170.9L430.5 172.2L431 172.6L431.5 172.2L432 171.6L432.5 171.2L433 170.3L433.5 168.3L434 167L434.5 161.7L435 148.4L435.5 140.3L436 142.1L436.5 144.4L437 150.9L437.5 164.4L438 175.4L438.5 177.5L439 171.7L439.5 166.3L440 168.1L440.5 169.6L441 167.3L441.5 162.5L442 158.3L442.5 156.7L443 157.6L443.5 161.6L444 163.9L444.5 164.6L445 164.5L445.5 164L446 162.8L446.5 161.6L447 162.1L447.5 164.8L448 163.3L448.5 154.5L449 151.3L449.5 161L450 172.5L450.5 178.8L451 182L451.5 189.5L452 197.2L452.5 203.7L453 207.9L453.5 214.5L454 225.1L454.5 243.9L455 262.3L455.5 270.5L456 275.8L456.5 282.1L457 290.2L457.5 298.7L458 306.6L458.5 311L459 312.8L459.5 315.9L460 323.6L460.5 332.3L461 338.1L461.5 341.8L462 343.2L462.5 341.8L463 341.2L463.5 347.6L464 358.1L464.5 364L465 362.5L465.5 362.4L466 367.3L466.5 372.7L467 375L467.5 375.5L468 376.5L468.5 377.8L469 379L469.5 380.8L470 381.5L470.5 379.7L471 374.8L471.5 371.8L472 376.4L472.5 384L473 386.4L473.5 383.7L474 379.4L474.5 377.3L475 378L475.5 379.2L476 379.9L476.5 382.1L477 386.6L477.5 389.1L478 388.6L478.5 387.9L479 388.9L479.5 389.8L480 390L480.5 390.6L481 391.5L481.5 392.5L482 394.1L482.5 395.2L483 395L483.5 393.3L484 391.3L484.5 390.7L485 391.8L485.5 392.2L486 392.5L486.5 391.6L487 389L487.5 386.7L488 386.1L488.5 386.8L489 388.5L489.5 391.4L490 394L490.5 394.9L491 394.7L491.5 394.2L492 393.5L492.5 392.1L493 391.3L493.5 391L494 393.2L494.5 396.3L495 398.5L495.5 400.4L496 401.7L496.5 401.8L497 401.9L497.5 403.7L498 406.6L498.5 409.3L499 411.1L499.5 412.3L500 413.2L500.5 412.5L501 412L501.5 411L502 409.4L502.5 407.7L503 406.3L503.5 404L504 399.9L504.5 398L505 401.3L505.5 404.1L506 402.8L506.5 398.7L507 395.2L507.5 394.3L508 395L508.5 395.2L509 394.2L509.5 392.2L510 390.2L510.5 388.7L511 388.2L511.5 389.1L512 390.9L512.5 390.9L513 388.4L513.5 386.3L514 383.8L514.5 380.7L515 378.2L515.5 377.9L516 378L516.5 376.7L517 374.8L517.5 373.1L518 372L518.5 369.7L519 364.9L519.5 357.9L520 350.6L520.5 349.1L521 355.1L521.5 360L522 359.9L522.5 359L523 362L523.5 364.2L524 365.7L524.5 367L525 368.2L525.5 369.5L526 371.8L526.5 373.8L527 374.2L527.5 372.5L528 367.5L528.5 361.9L529 360.2L529.5 363.8L530 368.3L530.5 371.6L531 374L531.5 374.4L532 371.4L532.5 368.1L533 368.6L533.5 372.8L534 378L534.5 381.2L535 382.4L535.5 382.4L536 381.7L536.5 380.7L537 380.7L537.5 381.5L538 382.4L538.5 383.3L539 383.6L539.5 384.5L540 386.8L540.5 388.6L541 389.8L541.5 391L542 390.9L542.5 389L543 386.8L543.5 386.6L544 390L544.5 394.8L545 398L545.5 396.5L546 394.9L546.5 394.5L547 393.3L547.5 391.3L548 389.9L548.5 389.1L549 388L549.5 386.3L550 384.3L550.5 381.5L551 376.5L551.5 369.8L552 364.9L552.5 362.9L553 365.8L553.5 368.6L554 370.5L554.5 372.3L555 375.1L555.5 378.2L556 380.3L556.5 381.7L557 382.7L557.5 384.3L558 385.1L558.5 385.2L559 384.6L559.5 383.9L560 383.2L560.5 382.6L561 382.3L561.5 382.3L562 383.1L562.5 383.7L563 381.5L563.5 375.8L564 374.5L564.5 378.9L565 385.2L565.5 387.5L566 387L566.5 386.7L567 386.4L567.5 383L568 376.7L568.5 376.5L569 377L569.5 383.8L570 389.3L570.5 392.5L571 393.7L571.5 393.8L572 393.6L572.5 393.4L573 391.3L573.5 389.6L574 387.9L574.5 384.5L575 377.1L575.5 370.6L576 368.9L576.5 371L577 376.7L577.5 375.9L578 373L578.5 370.6L579 368.4L579.5 366.6L580 365.1L580.5 366.4L581 367L581.5 367.4L582 367.7L582.5 367.6L583 368L583.5 370.4L584 373.5L584.5 375.8L585 377.7L585.5 374L586 370.1L586.5 366L587 362.5L587.5 357.6L588 347.3L588.5 336.9L589 334.9L589.5 335.7L590 333.6L590.5 331L591 328.1L591.5 324.8L592 321.4L592.5 316.6L593 304.8L593.5 282.3L594 273L594.5 263.9L595 277.2L595.5 269.3L596 247.3L596.5 238.8L597 240.1L597.5 236.2L598 227.5L598.5 226.6L599 225.6L599.5 225L600 224.8L600.5 225.4L601 226.6L601.5 229.1L602 231.6L602.5 238.6L603 243.4L603.5 238.9L604 238.1L604.5 250.8L605 260.6L605.5 260.5L606 259.8L606.5 270.3L607 281.7L607.5 278.6L608 270.7L608.5 278.1L609 289.9L609.5 296.1L610 300L610.5 302.7L611 304.8L611.5 305.8L612 305.8L612.5 304.9L613 302.4L613.5 299.1L614 297.6L614.5 297.4L615 296.1L615.5 298.2L616 304.3L616.5 314.9L617 326.4L617.5 335.1L618 339.5L618.5 340.4L619 342.6L619.5 349.7L620 359.2L620.5 362.6L621 355.8L621.5 351.3L622 354.3L622.5 357.3L623 360.1L623.5 362.4L624 368.8L624.5 376.9L625 382.2L625.5 382.6L626 382.5L626.5 382.2L627 381.8L627.5 381.4L628 381.7L628.5 382L629 382.3L629.5 382.3L630 381.4L630.5 380.4L631 379.2L631.5 377.3L632 375.3L632.5 373.3L633 370.6L633.5 368.3L634 365.3L634.5 361.6L635 359.1L635.5 357.9L636 356.4L636.5 354.2L637 350.5L637.5 347L638 346.1L638.5 344.9L639 341.3L639.5 338.8L640 337.8L640.5 335.7L641 332.8L641.5 330.4L642 329L642.5 328.3L643 327.6L643.5 331.1L644 334.1L644.5 337.5L645 341.2L645.5 344.1L646 346.3L646.5 348.7L647 351.4L647.5 354.5L648 358.4L648.5 360.7L649 361.8L649.5 361.5L650 359.9L650.5 358.8L651 360.4L651.5 364.4L652 367.6L652.5 368.8L653 368.1L653.5 366.4L654 365.9L654.5 368.7L655 372.8L655.5 375.4L656 374.6L656.5 373.1L657 371.7L657.5 371.3L658 371.8L658.5 371.8L659 369.1L659.5 363.8L660 361.3L660.5 365.6L661 370.7L661.5 369L662 361L662.5 360.2L663 367.2L663.5 374.7L664 377.2L664.5 377.4L665 375.9L665.5 373.8L666 372.5L666.5 371.9L667 373.7L667.5 378.8L668 385.4L668.5 388.7L669 389.5L669.5 390L670 390.6L670.5 390.2L671 389.6L671.5 390.7L672 392.4L672.5 393.1L673 391.8L673.5 390.7L674 393.1L674.5 396.7L675 398.3L675.5 399.5L676 401.2L676.5 402.7L677 403.7L677.5 404.6L678 406L678.5 407.4L679 408.1L679.5 408.5L680 408.6L680.5 408.6L681 409.1L681.5 410.2L682 411.2L682.5 411.9L683 412.2L683.5 411.8L684 411.8L684.5 411.4L685 409.2L685.5 408.7L686 409.5L686.5 412.6L687 416.1L687.5 418.4L688 419.4L688.5 419.3L689 419L689.5 419.2L690 419.4L690.5 418.9L691 417.3L691.5 416.1L692 417L692.5 418.5L693 418.5L693.5 415.5L694 412.9L694.5 412.1L695 410.9L695.5 408.7L696 406.5L696.5 405.2L697 404.5L697.5 403.4L698 401.5L698.5 402.2L699 403.2L699.5 404.6L700 406.1L700.5 407L701 407.7L701.5 408.7L702 410.2L702.5 412.1L703 414.1L703.5 414.4L704 414.5L704.5 413.8L705 411.6L705.5 407.3L706 401.4L706.5 400.7L707 400.5L707.5 403.3L708 406.7L708.5 407.5L709 406.6L709.5 405.2L710 403.7L710.5 399.6L711 394.8L711.5 393.9L712 393.6L712.5 394L713 398.5L713.5 400.5L714 400.6L714.5 400.2L715 399.5L715.5 399.1L716 398.5L716.5 397.6L717 397.9L717.5 399.9L718 402.6L718.5 404.9L719 405.3L719.5 405L720 405.1L720.5 404.5L721 402.5L721.5 400L722 399.4L722.5 402.3L723 406.9L723.5 408.4L724 407.6L724.5 405.3L725 402.4L725.5 399.3L726 396.9L726.5 395.9L727 396.1L727.5 396.7L728 397.3L728.5 398L729 398.8L729.5 399.2L730 399.3L730.5 399.5L731 401.2L731.5 402.2L732 402.9L732.5 403.4L733 403.9L733.5 404.7L734 405.2L734.5 404.2L735 401.8L735.5 399.2L736 398.2L736.5 400L737 403.2L737.5 405.1L738 405.3L738.5 405.1L739 406L739.5 408.1L740 410.7L740.5 413L741 412.6L741.5 412L742 411L742.5 409.4L743 407.6L743.5 405.8L744 404L744.5 401.6L745 398.4L745.5 395.3L746 393.2L746.5 392.4L747 391.8L747.5 390.4L748 387.8L748.5 383.4L749 378.7L749.5 377L750 378.2L750.5 379.6L751 380.1L751.5 380.2L752 379.7L752.5 378L753 375.8L753.5 374.4L754 373.7L754.5 373L755 371.3L755.5 368.4L756 365L756.5 363.3L757 361.6L757.5 358.3L758 353.2L758.5 347.3L759 342.6L759.5 337.5L760 327.6L760.5 321.2L761 318.7L761.5 317L762 315.5L762.5 313.4L763 323.5L763.5 327.6L764 325.9L764.5 322L765 318.2L765.5 314.6L766 307.4L766.5 297.2L767 297.7L767.5 307.8L768 315.9L768.5 321.5L769 323.8L769.5 323.7L770 325.6L770.5 329.4L771 332.2L771.5 332.8L772 338.1L772.5 344.6L773 351.3L773.5 353.4L774 354.5L774.5 358L775 366L775.5 370.3L776 372.9L776.5 375.3L777 377.2L777.5 378.5L778 379.2L778.5 379.8L779 380.8L779.5 381.9L780 382.6L780.5 383.1L781 381.8L781.5 380.6L782 379.8L782.5 379.1L783 379.1L783.5 379.7L784 378L784.5 370L785 362.2L785.5 365.8L786 373.7L786.5 375.3L787 373.2L787.5 372L788 373L788.5 375.9L789 376.9L789.5 373.6L790 368.5L790.5 370.3L791 372.9L791.5 375.8L792 378L792.5 379.1L793 384.6L793.5 386.2L794 385.5L794.5 384.5L795 383.9L795.5 382.8L796 379.1L796.5 370.6L797 366L797.5 364.1L798 362.9L798.5 361.8L799 360.5L799.5 367.2L800 369.6L800.1 440.4Z" fill="#f5c874"/>
<path d="M61.5 440.4L61.5 410.2L62 409.6L62.5 412L63 409.1L63.5 399.3L64 337.3L64.5 323.1L65 320.4L65.5 317.2L66 315L66.5 377.4L67 395.7L67.5 399L68 402.5L68.5 402.1L69 383.1L69.5 380.3L70 397.7L70.5 390.1L71 352.1L71.5 319.7L72 312.3L72.5 339.4L73 379L73.5 393.3L74 381.3L74.5 331.8L75 322.9L75.5 384.1L76 409.7L76.5 358.1L77 329.6L77.5 330.7L78 333.2L78.5 336.7L79 388.3L79.5 415.8L80 405.7L80.5 397.2L81 407.3L81.5 418.4L82 422.8L82.5 423.9L83 422.4L83.5 419.3L84 414.7L84.5 410.9L85 416.7L85.5 418.7L86 415.2L86.5 417.8L87 416.6L87.5 405.4L88 386.7L88.5 366.8L89 361L89.5 381.8L90 403.6L90.5 405.9L91 400.6L91.5 394.4L92 388L92.5 378.6L93 361.8L93.5 352.5L94 366.8L94.5 389.7L95 397.7L95.5 394.6L96 391.2L96.5 395.6L97 402L97.5 401.4L98 400.1L98.5 400.6L99 396.5L99.5 383.4L100 364.7L100.5 320.3L101 269.7L101.5 259.3L102 252.1L102.5 317.6L103 312L103.5 275.8L104 233.2L104.5 271.6L105 313.7L105.5 351.1L106 328.8L106.5 299.2L107 311.8L107.5 350.5L108 384L108.5 399.6L109 405.2L109.5 404.6L110 403.3L110.5 399.1L111 397L111.5 397.7L112 399.1L112.5 402.6L113 406.9L113.5 408.4L114 409.5L114.5 410L115 406.2L115.5 397.7L116 398.1L116.5 412.2L117 414.9L117.5 408.7L118 413.8L118.5 416.7L119 416.5L119.5 418.4L120 419.5L120.5 419.8L121 420.9L121.5 421.8L122 419.4L122.5 412.5L123 408.6L123.5 408.7L124 415.2L124.5 414.3L125 422.2L125.5 426.1L126 426.9L126.5 426.8L127 424L127.5 425L128 426.2L128.5 423.1L129 421.2L129.5 422.6L130 422.8L130.5 420.6L131 417.5L131.5 415.6L132 414.5L132.5 411.5L133 407.1L133.5 404.9L134 405.9L134.5 408.3L135 409.5L135.5 410.9L136 410.6L136.5 402.8L137 395L137.5 394.5L138 397.5L138.5 400.7L139 404.6L139.5 409.8L140 412.8L140.5 412.5L141 411.3L141.5 404.6L142 397.1L142.5 404.6L143 416.2L143.5 417L144 415L144.5 415L145 415.8L145.5 415.6L146 415.4L146.5 415.3L147 414.4L147.5 414.5L148 415.1L148.5 415L149 414.4L149.5 413.5L150 413.3L150.5 414.9L151 414.3L151.5 413L152 411.6L152.5 405.2L153 395.2L153.5 393.7L154 398.9L154.5 400.8L155 400.2L155.5 400L156 400.8L156.5 402.1L157 403L157.5 403.3L158 403.1L158.5 398.9L159 394.6L159.5 396.8L160 395.7L160.5 386.8L161 385.5L161.5 393L162 391.2L162.5 384.7L163 385.4L163.5 387.1L164 385.7L164.5 383.9L165 380.9L165.5 376.7L166 377.3L166.5 380.8L167 382.9L167.5 380.1L168 352.5L168.5 344.3L169 344L169.5 345.5L170 346.4L170.5 346.3L171 346.2L171.5 376.1L172 389.2L172.5 374.2L173 345.8L173.5 346.7L174 349.9L174.5 363.4L175 361L175.5 348.6L176 348.4L176.5 349.2L177 352.9L177.5 362.2L178 359.5L178.5 362L179 382.2L179.5 394.4L180 395.7L180.5 394.6L181 385.4L181.5 367.1L182 366.6L182.5 390.6L183 400.1L183.5 397.7L184 399.4L184.5 398.6L185 381.3L185.5 364.3L186 378.5L186.5 394L187 394L187.5 391.7L188 388.3L188.5 388.2L189 390.7L189.5 383.9L190 373.2L190.5 367.4L191 370L191.5 367.6L192 351.1L192.5 335L193 338.4L193.5 344.3L194 345.5L194.5 341.2L195 324.7L195.5 305.5L196 298L196.5 283.3L197 261.5L197.5 240.6L198 230.4L198.5 250.4L199 267.5L199.5 284.1L200 292.4L200.5 294.5L201 316.1L201.5 343.5L202 353L202.5 358.6L203 358.7L203.5 352.1L204 358.7L204.5 373.3L205 381.2L205.5 385.8L206 391.1L206.5 396.2L207 399.9L207.5 402L208 402.9L208.5 406.8L209 411.4L209.5 407.4L210 407.1L210.5 411.8L211 414.4L211.5 414L212 412.5L212.5 411.5L213 410.7L213.5 410L214 409.2L214.5 407.5L215 406.9L215.5 406.7L216 404.4L216.5 401.5L217 400.1L217.5 399.7L218 397.8L218.5 398.5L219 402.9L219.5 404.1L220 403.2L220.5 398.5L221 386L221.5 379.1L222 395.5L222.5 410.7L223 397.5L223.5 363.8L224 359.9L224.5 358.2L225 357.8L225.5 356.1L226 353.2L226.5 349.2L227 338.1L227.5 332L228 348.8L228.5 356.6L229 347.3L229.5 302.8L230 263.8L230.5 247.1L231 246.2L231.5 235.9L232 249.8L232.5 258.2L233 280L233.5 306.5L234 345.9L234.5 356L235 368.2L235.5 385L236 396.2L236.5 401L237 405.1L237.5 405.6L238 402.9L238.5 400.6L239 397.4L239.5 394.6L240 395.9L240.5 397.3L241 395.7L241.5 390.5L242 382.6L242.5 378.5L243 391.1L243.5 408.3L244 396.9L244.5 380.2L245 378.3L245.5 378.3L246 379.7L246.5 380.3L247 387L247.5 399.7L248 396L248.5 389.8L249 388.6L249.5 388.8L250 393L250.5 410.5L251 409.6L251.5 403.8L252 406.7L252.5 409.9L253 413L253.5 416.1L254 419.6L254.5 419.8L255 420L255.5 420L256 419.9L256.5 420L257 420.2L257.5 419.8L258 418.9L258.5 418.2L259 418.1L259.5 416.8L260 415.7L260.5 414.6L261 419.7L261.5 420.8L262 418.8L262.5 419L263 420.3L263.5 420.8L264 421L264.5 420.3L265 419.6L265.5 420.3L266 417.8L266.5 415.6L267 417.9L267.5 419.9L268 420.1L268.5 420L269 421.6L269.5 421.4L270 419.6L270.5 418.9L271 419.5L271.5 418.1L272 409L272.5 400.2L273 406.8L273.5 414.7L274 411.2L274.5 405.9L275 410.5L275.5 417.7L276 420.7L276.5 421.1L277 419.3L277.5 412.8L278 403.8L278.5 395.4L279 392.3L279.5 397.3L280 409.9L280.5 417.8L281 419L281.5 419.1L282 419.4L282.5 418.9L283 417.3L283.5 413.5L284 405.8L284.5 401L285 407.6L285.5 415.5L286 416.9L286.5 413.4L287 406.6L287.5 400.3L288 401L288.5 405.2L289 407.9L289.5 410.7L290 414.8L290.5 418.2L291 420.3L291.5 420.4L292 420.2L292.5 418.3L293 413.2L293.5 414.1L294 418.7L294.5 422.4L295 425.3L295.5 423.2L296 419.1L296.5 419.4L297 427.1L297.5 429.7L298 422.5L298.5 419.3L299 418.1L299.5 421.6L300 425.5L300.5 427.4L301 428.8L301.5 428.7L302 428.3L302.5 426.1L303 423.9L303.5 424.6L304 426.9L304.5 428.8L305 428.6L305.5 426.2L306 423.4L306.5 422.5L307 424.9L307.5 427.4L308 426.7L308.5 425.5L309 426.2L309.5 428.2L310 430L310.5 429.4L311 426.6L311.5 425.7L312 426.7L312.5 426.5L313 425.2L313.5 425.2L314 424.6L314.5 422.8L315 422.4L315.5 423.1L316 422.7L316.5 419.2L317 417.8L317.5 419.5L318 420.9L318.5 422L319 424.9L319.5 426.1L320 426.3L320.5 426.1L321 426L321.5 425.7L322 426.8L322.5 427.4L323 425.2L323.5 424L324 425.5L324.5 425.3L325 424.3L325.5 424.2L326 424.8L326.5 425.7L327 426.4L327.5 427L328 427.4L328.5 426.1L329 424.5L329.5 424L330 423L330.5 421.1L331 416.4L331.5 409.6L332 404.5L332.5 406.2L333 407L333.5 407.6L334 408L334.5 408.2L335 409.2L335.5 407.8L336 399.2L336.5 393.4L337 393.3L337.5 403.9L338 416.6L338.5 419.7L339 419.7L339.5 419.4L340 418.8L340.5 418.4L341 419.2L341.5 420.8L342 421.2L342.5 418.3L343 416.5L343.5 416L344 415.4L344.5 415.1L345 413.8L345.5 406.9L346 395.8L346.5 396.3L347 397.3L347.5 405.3L348 410.9L348.5 414.7L349 417.8L349.5 418L350 415.7L350.5 412.8L351 411.5L351.5 412.4L352 415.3L352.5 418.3L353 418.7L353.5 416.9L354 414.3L354.5 412.5L355 410.1L355.5 409.1L356 409.2L356.5 407.2L357 402.2L357.5 398.4L358 398.1L358.5 395.8L359 387.2L359.5 375.4L360 370.2L360.5 363.5L361 370.5L361.5 382.8L362 381.6L362.5 379L363 376.9L363.5 376.1L364 378.1L364.5 381.7L365 386.5L365.5 392.3L366 397.1L366.5 392.4L367 389.7L367.5 397.3L368 405.2L368.5 410L369 412.6L369.5 412.8L370 411.7L370.5 410.2L371 408.5L371.5 408.7L372 411.6L372.5 415.2L373 417L373.5 413.6L374 402.4L374.5 396.3L375 397.2L375.5 408.8L376 417.8L376.5 404.7L377 395.4L377.5 395.5L378 394.9L378.5 392.3L379 397.7L379.5 406.1L380 407.4L380.5 408.8L381 409.9L381.5 409.3L382 409.9L382.5 410.5L383 410.6L383.5 409.2L384 406.2L384.5 405.1L385 406.9L385.5 408.3L386 410.3L386.5 410.2L387 406.5L387.5 407.9L388 411.2L388.5 406.7L389 402.8L389.5 405.8L390 410.5L390.5 410.6L391 401.3L391.5 381.4L392 380.5L392.5 380.2L393 378L393.5 375.8L394 375.1L394.5 375.3L395 389.4L395.5 402.6L396 402.9L396.5 397L397 388.6L397.5 374.7L398 357.9L398.5 355.4L399 358.6L399.5 373.7L400 383.8L400.5 388.1L401 388L401.5 386.1L402 384.7L402.5 387.1L403 390.8L403.5 391.3L404 388L404.5 388.9L405 394.6L405.5 394.6L406 390.4L406.5 388L407 385.9L407.5 373.9L408 347.1L408.5 346.4L409 355.1L409.5 380.7L410 385L410.5 383.7L411 378.9L411.5 366.1L412 353.8L412.5 353.5L413 358.3L413.5 361.7L414 365.1L414.5 367.3L415 372.3L415.5 377.8L416 383.9L416.5 387L417 380.4L417.5 366.6L418 366.7L418.5 372.1L419 366.6L419.5 359.4L420 352.5L420.5 337.6L421 325.9L421.5 334.4L422 330.4L422.5 324.4L423 310.9L423.5 247.8L424 193.8L424.5 184.6L425 245.1L425.5 297.1L426 322.3L426.5 331.6L427 341.2L427.5 349.6L428 356.3L428.5 361.5L429 364.8L429.5 370.1L430 379.2L430.5 387.5L431 389L431.5 369.5L432 353.7L432.5 384.8L433 404.2L433.5 329.2L434 324.2L434.5 320L435 314.7L435.5 307.8L436 300.2L436.5 352.5L437 353.1L437.5 327.6L438 324.4L438.5 325.9L439 316.4L439.5 281.9L440 241L440.5 171.8L441 192.7L441.5 258.6L442 312.4L442.5 268.9L443 260.9L443.5 268.6L444 273.2L444.5 310.7L445 350.2L445.5 359.4L446 365.7L446.5 371.2L447 377.6L447.5 382.4L448 385.7L448.5 389.4L449 396.7L449.5 401.1L450 398.4L450.5 401.8L451 406.4L451.5 402.3L452 401.9L452.5 405.1L453 405.6L453.5 403.1L454 396.9L454.5 393.2L455 397.7L455.5 403.1L456 403.9L456.5 403L457 404.1L457.5 406L458 408.9L458.5 412L459 413L459.5 413.9L460 414.3L460.5 414.6L461 416.6L461.5 418.9L462 414.9L462.5 404.7L463 403.3L463.5 403.1L464 406.2L464.5 418.1L465 422.3L465.5 423.1L466 422.1L466.5 420.8L467 420.1L467.5 420.7L468 422.1L468.5 423.8L469 424.5L469.5 423.6L470 422L470.5 420.6L471 420.1L471.5 420.5L472 418.3L472.5 415.2L473 416.3L473.5 418.7L474 419.8L474.5 421.2L475 422.8L475.5 422.6L476 416.3L476.5 406.9L477 407.7L477.5 413.5L478 423.9L478.5 424.4L479 422.7L479.5 421.8L480 421.5L480.5 421.4L481 423.2L481.5 426L482 427L482.5 426.5L483 426.8L483.5 427.9L484 427.2L484.5 425.7L485 426.2L485.5 427.3L486 428L486.5 427.6L487 426.3L487.5 426L488 425.1L488.5 421.6L489 420.2L489.5 422.4L490 424.2L490.5 425.7L491 427.8L491.5 430.1L492 431.2L492.5 431.1L493 429.8L493.5 427.9L494 426.9L494.5 427.4L495 429.7L495.5 433L496 434L496.5 432.6L497 431.5L497.5 431.5L498 430.7L498.5 430.1L499 430.2L499.5 430.5L500 430.1L500.5 426.6L501 421.8L501.5 420.1L502 420.9L502.5 421L503 419.4L503.5 419L504 419.7L504.5 419.7L505 421.8L505.5 423.1L506 422.5L506.5 422.8L507 422.3L507.5 422.4L508 423.1L508.5 422L509 421.1L509.5 421.5L510 421.3L510.5 419.7L511 418.6L511.5 416.7L512 414.8L512.5 414.4L513 416L513.5 417.6L514 417L514.5 414.1L515 408.6L515.5 402.6L516 400.9L516.5 402.5L517 403.1L517.5 401.9L518 402.8L518.5 405.8L519 408.9L519.5 402.1L520 392L520.5 392.5L521 392.2L521.5 407.4L522 412.3L522.5 402.5L523 395.8L523.5 396.2L524 395.8L524.5 395.5L525 397.6L525.5 409.1L526 413.2L526.5 409.4L527 407.2L527.5 410.4L528 413.7L528.5 415.4L529 417.5L529.5 419.5L530 419.4L530.5 417.5L531 415.7L531.5 414.9L532 415.1L532.5 417.7L533 421.9L533.5 424.2L534 424.3L534.5 423.8L535 423.7L535.5 423.9L536 424.3L536.5 424L537 422.5L537.5 419.5L538 416.3L538.5 415.5L539 416.7L539.5 417.1L540 417.5L540.5 417.7L541 414.1L541.5 407.5L542 406.5L542.5 413.4L543 418.9L543.5 420.7L544 422L544.5 422.2L545 422L545.5 422.5L546 422.6L546.5 419.3L547 410.6L547.5 406.8L548 408.3L548.5 413.7L549 416.1L549.5 415.9L550 418L550.5 419.9L551 420.2L551.5 420.3L552 420.4L552.5 419.5L553 420.2L553.5 423.1L554 422.6L554.5 419.8L555 419.6L555.5 417.1L556 406.7L556.5 407.8L557 420.3L557.5 422.4L558 420.8L558.5 422.6L559 423.4L559.5 422.1L560 419L560.5 416.4L561 416.9L561.5 416.4L562 410.4L562.5 398.9L563 394L563.5 403.2L564 411L564.5 411.1L565 409.9L565.5 410L566 408.8L566.5 403L567 398.1L567.5 400L568 402.4L568.5 401.6L569 404.5L569.5 414.3L570 418.7L570.5 416.6L571 412.9L571.5 408L572 403.9L572.5 404.8L573 407.6L573.5 409.2L574 411.5L574.5 414.1L575 412.7L575.5 409.3L576 407.3L576.5 406.5L577 403.9L577.5 398.5L578 396.7L578.5 400L579 403.6L579.5 406L580 409.1L580.5 409.2L581 403.9L581.5 403.3L582 408L582.5 410L583 408.1L583.5 401.8L584 399.6L584.5 407.3L585 415.3L585.5 415.5L586 414.2L586.5 413.9L587 412.7L587.5 410.5L588 404.7L588.5 399.4L589 403.1L589.5 405.6L590 404.2L590.5 403L591 401.1L591.5 400.8L592 402.7L592.5 402.5L593 392.1L593.5 377L594 369.4L594.5 378.4L595 381.2L595.5 366.4L596 358.8L596.5 369.4L597 369.8L597.5 363.7L598 368.1L598.5 367L599 353.4L599.5 342.8L600 351.4L600.5 370L601 383.3L601.5 385.9L602 384.5L602.5 387.1L603 382.1L603.5 368.7L604 369.3L604.5 370.1L605 365L605.5 372.6L606 377.8L606.5 377.6L607 380.1L607.5 383.9L608 376.2L608.5 375.4L609 387.1L609.5 394.2L610 398.2L610.5 397.7L611 395.1L611.5 393L612 398.1L612.5 401.6L613 396.6L613.5 396.9L614 402.3L614.5 403.1L615 401.2L615.5 399.4L616 401.7L616.5 402.2L617 391.4L617.5 387.7L618 395.7L618.5 398.7L619 395.4L619.5 395.1L620 399.9L620.5 402.1L621 407.4L621.5 409.6L622 398.5L622.5 389.4L623 392.1L623.5 411.3L624 420.4L624.5 421.9L625 416.1L625.5 409.4L626 413.8L626.5 417.3L627 416.8L627.5 409.8L628 399.7L628.5 400.3L629 411.2L629.5 418.1L630 417.7L630.5 417.2L631 414.9L631.5 412L632 410.9L632.5 407.9L633 407L633.5 410.4L634 413.6L634.5 415L635 414.2L635.5 409.4L636 401.1L636.5 391.7L637 385.8L637.5 382.5L638 379.3L638.5 392.3L639 403.6L639.5 387.9L640 372L640.5 371.3L641 371.8L641.5 371.8L642 375.7L642.5 388.2L643 392.9L643.5 394.7L644 396.9L644.5 398.2L645 397.7L645.5 398.5L646 402.5L646.5 405.6L647 407.8L647.5 407.7L648 404L648.5 405L649 409.4L649.5 412.8L650 414.1L650.5 413.6L651 412.6L651.5 410.1L652 406.5L652.5 408.8L653 412.1L653.5 411.5L654 413.8L654.5 418.8L655 421.3L655.5 421.7L656 421.3L656.5 419.4L657 416.1L657.5 412.2L658 410.2L658.5 411.2L659 413.1L659.5 414.4L660 415.3L660.5 416.8L661 417.6L661.5 419L662 422.4L662.5 422.6L663 418.2L663.5 414.3L664 413.7L664.5 416.5L665 420L665.5 421.6L666 421.6L666.5 421.3L667 421.8L667.5 421.9L668 420.5L668.5 417.3L669 413.1L669.5 412.6L670 418L670.5 422.3L671 423.2L671.5 424.2L672 424L672.5 422.7L673 422.9L673.5 423.7L674 425L674.5 425.7L675 423.7L675.5 418.3L676 414.6L676.5 414.3L677 415.3L677.5 421.6L678 428.7L678.5 429.8L679 429.8L679.5 427.6L680 423.1L680.5 419.7L681 421.8L681.5 425.8L682 427.7L682.5 428.3L683 428.2L683.5 427.9L684 426.9L684.5 425.4L685 424.5L685.5 424.8L686 426.4L686.5 428.1L687 427.9L687.5 426.4L688 426.4L688.5 428.2L689 429.4L689.5 428.6L690 428.6L690.5 430.1L691 431.4L691.5 431.6L692 430.6L692.5 428.5L693 427.4L693.5 427.4L694 426.9L694.5 426.2L695 426.8L695.5 428.4L696 429.3L696.5 428.9L697 429.6L697.5 431.9L698 433L698.5 432.6L699 431.5L699.5 430.7L700 431.6L700.5 433.7L701 435.6L701.5 435.5L702 433L702.5 430.7L703 428.9L703.5 428.4L704 431.6L704.5 434.6L705 434.4L705.5 432.8L706 431.7L706.5 431.7L707 433.3L707.5 435.4L708 436.3L708.5 434.8L709 431.4L709.5 430.1L710 431.8L710.5 433.4L711 433.9L711.5 434L712 432.7L712.5 430.2L713 428.9L713.5 429.6L714 431L714.5 430.6L715 429.2L715.5 428.7L716 427.4L716.5 427.1L717 429.4L717.5 432.1L718 434L718.5 434.9L719 434.3L719.5 432.8L720 430.9L720.5 429.6L721 428.8L721.5 427L722 426.8L722.5 429.7L723 432.3L723.5 432.4L724 431.6L724.5 430.8L725 427.8L725.5 424.6L726 424.4L726.5 424.9L727 427.2L727.5 434L728 437.8L728.5 433.6L729 429L729.5 429.8L730 432.7L730.5 432.9L731 428.2L731.5 427.5L732 427.4L732.5 429.2L733 434L733.5 433.4L734 430.6L734.5 429.5L735 430.8L735.5 433.8L736 437.4L736.5 438.7L737 435.9L737.5 431.4L738 428.6L738.5 426.4L739 422.9L739.5 422.1L740 425.2L740.5 428.8L741 427.4L741.5 427.6L742 429.6L742.5 429.6L743 424.5L743.5 418.1L744 416.9L744.5 414.3L745 414.1L745.5 418.3L746 421L746.5 423.6L747 422.4L747.5 419.1L748 418.8L748.5 418.9L749 417.8L749.5 411.3L750 403.8L750.5 402.5L751 404.4L751.5 412.3L752 411.3L752.5 409.4L753 416.4L753.5 420.5L754 417.8L754.5 417.1L755 419.4L755.5 420.8L756 421.9L756.5 421.4L757 419.2L757.5 418.5L758 419.1L758.5 416.4L759 408.6L759.5 394.9L760 394L760.5 405.8L761 405.9L761.5 400L762 397.6L762.5 394.8L763 391.8L763.5 391.9L764 393.9L764.5 396.4L765 397.6L765.5 398.5L766 402.8L766.5 408.6L767 413.2L767.5 416.5L768 419.9L768.5 420.7L769 420.7L769.5 419.5L770 416.9L770.5 415.7L771 415.6L771.5 411.9L772 408.2L772.5 410.9L773 413.9L773.5 413.6L774 410.8L774.5 408.7L775 413.2L775.5 418.7L776 412L776.5 404.8L777 406.4L777.5 414.5L778 426.2L778.5 426L779 425.2L779.5 424.3L780 421.7L780.5 419.7L781 419.9L781.5 421.6L782 422.1L782.5 421.8L783 421.3L783.5 420.1L784 418.4L784.5 417.6L785 419.8L785.5 423.9L786 426L786.5 424.9L787 422.4L787.5 421.4L788 420.1L788.5 419.8L789 422.1L789.5 421.6L790 419L790.5 418.1L791 418.2L791.5 419.8L792 413.2L792.5 400.8L793 399L793.5 409.2L794 411.5L794.5 411.7L795 411.1L795.5 409.5L796 409.4L796.5 410.8L797 410.7L797.5 410.1L798 408.2L798.5 399.3L799 389.9L799.5 388.2L800 386.3L800.1 440.4Z" fill="#f8eb72"/>
<path d="M61.5 440.4L61.5 437.5L62 437.3L62.5 436.6L63 435.2L63.5 434.3L64 434.6L64.5 435.5L65 436.6L65.5 437.3L66 437.2L66.5 436.9L67 436.9L67.5 436.9L68 436.7L68.5 436.4L69 436.5L69.5 436.9L70 436.9L70.5 436.3L71 435.5L71.5 435.2L72 436.4L72.5 437.8L73 437.6L73.5 436.2L74 435.3L74.5 435.2L75 435.6L75.5 435.9L76 436.2L76.5 436.6L77 436.6L77.5 436.1L78 435.4L78.5 434.3L79 433.2L79.5 433L80 433.9L80.5 434.5L81 434.2L81.5 433.8L82 433.3L82.5 432.5L83 432L83.5 432.8L84 435.2L84.5 437.4L85 438.2L85.5 438L86 437.9L86.5 438.1L87 437.9L87.5 437.4L88 437.1L88.5 436.5L89 436L89.5 435.9L90 436.2L90.5 436.3L91 435.5L91.5 433.5L92 431L92.5 429.9L93 431.2L93.5 433L94 433L94.5 432.1L95 431.8L95.5 432.3L96 432.7L96.5 432.7L97 432.4L97.5 432.7L98 433L98.5 432.2L99 430.7L99.5 428.5L100 424L100.5 418.1L101 416.3L101.5 416.6L102 421L102.5 424.4L103 425.1L103.5 424.4L104 422.7L104.5 422.1L105 421.2L105.5 419.8L106 419L106.5 421.3L107 425.4L107.5 428.3L108 429.7L108.5 430.5L109 431.7L109.5 432.6L110 432.6L110.5 432.4L111 432.6L111.5 433.5L112 433.8L112.5 432.3L113 431.9L113.5 434.7L114 436.1L114.5 433.7L115 432.8L115.5 433.7L116 435L116.5 435.9L117 436.6L117.5 436.8L118 436.5L118.5 436.3L119 436.2L119.5 434.9L120 433.3L120.5 433.7L121 435.3L121.5 436.5L122 437.1L122.5 437.3L123 437.4L123.5 437.5L124 437.7L124.5 437.3L125 435.6L125.5 434L126 433.5L126.5 433.1L127 435.4L127.5 436.9L128 436.9L128.5 436.4L129 436L129.5 435.1L130 434.3L130.5 435.8L131 436.9L131.5 435.8L132 435.2L132.5 436L133 435.9L133.5 434.8L134 433.7L134.5 433.2L135 433.6L135.5 434.7L136 435.4L136.5 435.3L137 434.8L137.5 434.8L138 435.9L138.5 437.1L139 437.1L139.5 436.8L140 436.9L140.5 437L141 436.9L141.5 436.9L142 437L142.5 436.6L143 436.5L143.5 436.9L144 436.9L144.5 436.2L145 434.7L145.5 433.1L146 432.9L146.5 434.6L147 436.4L147.5 437.1L148 436.9L148.5 436.9L149 437.1L149.5 436.1L150 433.2L150.5 432.8L151 432.9L151.5 433.2L152 435.6L152.5 437.2L153 437L153.5 435.1L154 432.7L154.5 432.4L155 434.2L155.5 436.5L156 437.3L156.5 437L157 436.4L157.5 435.8L158 435.4L158.5 435.6L159 435.7L159.5 435.7L160 436L160.5 434.5L161 431.9L161.5 431.6L162 432.5L162.5 433.1L163 433.4L163.5 433.6L164 432L164.5 427.4L165 424.1L165.5 426.6L166 430.7L166.5 432.1L167 432.3L167.5 432.2L168 431.5L168.5 430.1L169 428.6L169.5 427.9L170 428.5L170.5 430.1L171 431.3L171.5 431.8L172 431.8L172.5 431.4L173 430.9L173.5 428.2L174 422.1L174.5 422.2L175 424.7L175.5 430.9L176 432.8L176.5 433L177 433.2L177.5 433L178 432.7L178.5 432.2L179 431.3L179.5 428.7L180 424.5L180.5 421.9L181 422.4L181.5 425.1L182 426.3L182.5 425.5L183 423.9L183.5 424.7L184 427.7L184.5 429.4L185 429.1L185.5 428.5L186 428.3L186.5 427.9L187 427.6L187.5 427.7L188 427.6L188.5 426.7L189 425.8L189.5 425.2L190 424.4L190.5 422.9L191 421.4L191.5 422.1L192 423.5L192.5 424.6L193 425.4L193.5 425.4L194 424.9L194.5 424.6L195 423.8L195.5 422L196 419L196.5 414.8L197 411.1L197.5 408.8L198 407L198.5 405.5L199 403.7L199.5 403.4L200 405L200.5 407.7L201 411.4L201.5 416.7L202 421L202.5 422.6L203 423.8L203.5 425.5L204 426.3L204.5 426.4L205 427.2L205.5 428.7L206 430.4L206.5 431.7L207 432.8L207.5 432.5L208 432.3L208.5 433L209 433.8L209.5 434L210 433L210.5 431.1L211 430L211.5 430.8L212 432.2L212.5 433.1L213 433.9L213.5 434.2L214 434.1L214.5 433.6L215 432.8L215.5 432.7L216 433.1L216.5 433.4L217 433.8L217.5 434.2L218 434.4L218.5 435L219 435.8L219.5 436L220 435.6L220.5 434.9L221 434.1L221.5 434.7L222 435.7L222.5 435.4L223 435.4L223.5 436.2L224 436.5L224.5 436.7L225 437.2L225.5 437.4L226 437.3L226.5 436.2L227 435.3L227.5 433.9L228 431.9L228.5 430.9L229 430.9L229.5 429.8L230 427.8L230.5 427L231 426.6L231.5 425.1L232 424.9L232.5 425.4L233 427.5L233.5 430L234 432L234.5 433.2L235 432.6L235.5 429L236 429.4L236.5 430.7L237 433L237.5 434.7L238 435.5L238.5 435.7L239 435.8L239.5 436L240 436.3L240.5 436.5L241 437L241.5 437.6L242 437.6L242.5 437.2L243 436.9L243.5 436.7L244 436.7L244.5 436.7L245 436.3L245.5 435.4L246 434.6L246.5 434.3L247 435.3L247.5 436.9L248 437.7L248.5 437.3L249 436.1L249.5 433.5L250 433.5L250.5 433.8L251 434.5L251.5 437.1L252 437L252.5 435.6L253 434.1L253.5 433.5L254 434L254.5 435L255 436L255.5 436.5L256 436.3L256.5 435.3L257 433.6L257.5 432.5L258 433.8L258.5 436.1L259 436.8L259.5 436.4L260 436.9L260.5 437.9L261 437.7L261.5 436.3L262 435.5L262.5 436.2L263 436.5L263.5 436.4L264 436.7L264.5 436.8L265 436.9L265.5 437.2L266 437.3L266.5 437.4L267 436.9L267.5 436.1L268 436L268.5 436.4L269 436.3L269.5 435.5L270 434.9L270.5 434.5L271 434.4L271.5 434.8L272 435.3L272.5 435.6L273 435.5L273.5 435.4L274 435.1L274.5 434.4L275 433.1L275.5 432.5L276 432.8L276.5 433.3L277 433.7L277.5 433.9L278 435.4L278.5 437.4L279 437.5L279.5 436.5L280 435.7L280.5 436.1L281 437.1L281.5 438.1L282 438.8L282.5 438.7L283 437.9L283.5 436.8L284 436.1L284.5 436.9L285 437.7L285.5 437.3L286 436.5L286.5 436.6L287 436.9L287.5 437L288 437L288.5 437.1L289 436.7L289.5 435.6L290 435.3L290.5 436L291 436.6L291.5 436.5L292 436L292.5 436L293 436.6L293.5 437.2L294 437L294.5 436.5L295 436.4L295.5 436.5L296 436.3L296.5 436.1L297 436.1L297.5 436.3L298 436.6L298.5 437L299 437.5L299.5 437.4L300 437L300.5 437L301 437.2L301.5 437.6L302 437.9L302.5 438L303 437.5L303.5 436L304 434.8L304.5 435.3L305 436.8L305.5 437.5L306 437.7L306.5 438.1L307 438.1L307.5 437.3L308 436.4L308.5 435.8L309 435L309.5 434.7L310 436.1L310.5 437.5L311 436.7L311.5 434.1L312 433.7L312.5 433.7L313 433.7L313.5 433.7L314 435.6L314.5 437.4L315 438.1L315.5 437.8L316 437L316.5 436.3L317 435.7L317.5 434.8L318 434.5L318.5 435.6L319 436.7L319.5 436.4L320 434.8L320.5 433.6L321 434.6L321.5 436.7L322 437.7L322.5 437.6L323 438L323.5 438.8L324 439.2L324.5 438.5L325 437L325.5 436L326 437L326.5 438.5L327 437.3L327.5 434.1L328 434.1L328.5 434.5L329 434.9L329.5 435.1L330 437.2L330.5 437.8L331 437.3L331.5 437.4L332 437.6L332.5 436.3L333 433.6L333.5 431.4L334 430.5L334.5 430.9L335 431.9L335.5 432.9L336 433.8L336.5 435.1L337 435.9L337.5 435.9L338 435.7L338.5 435.9L339 435.9L339.5 435.3L340 434.8L340.5 435.1L341 435.7L341.5 435.4L342 433.6L342.5 431.2L343 431.1L343.5 432.9L344 434.1L344.5 434.4L345 434.6L345.5 435L346 435.5L346.5 435.6L347 435.1L347.5 434.2L348 433.9L348.5 434.7L349 435.7L349.5 436.1L350 435.8L350.5 434.7L351 432L351.5 429.3L352 430L352.5 430.7L353 430.7L353.5 436.1L354 435.6L354.5 431.1L355 430.6L355.5 430.6L356 430.2L356.5 432.4L357 434.3L357.5 435.1L358 434.7L358.5 432.5L359 429.3L359.5 427.6L360 429.2L360.5 431.1L361 431L361.5 429.5L362 427L362.5 422L363 419.6L363.5 421.2L364 426.4L364.5 431.4L365 432.7L365.5 433.6L366 434.5L366.5 435.1L367 435.4L367.5 434.6L368 434.1L368.5 434.7L369 435.4L369.5 435.3L370 435.1L370.5 435.2L371 435.3L371.5 435.1L372 434.7L372.5 434L373 433.6L373.5 433.5L374 432.7L374.5 430.9L375 429.2L375.5 429.1L376 429.4L376.5 430L377 431.4L377.5 434.1L378 436L378.5 434.8L379 431.6L379.5 431.3L380 434.4L380.5 436.5L381 436.3L381.5 434.3L382 432.2L382.5 432L383 433.8L383.5 435.7L384 436.4L384.5 436.4L385 436.2L385.5 435.9L386 435.4L386.5 434.9L387 434.5L387.5 434.7L388 435.4L388.5 435.5L389 435.1L389.5 434.7L390 434.9L390.5 434.4L391 433.4L391.5 433.4L392 434.3L392.5 434.6L393 433.4L393.5 432.3L394 432.8L394.5 433.6L395 433.4L395.5 432L396 431.4L396.5 433L397 434.9L397.5 435.4L398 435L398.5 434.3L399 434L399.5 434.3L400 434.7L400.5 434.8L401 434.5L401.5 433.9L402 433.8L402.5 434L403 433.2L403.5 431.9L404 431.6L404.5 432.7L405 433.5L405.5 433L406 432.4L406.5 432.4L407 432.1L407.5 431.3L408 431.7L408.5 432.3L409 431.5L409.5 430.6L410 431.5L410.5 432.4L411 432.3L411.5 431.3L412 430.5L412.5 430.9L413 431.8L413.5 430.9L414 428.2L414.5 426.9L415 426.1L415.5 423.3L416 418.3L416.5 415.6L417 417.9L417.5 425L418 429.6L418.5 429.1L419 426.7L419.5 424.9L420 423.8L420.5 423.2L421 424.2L421.5 424.8L422 420.3L422.5 412.8L423 411L423.5 411.7L424 412.3L424.5 413.1L425 413.6L425.5 413.3L426 412.9L426.5 420.8L427 429.8L427.5 427.8L428 418.2L428.5 415.9L429 415.7L429.5 415.5L430 415.8L430.5 415.3L431 414.4L431.5 427.2L432 428.1L432.5 417.9L433 410.5L433.5 410L434 418.5L434.5 427.2L435 425.9L435.5 421.3L436 421.1L436.5 423.4L437 423.8L437.5 422.1L438 418.2L438.5 413L439 410.9L439.5 415.1L440 419.6L440.5 420.8L441 418.4L441.5 415.1L442 415.2L442.5 419.3L443 424.2L443.5 427.3L444 428.5L444.5 428.1L445 427.6L445.5 428.5L446 429.9L446.5 430.5L447 430.6L447.5 430.1L448 428.3L448.5 426.1L449 426L449.5 427.7L450 429.4L450.5 430.5L451 431.4L451.5 432L452 431.6L452.5 428.9L453 425.3L453.5 424.2L454 425L454.5 426.9L455 428.7L455.5 430.9L456 433.3L456.5 434.8L457 435L457.5 434.7L458 435.2L458.5 436.1L459 436.7L459.5 436.8L460 436.8L460.5 436.9L461 436.8L461.5 436.3L462 435.9L462.5 436L463 436.4L463.5 436.8L464 436.7L464.5 436L465 435.8L465.5 436.4L466 436.7L466.5 436.6L467 436.5L467.5 435.9L468 434.8L468.5 435.3L469 436.6L469.5 435.6L470 432.5L470.5 431.3L471 430.6L471.5 431.9L472 433.4L472.5 434.1L473 434.2L473.5 434.6L474 435.3L474.5 435.7L475 435.3L475.5 434.5L476 433.8L476.5 432.8L477 432L477.5 432.9L478 435L478.5 436.4L479 436.6L479.5 436.5L480 436.6L480.5 436.9L481 436.6L481.5 435.7L482 435L482.5 434.8L483 435.2L483.5 436.7L484 437.9L484.5 437.3L485 436.8L485.5 437.4L486 437.5L486.5 437.3L487 437.3L487.5 437.1L488 436.7L488.5 436.3L489 435.7L489.5 435.2L490 435.5L490.5 436.7L491 437.5L491.5 436.7L492 434.6L492.5 433.3L493 433.9L493.5 434.9L494 434.8L494.5 434.1L495 433.9L495.5 434.4L496 435.1L496.5 435.2L497 434.9L497.5 434.1L498 433.7L498.5 434.9L499 436L499.5 435.6L500 435.1L500.5 435.6L501 436.3L501.5 437L502 437.6L502.5 437.7L503 437.8L503.5 437.7L504 436.9L504.5 435.7L505 435L505.5 435.6L506 436.4L506.5 436.3L507 435.8L507.5 435.9L508 436.6L508.5 437.1L509 436.9L509.5 435.3L510 433.5L510.5 433.8L511 435.3L511.5 436L512 436.3L512.5 436.7L513 437.1L513.5 437.5L514 437.6L514.5 436.8L515 435.7L515.5 435.5L516 436.2L516.5 436.2L517 434.6L517.5 431.4L518 430.3L518.5 429.6L519 431.8L519.5 433.8L520 434.5L520.5 434.8L521 434.8L521.5 434.3L522 432.9L522.5 431.1L523 429.9L523.5 430.9L524 433.2L524.5 434.9L525 435.8L525.5 436.3L526 435.9L526.5 435.1L527 435L527.5 435.9L528 437.1L528.5 437.5L529 437.1L529.5 436.5L530 436.3L530.5 436.7L531 437.3L531.5 437.4L532 437L532.5 437.7L533 438.2L533.5 436.1L534 433L534.5 432.3L535 433.7L535.5 435.2L536 436.4L536.5 436.8L537 436.7L537.5 436.9L538 436.9L538.5 436.6L539 436.8L539.5 437.4L540 437.4L540.5 436.6L541 434.5L541.5 432.2L542 432.5L542.5 432.8L543 432.8L543.5 432.5L544 433.7L544.5 435.3L545 436L545.5 436.4L546 436.2L546.5 435.6L547 435L547.5 434.7L548 435.1L548.5 435.7L549 435.9L549.5 436.1L550 436.8L550.5 437.9L551 438.3L551.5 437.6L552 436.8L552.5 437.1L553 438L553.5 438.1L554 437.8L554.5 438.6L555 438.9L555.5 437.8L556 437L556.5 437.1L557 437.8L557.5 438.1L558 437.8L558.5 437.4L559 436.9L559.5 436L560 435.4L560.5 435.4L561 435.8L561.5 436.2L562 436.4L562.5 436.1L563 435.1L563.5 434.5L564 435.2L564.5 436.2L565 436.7L565.5 436.8L566 436.7L566.5 436.8L567 437L567.5 436.8L568 435.9L568.5 435.1L569 435.5L569.5 436L570 436.2L570.5 435.7L571 434L571.5 432.6L572 433.7L572.5 435.6L573 436.4L573.5 436.7L574 436.7L574.5 436.7L575 436.9L575.5 437.5L576 438.3L576.5 438.6L577 438.2L577.5 437.8L578 438.1L578.5 438.2L579 437.1L579.5 434.8L580 432.1L580.5 432L581 431.6L581.5 431.3L582 431.7L582.5 431.6L583 431.1L583.5 430.8L584 432.3L584.5 434.8L585 435.7L585.5 434.6L586 432.6L586.5 430.9L587 431.1L587.5 431.4L588 431.4L588.5 434.3L589 435.6L589.5 435L590 433L590.5 430L591 427.8L591.5 428.4L592 430.6L592.5 431.5L593 431.1L593.5 430.5L594 429.4L594.5 427.5L595 425.9L595.5 425.1L596 424.6L596.5 423.4L597 420.5L597.5 415.5L598 412.9L598.5 413.1L599 413L599.5 420.7L600 426.1L600.5 427.3L601 426.5L601.5 426.1L602 426.6L602.5 425.9L603 424.3L603.5 424.6L604 427L604.5 426.2L605 418.5L605.5 413.4L606 413.9L606.5 415L607 419.2L607.5 423.3L608 427L608.5 429.8L609 431.1L609.5 431.6L610 432.7L610.5 433.8L611 434.1L611.5 433.3L612 432.5L612.5 432.1L613 432.7L613.5 433.7L614 434.3L614.5 434.7L615 435L615.5 435.4L616 435.7L616.5 434.9L617 432.7L617.5 432.1L618 434.3L618.5 435.9L619 436.3L619.5 436.9L620 437.4L620.5 437.1L621 436.8L621.5 436.6L622 436.3L622.5 435.9L623 435.6L623.5 435.7L624 436L624.5 436.1L625 436.4L625.5 436.8L626 437.2L626.5 437.4L627 437.1L627.5 436.4L628 436L628.5 436.2L629 436.9L629.5 437.2L630 436.9L630.5 436.5L631 436.7L631.5 437L632 436.6L632.5 435.4L633 434L633.5 433.5L634 433.7L634.5 434.4L635 435.1L635.5 435.9L636 436.4L636.5 436.7L637 436.7L637.5 436.8L638 436.8L638.5 435.3L639 432.1L639.5 428.5L640 427.7L640.5 428.8L641 429.5L641.5 429.4L642 429L642.5 429.2L643 429.6L643.5 430.7L644 431.2L644.5 431.5L645 431.6L645.5 431.7L646 431.5L646.5 430.9L647 430.3L647.5 430.6L648 432L648.5 433.7L649 434.3L649.5 434.3L650 435.2L650.5 435.1L651 432.4L651.5 430.4L652 431.8L652.5 434.6L653 435.3L653.5 434.7L654 433.8L654.5 433.2L655 433.5L655.5 434.3L656 434.7L656.5 434.8L657 434.4L657.5 432.7L658 431.4L658.5 432.8L659 434.6L659.5 435L660 435.4L660.5 435.5L661 435L661.5 434.8L662 435L662.5 434.6L663 434.4L663.5 435.5L664 436.2L664.5 435.9L665 436.1L665.5 436.9L666 436.5L666.5 436L667 436.7L667.5 437.6L668 437.8L668.5 437.4L669 436.2L669.5 434.8L670 434.9L670.5 435.8L671 436.5L671.5 435.9L672 434.1L672.5 433.7L673 435.1L673.5 436.2L674 436.5L674.5 436.4L675 435.5L675.5 434L676 433.3L676.5 434.5L677 436.3L677.5 436.3L678 435.3L678.5 435.5L679 436.1L679.5 436L680 436.1L680.5 436.6L681 437L681.5 436.8L682 436.3L682.5 435.9L683 435.8L683.5 435.8L684 434.7L684.5 432.6L685 432.6L685.5 434.9L686 436.4L686.5 436.4L687 436L687.5 436L688 436L688.5 435.7L689 435.5L689.5 435.2L690 434.5L690.5 434.4L691 435.3L691.5 436.4L692 436.6L692.5 435.7L693 434.4L693.5 433.9L694 434L694.5 434.1L695 433.9L695.5 433.7L696 432.7L696.5 431.7L697 432L697.5 433.3L698 434.7L698.5 435.5L699 435.8L699.5 436.1L700 436.4L700.5 437L701 437.5L701.5 437.6L702 437.7L702.5 437L703 435.7L703.5 435.1L704 435.4L704.5 435.4L705 434.4L705.5 433.7L706 434.6L706.5 435.5L707 435.1L707.5 435.4L708 436.3L708.5 437.5L709 437.5L709.5 435.9L710 434.4L710.5 435L711 436L711.5 436L712 435.8L712.5 435.7L713 435.5L713.5 435.3L714 435.6L714.5 436.3L715 436.5L715.5 436L716 435.1L716.5 434L717 432.5L717.5 432.4L718 434L718.5 434.9L719 434.9L719.5 436.2L720 436.5L720.5 436.3L721 436.1L721.5 436.2L722 435.9L722.5 434.2L723 432.3L723.5 432.4L724 434.5L724.5 436.4L725 436.6L725.5 436.7L726 437.6L726.5 438.7L727 438.9L727.5 438.3L728 437.8L728.5 437.7L729 437.5L729.5 437.1L730 436.6L730.5 436.3L731 436.6L731.5 436.7L732 436.5L732.5 436.6L733 437.3L733.5 437.7L734 437.3L734.5 436.4L735 436L735.5 436.1L736 437.4L736.5 438.7L737 435.9L737.5 436.2L738 436.7L738.5 436.6L739 436.1L739.5 435.9L740 435.7L740.5 435L741 434.5L741.5 434.8L742 435.3L742.5 435.6L743 435.7L743.5 435.8L744 435.2L744.5 435.1L745 435.7L745.5 435.6L746 434.9L746.5 434.5L747 434.8L747.5 435.6L748 436.4L748.5 436.9L749 436.9L749.5 436.8L750 436.5L750.5 436.4L751 436.2L751.5 435.9L752 435.9L752.5 436.3L753 436.5L753.5 436.4L754 436.7L754.5 437.3L755 437.4L755.5 436.9L756 435.9L756.5 435.7L757 436.5L757.5 437.4L758 437.7L758.5 436.4L759 433.8L759.5 430.6L760 429.9L760.5 432L761 433.5L761.5 432.8L762 430.6L762.5 428.9L763 429.6L763.5 431.2L764 430.5L764.5 428.6L765 428.8L765.5 431.1L766 433.2L766.5 434.5L767 435.1L767.5 435.3L768 435.3L768.5 434.8L769 434.2L769.5 434.4L770 436.4L770.5 438.1L771 438.1L771.5 436.7L772 434.8L772.5 433.2L773 433.2L773.5 434.1L774 434.7L774.5 435L775 435.7L775.5 436.8L776 437.9L776.5 438L777 436.3L777.5 435L778 435.6L778.5 436.7L779 437.2L779.5 437L780 435.3L780.5 433.2L781 432.7L781.5 433.8L782 435.5L782.5 436.6L783 436.7L783.5 436.6L784 436.6L784.5 436.7L785 436.6L785.5 436.8L786 437L786.5 436.8L787 436L787.5 435.1L788 434.7L788.5 434.4L789 434L789.5 433.3L790 432.8L790.5 433.1L791 434.5L791.5 436.1L792 436.7L792.5 436L793 434.9L793.5 434.5L794 434.9L794.5 434.5L795 432L795.5 428.6L796 428.8L796.5 428.3L797 429.2L797.5 433.8L798 435.6L798.5 434.6L799 434.3L799.5 435.2L800 435.2L800.1 440.4Z" fill="#fcf79e"/>
<path d="M61.5 127.5H800.1" stroke="#000" stroke-opacity="0.028" stroke-width="1"/>
<path d="M61.5 206.5H800.1" stroke="#000" stroke-opacity="0.028" stroke-width="1"/>
<path d="M61.5 284.5H800.1" stroke="#000" stroke-opacity="0.028" stroke-width="1"/>
<path d="M61.5 362.5H800.1" stroke="#000" stroke-opacity="0.028" stroke-width="1"/>
<text x="270" y="272" class="big" textLength="317" lengthAdjust="spacingAndGlyphs">looknode.com</text>
</g>
<path d="M57 388L57.8 400.4L58.5 391.3L59.2 393.6L60 394.7L60.8 396.4L61.5 397.7L62.2 398.4L63 398.1L63.8 397.8L64.5 397.9L65.2 398.6L66 398.3L66.8 396.8L67.5 396.3L68.2 393.5L69 388.6L69.8 382.9L70.5 376.8L71.2 369.5L72 361.7L72.8 353.1L73.5 360.2L74.2 364.5L75 363.4L75.8 362.4L76.5 360.6L77.2 359.4L78 359.7L78.8 358.4L79.5 356.2L80.2 355.2L81 355.3L81.8 355.2L82.5 353.4L83.2 349.3L84 344.4L84.8 339.4L85.5 335L86.2 330L87 328.6L87.8 329.1L88.5 329L89.2 328.4L90 328.9L90.8 331.3L91.5 332.9L92.2 332.8L93 333.3L93.8 334.9L94.5 331.7L95.2 324.6L96 316.5L96.8 311.7L97.5 310L98.2 307.6L99 299.9L99.8 289.4L100.5 279.3L101.2 269.6L102 261.3L102.8 254.8L103.5 254.4L104.2 260L105 259L105.8 258.7L106.5 259.4L107.2 261.8L108 264.1L108.8 265.8L109.5 267.2L110.2 267.9L111 268.8L111.8 269L112.5 269L113.2 270.6L114 273L114.8 276.4L115.5 279.4L116.2 281.9L117 284.6L117.8 287.4L118.5 290L119.2 292.3L120 293.2L120.8 293.8L121.5 295.5L122.2 297.8L123 298.7L123.8 299.5L124.5 301.8L125.2 304.3L126 304.5L126.8 301.6L127.5 298.5L128.2 296L129 293.3L129.8 291.1L130.5 289.2L131.2 286.9L132 284.7L132.8 283.2L133.5 281L134.2 278.5L135 280L135.8 282.2L136.5 282.7L137.2 283.3L138 284.3L138.8 285.9L139.5 288.6L140.2 290.4L141 290.6L141.8 290.9L142.5 290.7L143.2 289.7L144 289.3L144.8 289L145.5 288.4L146.2 287.8L147 287.3L147.8 287.4L148.5 288.8L149.2 289.4L150 288.6L150.8 288.7L151.5 289.1L152.2 287.4L153 285.5L153.8 285.6L154.5 285.5L155.2 283.5L156 281.3L156.8 279.8L157.5 279.6L158.2 280L159 279.3L159.8 277.6L160.5 276.1L161.2 275.2L162 274.9L162.8 273.7L163.5 270.5L164.2 267.9L165 269.1L165.8 275.4L166.5 273.9L167.2 273.2L168 272.4L168.8 271.5L169.5 271.3L170.2 271L171 269.7L171.8 268.4L172.5 267.5L173.2 268.3L174 269.5L174.8 270.1L175.5 270.8L176.2 269.9L177 269.5L177.8 270.5L178.5 270.9L179.2 269.8L180 267.5L180.8 265.4L181.5 264.5L182.2 263.7L183 265L183.8 266.5L184.5 266.1L185.2 264.9L186 262.8L186.8 259.8L187.5 257.5L188.2 255.2L189 252.8L189.8 250.4L190.5 247.3L191.2 245.2L192 244.1L192.8 242.6L193.5 240.4L194.2 237.4L195 232.9L195.8 228.2L196.5 224.6L197.2 221.9L198 204.1L198.8 200.2L199.5 206.4L200.2 209.7L201 209.1L201.8 209.8L202.5 210.2L203.2 209.2L204 208.3L204.8 208.7L205.5 209.9L206.2 211.5L207 213.1L207.8 213.4L208.5 212.8L209.2 213.7L210 216L210.8 218.1L211.5 219.2L212.2 219.1L213 218.3L213.8 217.6L214.5 216.4L215.2 214.5L216 213.4L216.8 212.8L217.5 211.8L218.2 210.8L219 210.3L219.8 210.1L220.5 209.4L221.2 208.8L222 210.3L222.8 212.3L223.5 212.8L224.2 211.5L225 206.8L225.8 203.3L226.5 199.8L227.2 195.9L228 192L228.8 185.9L229.5 178.9L230.2 171.9L231 164L231.8 156.9L232.5 163.5L233.2 171.5L234 171.3L234.8 168.7L235.5 166.8L236.2 165.2L237 164.6L237.8 165.1L238.5 165.9L239.2 167.1L240 167.4L240.8 166.6L241.5 166.3L242.2 167.1L243 168.3L243.8 170.5L244.5 172.5L245.2 172.5L246 171.6L246.8 172.4L247.5 176.8L248.2 179.8L249 181.4L249.8 183.2L250.5 182.3L251.2 180L252 178.9L252.8 179.7L253.5 180.3L254.2 181.1L255 179.9L255.8 177.6L256.5 174.1L257.2 172.1L258 171.3L258.8 172.1L259.5 174.1L260.2 175.2L261 175L261.8 173.8L262.5 171.8L263.2 170.9L264 171.3L264.8 172L265.5 174L266.2 176L267 175.8L267.8 174.7L268.5 174.7L269.2 175.8L270 177.4L270.8 179.3L271.5 180.8L272.2 183.2L273 185.2L273.8 185.2L274.5 185.1L275.2 186.2L276 187.8L276.8 187.6L277.5 187.6L278.2 186.6L279 183.5L279.8 180.4L280.5 180.1L281.2 181.3L282 182.5L282.8 183.8L283.5 185.1L284.2 185.2L285 184.2L285.8 184.3L286.5 186L287.2 187.6L288 188.7L288.8 191.6L289.5 200.5L290.2 201.7L291 196.8L291.8 194.5L292.5 193.5L293.2 193.9L294 195L294.8 194.8L295.5 193.2L296.2 190.9L297 189.4L297.8 191.3L298.5 193.5L299.2 193.1L300 193.3L300.8 194.6L301.5 195.2L302.2 195.2L303 196.6L303.8 197.6L304.5 196.9L305.2 196.2L306 195.8L306.8 196.1L307.5 195.7L308.2 195.5L309 196.5L309.8 196.8L310.5 195L311.2 194.2L312 194.1L312.8 193L313.5 190.7L314.2 188.7L315 188.8L315.8 191.5L316.5 192.4L317.2 192.4L318 192.7L318.8 192.7L319.5 193.1L320.2 193L321 193.8L321.8 197.1L322.5 198.6L323.2 197.5L324 196.8L324.8 196.7L325.5 195.6L326.2 194.3L327 193.6L327.8 193.4L328.5 193L329.2 191.4L330 188.8L330.8 186.7L331.5 185.5L332.2 184.3L333 184.3L333.8 184.1L334.5 184.6L335.2 185.7L336 185.9L336.8 185.2L337.5 184.4L338.2 183L339 181.4L339.8 181.4L340.5 182.8L341.2 183L342 181L342.8 179.8L343.5 181.7L344.2 182.2L345 180.6L345.8 180.2L346.5 181.1L347.2 182.1L348 182.9L348.8 182.9L349.5 181.4L350.2 179.9L351 179.2L351.8 178.8L352.5 178.8L353.2 179.4L354 179L354.8 178L355.5 178.3L356.2 179.5L357 179.4L357.8 176.9L358.5 174.2L359.2 172.6L360 172.2L360.8 171.6L361.5 170.7L362.2 170.2L363 168.8L363.8 167.4L364.5 166.7L365.2 167.7L366 169.1L366.8 169.8L367.5 170.8L368.2 171.5L369 172.3L369.8 173.2L370.5 173L371.2 172.1L372 171.7L372.8 171.8L373.5 172.1L374.2 171.6L375 170.8L375.8 171.9L376.5 172.8L377.2 172L378 170.9L378.8 170.8L379.5 170.8L380.2 170.3L381 169.1L381.8 167.7L382.5 166.3L383.2 165L384 165.3L384.8 165.6L385.5 165.2L386.2 164.8L387 164L387.8 162.4L388.5 160.9L389.2 159.6L390 159L390.8 159.2L391.5 159.4L392.2 159.9L393 159.8L393.8 159.2L394.5 159.1L395.2 159.1L396 158.8L396.8 158.9L397.5 159.6L398.2 160.4L399 160L399.8 159.2L400.5 158.4L401.2 156.6L402 154.8L402.8 155.3L403.5 155.6L404.2 156L405 156.7L405.8 155.9L406.5 155L407.2 154.1L408 150.6L408.8 147.5L409.5 145.6L410.2 144.3L411 141.7L411.8 137.2L412.5 135.1L413.2 135.6L414 136.7L414.8 138L415.5 139.3L416.2 140.8L417 141.7L417.8 141.8L418.5 140.5L419.2 138.4L420 137.1L420.8 134.5L421.5 131.3L422.2 129.1L423 127.8L423.8 127.6L424.5 127.2L425.2 129.2L426 130.6L426.8 130.6L427.5 129.7L428.2 130.3L429 128.8L429.8 126.8L430.5 124.9L431.2 122.6L432 120L432.8 118L433.5 115.3L434.2 112.6L435 110.2L435.8 107.2L436.5 104.5L437.2 102.6L438 100.6L438.8 98.1L439.5 93.8L440.2 89.3L441 88L441.8 89.9L442.5 91.4L443.2 93.2L444 94.5L444.8 95.7L445.5 97.9L446.2 101L447 104.7L447.8 108.4L448.5 109.4L449.2 106.3L450 104.6L450.8 103.3L451.5 105.4L452.2 107L453 108.4L453.8 109.3L454.5 109L455.2 109.2L456 110.2L456.8 110.2L457.5 109.8L458.2 108L459 106.6L459.8 107L460.5 108.4L461.2 109.2L462 109.9L462.8 111.1L463.5 112.5L464.2 113.2L465 114L465.8 114.5L466.5 115.2L467.2 115.1L468 113.7L468.8 113L469.5 113.2L470.2 113L471 111.3L471.8 110.4L472.5 111.1L473.2 110.9L474 110.5L474.8 111.8L475.5 113.1L476.2 112.6L477 113L477.8 114.5L478.5 116.2L479.2 116.5L480 115.8L480.8 114.9L481.5 114.6L482.2 115.3L483 115.3L483.8 115.1L484.5 115.2L485.2 114.4L486 114.2L486.8 115L487.5 115.4L488.2 115.7L489 117.4L489.8 121L490.5 125.8L491.2 132L492 133.5L492.8 133.7L493.5 132.2L494.2 129.9L495 129.2L495.8 130L496.5 130.6L497.2 130.4L498 131.1L498.8 131.5L499.5 129.9L500.2 128L501 127L501.8 126.4L502.5 125.7L503.2 124.9L504 124.9L504.8 124.3L505.5 123.7L506.2 123.2L507 122.3L507.8 121.7L508.5 121.6L509.2 120.4L510 118.2L510.8 116.5L511.5 115.5L512.2 113.6L513 111.1L513.8 110.1L514.5 109.6L515.2 108.8L516 108.1L516.8 108.3L517.5 108.1L518.2 106L519 103.1L519.8 101.2L520.5 100.8L521.2 100.7L522 100.2L522.8 100.5L523.5 102.6L524.2 104.5L525 104.4L525.8 103.7L526.5 103.4L527.2 102.8L528 103.2L528.8 104.2L529.5 104.7L530.2 105.2L531 106L531.8 105.8L532.5 106.9L533.2 109L534 109.9L534.8 110.5L535.5 111.5L536.2 111.7L537 110.5L537.8 109.8L538.5 109.6L539.2 110.3L540 112.6L540.8 114L541.5 113L542.2 112L543 113.1L543.8 114.1L544.5 114.1L545.2 114.3L546 113.9L546.8 113.3L547.5 112.1L548.2 110.3L549 108.7L549.8 107.3L550.5 106.1L551.2 106L552 105.5L552.8 105.3L553.5 107.8L554.2 110.5L555 113.3L555.8 115.9L556.5 118.8L557.2 122.1L558 121.7L558.8 119.2L559.5 117L560.2 115.6L561 114.5L561.8 112.9L562.5 111.1L563.2 109.8L564 108.3L564.8 106.6L565.5 105L566.2 104.2L567 104.6L567.8 105.7L568.5 106.6L569.2 107L570 106.8L570.8 106.3L571.5 105.4L572.2 104.9L573 105.7L573.8 107.1L574.5 106.3L575.2 104.6L576 103.4L576.8 102.3L577.5 101L578.2 99.8L579 98.8L579.8 98.2L580.5 99.1L581.2 101.2L582 102.2L582.8 101.8L583.5 101.8L584.2 103.2L585 104.5L585.8 103.6L586.5 102.4L587.2 100.4L588 98.5L588.8 96.7L589.5 95L590.2 94.2L591 93.1L591.8 91.3L592.5 90L593.2 88.9L594 87.3L594.8 85.2L595.5 82.9L596.2 80.9L597 79.2L597.8 77.5L598.5 76.3L599.2 75.5L600 73.7L600.8 72.1L601.5 70.8L602.2 68.6L603 67.2L603.8 66.8L604.5 65.8L605.2 64.8L606 64.3L606.8 63.5L607.5 63.3L608.2 64.4L609 64.6L609.8 63.1L610.5 61.2L611.2 60.8L612 61L612.8 60.5L613.5 61.1L614.2 62.1L615 63L615.8 63.2L616.5 63.4L617.2 65.3L618 68L618.8 71.6L619.5 73L620.2 73.4L621 74.3L621.8 75.5L622.5 76.1L623.2 76.4L624 77.2L624.8 78.1L625.5 77.1L626.2 75.2L627 72.9L627.8 71.2L628.5 70.7L629.2 69.6L630 67L630.8 66.3L631.5 65.7L632.2 65L633 65.2L633.8 66.2L634.5 66.7L635.2 66.5L636 65.5L636.8 64L637.5 63.2L638.2 62.3L639 61.5L639.8 60.9L640.5 59.6L641.2 57.6L642 57.6L642.8 58.8L643.5 59.3L644.2 59.8L645 62.2L645.8 64L646.5 64.3L647.2 65.1L648 65.6L648.8 65.8L649.5 65.4L650.2 65.3L651 67.2L651.8 70.1L652.5 71.8L653.2 72.5L654 71.2L654.8 70.4L655.5 70.2L656.2 70L657 70.7L657.8 71.4L658.5 70.9L659.2 69.7L660 68.5L660.8 68.4L661.5 69.6L662.2 70.5L663 70.8L663.8 71.5L664.5 71.9L665.2 73L666 74.1L666.8 73.8L667.5 72.6L668.2 74.2L669 77.5L669.8 80.7L670.5 82.7L671.2 82.9L672 83.1L672.8 84.8L673.5 85.3L674.2 85.1L675 86.5L675.8 88L676.5 86.7L677.2 85.2L678 84.6L678.8 83.7L679.5 83.2L680.2 82.8L681 83.2L681.8 84.7L682.5 85.9L683.2 86.3L684 87L684.8 87.8L685.5 87.3L686.2 86.8L687 87.2L687.8 87.2L688.5 86.8L689.2 87.6L690 88.4L690.8 87.7L691.5 87.3L692.2 86.9L693 86.4L693.8 87.2L694.5 89.1L695.2 90L696 90.1L696.8 90.6L697.5 92.4L698.2 94.1L699 92.8L699.8 90.9L700.5 90.4L701.2 90.1L702 89L702.8 88.4L703.5 87.8L704.2 86.9L705 87L705.8 87.1L706.5 86.1L707.2 84.8L708 84.4L708.8 84.1L709.5 82.3L710.2 80.8L711 80.5L711.8 81L712.5 82.1L713.2 82.1L714 81.1L714.8 80.7L715.5 80.4L716.2 79.3L717 78.7L717.8 79L718.5 77.9L719.2 76.2L720 76.6L720.8 79.1L721.5 79.9L722.2 79.6L723 79.5L723.8 79.5L724.5 80.2L725.2 80.4L726 79.3L726.8 78.2L727.5 77.8L728.2 78.5L729 80L729.8 80.2L730.5 78.7L731.2 77.4L732 77.2L732.8 77.7L733.5 78.7L734.2 80.3L735 81.7L735.8 82.2L736.5 82L737.2 82.3L738 83L738.8 81.6L739.5 80.5L740.2 79.6L741 78.8L741.8 78.6L742.5 77.9L743.2 77.1L744 77.6L744.8 77.9L745.5 76.6L746.2 75.8L747 76.1L747.8 75.7L748.5 74.6L749.2 73.2L750 71.1L750.8 69.4L751.5 68.9L752.2 68.8L753 68.7L753.8 68.8L754.5 68.5L755.2 67.3L756 65.8L756.8 65.1L757.5 64.6L758.2 63.3L759 62.3L759.8 62.5L760.5 63.7L761.2 63.6L762 61.6L762.8 59.9L763.5 59.2L764.2 58.6L765 59.1L765.8 59.2L766.5 59L767.2 59L768 59.8L768.8 61.3L769.5 61.1L770.2 60L771 59.7L771.8 59.6L772.5 59.1L773.2 58.3L774 56.9L774.8 54.9L775.5 54.1L776.2 56.1L777 58.5L777.8 59.3L778.5 58.9L779.2 58.1L780 59L780.8 60L781.5 59.7L782.2 59.6L783 60.3L783.8 60.4L784.5 59.9L785.2 58.7L786 58.3L786.8 59.1L787.5 59.5L788.2 60.3L789 60.8L789.8 59.6L790.5 58L791.2 57.7L792 58.3L792.8 57.3L793.5 55.4L794.2 55.3L795 55.8L795.8 56.2L796.5 57.1L797.2 56.3L798 54.2L798.8 52.8L799.5 52" fill="none" stroke="#7c8387" stroke-width="1.9" stroke-linejoin="round"/>
</g>
<path d="M57 441.1H800.5" stroke="#b3b2bf" stroke-width="1.6"/>
<g id="axes">
<text x="28" y="52.9" class="yl" textLength="23" lengthAdjust="spacingAndGlyphs">100%</text>
<text x="31.6" y="131.1" class="yl" textLength="19.4" lengthAdjust="spacingAndGlyphs">80%</text>
<text x="31.6" y="209.3" class="yl" textLength="19.4" lengthAdjust="spacingAndGlyphs">60%</text>
<text x="31.6" y="287.5" class="yl" textLength="19.4" lengthAdjust="spacingAndGlyphs">40%</text>
<text x="31.6" y="365.7" class="yl" textLength="19.4" lengthAdjust="spacingAndGlyphs">20%</text>
<text x="36.8" y="443.9" class="yl" textLength="14.2" lengthAdjust="spacingAndGlyphs">0%</text>
<text x="806.3" y="52.3" class="yr" textLength="24" lengthAdjust="spacingAndGlyphs">$100k</text>
<text x="806.3" y="108.2" class="yr" textLength="19.3" lengthAdjust="spacingAndGlyphs">$10k</text>
<text x="806.3" y="164.1" class="yr" textLength="13.8" lengthAdjust="spacingAndGlyphs">$1k</text>
<text x="806.3" y="220" class="yr" textLength="19.6" lengthAdjust="spacingAndGlyphs">$100</text>
<text x="806.3" y="275.8" class="yr" textLength="14.5" lengthAdjust="spacingAndGlyphs">$10</text>
<text x="806.3" y="331.7" class="yr" textLength="9" lengthAdjust="spacingAndGlyphs">$1</text>
<text x="806.3" y="387.6" class="yr" textLength="16.9" lengthAdjust="spacingAndGlyphs">$0.1</text>
<text x="806.3" y="443.5" class="yr" textLength="21.9" lengthAdjust="spacingAndGlyphs">$0.01</text>
<path d="M132.4 441v3.5" stroke="#6e7079" stroke-width="0.9"/>
<text x="122.8" y="454.1" class="xl" textLength="19.2" lengthAdjust="spacingAndGlyphs">2012</text>
<path d="M235.9 441v3.5" stroke="#6e7079" stroke-width="0.9"/>
<text x="225.8" y="454.1" class="xl" textLength="20.4" lengthAdjust="spacingAndGlyphs">2014</text>
<path d="M339.5 441v3.5" stroke="#6e7079" stroke-width="0.9"/>
<text x="329.2" y="454.1" class="xl" textLength="20.6" lengthAdjust="spacingAndGlyphs">2016</text>
<path d="M443 441v3.5" stroke="#6e7079" stroke-width="0.9"/>
<text x="432.8" y="454.1" class="xl" textLength="20.4" lengthAdjust="spacingAndGlyphs">2018</text>
<path d="M546.6 441v3.5" stroke="#6e7079" stroke-width="0.9"/>
<text x="535.9" y="454.1" class="xl" textLength="21.4" lengthAdjust="spacingAndGlyphs">2020</text>
<path d="M650.1 441v3.5" stroke="#6e7079" stroke-width="0.9"/>
<text x="639.4" y="454.1" class="xl" textLength="21.4" lengthAdjust="spacingAndGlyphs">2022</text>
<path d="M753.7 441v3.5" stroke="#6e7079" stroke-width="0.9"/>
<text x="743" y="454.1" class="xl" textLength="21.4" lengthAdjust="spacingAndGlyphs">2024</text>
</g>
<g id="slider">
<rect x="59.5" y="459" width="742" height="27" fill="#e2eafb"/>
<rect x="59.5" y="459" width="742" height="4.6" fill="#d7deef"/>
<path d="M61 480.9L61.5 481.1L62 481L62.5 480.8L63 480.9L63.5 480.8L64 480.9L64.5 481L65 480.9L65.5 480.6L66 480.5L66.5 480.5L67 480.6L67.5 480.6L68 480.3L68.5 480.2L69 480.3L69.5 480.3L70 480.2L70.5 480.4L71 480.5L71.5 480.6L72 480.8L72.5 480.8L73 480.3L73.5 479.8L74 479.5L74.5 479.6L75 480.1L75.5 480.4L76 480.4L76.5 480.6L77 480.6L77.5 480.5L78 480.5L78.5 480.6L79 480.8L79.5 481L80 481.1L80.5 480.8L81 480.5L81.5 480.6L82 480.5L82.5 480.3L83 480.3L83.5 480.4L84 480.5L84.5 480.7L85 480.9L85.5 480.3L86 477.8L86.5 473.9L87 471.9L87.5 473.8L88 477.4L88.5 479.9L89 480.8L89.5 481L90 480.8L90.5 480.7L91 480.6L91.5 480.3L92 480.1L92.5 480.2L93 480.5L93.5 480.8L94 480.9L94.5 481L95 480.3L95.5 477.7L96 473.4L96.5 471.2L97 473.2L97.5 477.1L98 479.6L98.5 480L99 479.7L99.5 479.3L100 478.9L100.5 478.3L101 478L101.5 477.9L102 478.4L102.5 479.4L103 480.3L103.5 480.6L104 480.6L104.5 480.7L105 480.8L105.5 480.8L106 480.9L106.5 481.2L107 481.1L107.5 480.8L108 480.6L108.5 480.5L109 480.7L109.5 480.9L110 481.1L110.5 481.1L111 480.9L111.5 480.7L112 481L112.5 481.3L113 481.2L113.5 481.1L114 481.1L114.5 481L115 480.9L115.5 480.8L116 481L116.5 481.2L117 481.2L117.5 481.1L118 480.8L118.5 480.5L119 480.7L119.5 481L120 480.9L120.5 480.7L121 480.6L121.5 480.6L122 480.5L122.5 480.4L123 480.4L123.5 480.4L124 480.2L124.5 479.9L125 480.1L125.5 480.4L126 480.5L126.5 480.5L127 480.4L127.5 480.3L128 480.5L128.5 480.7L129 480.7L129.5 480.7L130 480.8L130.5 480.8L131 480.4L131.5 480.2L132 480.4L132.5 480.7L133 480.9L133.5 480.8L134 480.7L134.5 480.5L135 480.7L135.5 481.1L136 481L136.5 480.5L137 480.4L137.5 480.8L138 480.9L138.5 480.9L139 481L139.5 481.1L140 481L140.5 480.8L141 480.5L141.5 480.2L142 480.3L142.5 480.6L143 480.7L143.5 480.5L144 480.4L144.5 480.7L145 480.9L145.5 480.9L146 480.9L146.5 480.7L147 480.4L147.5 480.5L148 480.8L148.5 480.8L149 480.9L149.5 481.3L150 481.5L150.5 481.3L151 480.9L151.5 480.6L152 480.7L152.5 480.9L153 481L153.5 481.1L154 480.8L154.5 480.5L155 480.4L155.5 480.4L156 480.4L156.5 480.7L157 481.1L157.5 481.2L158 480.9L158.5 480.5L159 480.3L159.5 480.5L160 480.5L160.5 480.3L161 480.2L161.5 480.2L162 480.2L162.5 480L163 479.7L163.5 479.6L164 479.8L164.5 480L165 479.8L165.5 479.7L166 479.9L166.5 480.2L167 480.5L167.5 480.6L168 480.6L168.5 480.4L169 480.2L169.5 480.3L170 480.4L170.5 480.5L171 480.4L171.5 480.4L172 480.6L172.5 480.7L173 480.7L173.5 480.6L174 480.5L174.5 480.5L175 480.8L175.5 481.1L176 481.1L176.5 480.7L177 480.5L177.5 480.5L178 480.7L178.5 480.8L179 480.7L179.5 480.6L180 480.4L180.5 480.3L181 480.3L181.5 480.7L182 480.8L182.5 480.8L183 480.8L183.5 480.6L184 480.5L184.5 480.6L185 480.7L185.5 480.8L186 480.7L186.5 480.6L187 480.6L187.5 480.4L188 480L188.5 479.7L189 479.5L189.5 479.4L190 479.2L190.5 479L191 478.8L191.5 478.4L192 478.2L192.5 478.4L193 478.7L193.5 478.8L194 478.7L194.5 478.6L195 478.8L195.5 478.9L196 478.9L196.5 478.7L197 478.4L197.5 478.7L198 479.1L198.5 479.7L199 480.2L199.5 480.7L200 480.9L200.5 480.8L201 480.6L201.5 480.6L202 480.8L202.5 480.9L203 480.8L203.5 480.7L204 480.8L204.5 480.9L205 480.8L205.5 480.6L206 480.8L206.5 481.1L207 481.1L207.5 480.8L208 480.6L208.5 480.8L209 481.1L209.5 481.1L210 481.1L210.5 481L211 480.9L211.5 480.8L212 480.9L212.5 481.2L213 481.3L213.5 481.3L214 481.2L214.5 481.1L215 480.9L215.5 480.7L216 480.6L216.5 480.6L217 480.7L217.5 480.8L218 480.8L218.5 480.8L219 481.1L219.5 481.3L220 481.2L220.5 481L221 480.8L221.5 480.6L222 480.6L222.5 480.6L223 480.7L223.5 480.6L224 480.4L224.5 480.2L225 480L225.5 480.1L226 480.3L226.5 480.3L227 479.9L227.5 479.6L228 479.4L228.5 479.3L229 479.1L229.5 478.9L230 478.5L230.5 478.2L231 478.4L231.5 478.9L232 479.5L232.5 479.9L233 479.8L233.5 479.6L234 479.7L234.5 480L235 480.3L235.5 480.7L236 480.9L236.5 481L237 480.9L237.5 480.7L238 480.6L238.5 480.7L239 480.8L239.5 480.6L240 480.4L240.5 480.2L241 480.2L241.5 480.3L242 480.1L242.5 480.1L243 480.5L243.5 480.6L244 480.2L244.5 479.9L245 480L245.5 480.1L246 480.1L246.5 480.3L247 480.6L247.5 480.7L248 480.7L248.5 480.6L249 480.4L249.5 480.2L250 480.3L250.5 480.2L251 480.2L251.5 480.6L252 480.9L252.5 481L253 481.1L253.5 481.1L254 481.1L254.5 481L255 480.7L255.5 480.5L256 480.7L256.5 481.2L257 481.6L257.5 481.4L258 480.9L258.5 480.6L259 480.7L259.5 480.8L260 480.9L260.5 481.1L261 481.4L261.5 481.4L262 480.9L262.5 480.5L263 480.7L263.5 481L264 481L264.5 480.9L265 480.9L265.5 480.7L266 480.7L266.5 480.8L267 480.7L267.5 480.6L268 480.7L268.5 480.8L269 480.7L269.5 480.5L270 480.6L270.5 480.6L271 480.7L271.5 480.7L272 480.8L272.5 480.7L273 480.9L273.5 481.3L274 481.4L274.5 481.3L275 481L275.5 480.5L276 480.2L276.5 480.5L277 481L277.5 481.1L278 481L278.5 480.9L279 480.7L279.5 480.6L280 480.6L280.5 480.5L281 480.7L281.5 480.9L282 480.8L282.5 480.7L283 480.7L283.5 480.6L284 480.5L284.5 480.6L285 480.9L285.5 481L286 480.9L286.5 480.9L287 481L287.5 481L288 480.7L288.5 480.5L289 480.5L289.5 480.4L290 480.5L290.5 480.8L291 480.9L291.5 480.9L292 480.7L292.5 480.4L293 480.4L293.5 480.6L294 480.7L294.5 480.8L295 480.8L295.5 480.9L296 480.8L296.5 480.6L297 480.3L297.5 480.3L298 480.4L298.5 480.4L299 480.6L299.5 480.7L300 480.3L300.5 480.1L301 480.2L301.5 480.4L302 480.8L302.5 480.8L303 480.7L303.5 480.6L304 480.8L304.5 481L305 481.2L305.5 481.2L306 481.1L306.5 481L307 481L307.5 481L308 480.8L308.5 480.7L309 480.8L309.5 480.9L310 480.8L310.5 480.9L311 481.2L311.5 481L312 480.5L312.5 480.5L313 481L313.5 481.2L314 481.1L314.5 481.2L315 481L315.5 480.7L316 480.8L316.5 481.1L317 481.1L317.5 481.2L318 481.3L318.5 481.4L319 481.3L319.5 481.1L320 480.9L320.5 480.7L321 480.9L321.5 480.9L322 480.7L322.5 480.8L323 480.9L323.5 480.9L324 481L324.5 481.2L325 481.3L325.5 481.3L326 481L326.5 480.7L327 480.5L327.5 480.5L328 480.7L328.5 480.7L329 480.7L329.5 480.8L330 480.7L330.5 480.3L331 480.2L331.5 480.4L332 480.8L332.5 481.2L333 481.2L333.5 480.8L334 480.7L334.5 481L335 481.1L335.5 481.2L336 481.3L336.5 481.3L337 481L337.5 480.7L338 480.6L338.5 480.6L339 480.8L339.5 481L340 481.1L340.5 481.2L341 481L341.5 480.8L342 480.6L342.5 480.7L343 481.2L343.5 481.6L344 481.4L344.5 481.1L345 481.2L345.5 481.2L346 481L346.5 480.6L347 480.3L347.5 480.3L348 480.6L348.5 480.6L349 480.4L349.5 480.5L350 480.7L350.5 480.6L351 480.7L351.5 480.9L352 481L352.5 480.9L353 480.7L353.5 480.5L354 480.5L354.5 480.7L355 480.9L355.5 481.1L356 481.2L356.5 481.1L357 481.1L357.5 480.9L358 480.6L358.5 480.7L359 480.9L359.5 481L360 481L360.5 481L361 481L361.5 481L362 480.9L362.5 480.7L363 480.8L363.5 481.1L364 481.2L364.5 481.3L365 481.3L365.5 481.2L366 481.1L366.5 481L367 480.7L367.5 480.3L368 480.6L368.5 481L369 481L369.5 481L370 481.1L370.5 481.1L371 480.9L371.5 480.8L372 480.8L372.5 480.7L373 480.6L373.5 480.7L374 480.9L374.5 481L375 481L375.5 480.7L376 480.5L376.5 480.5L377 480.8L377.5 481.2L378 481L378.5 480.6L379 480.6L379.5 480.7L380 480.8L380.5 480.8L381 480.8L381.5 481L382 480.9L382.5 480.6L383 480.8L383.5 481.2L384 481.2L384.5 481L385 481L385.5 481L386 480.9L386.5 480.8L387 480.7L387.5 480.9L388 480.9L388.5 480.6L389 480.4L389.5 480.6L390 480.6L390.5 480.6L391 480.7L391.5 480.8L392 480.9L392.5 480.9L393 480.8L393.5 480.7L394 480.7L394.5 480.7L395 480.7L395.5 480.7L396 480.7L396.5 480.5L397 480.3L397.5 480.2L398 480.5L398.5 480.7L399 480.9L399.5 481.1L400 481L400.5 480.7L401 480.6L401.5 480.9L402 481L402.5 480.8L403 480.7L403.5 480.9L404 480.8L404.5 480.7L405 480.7L405.5 480.6L406 480.6L406.5 480.9L407 481.1L407.5 481L408 480.8L408.5 480.7L409 480.7L409.5 480.8L410 480.8L410.5 480.4L411 480.1L411.5 480.1L412 480.2L412.5 480.3L413 480.3L413.5 480.2L414 480.2L414.5 480L415 479.8L415.5 479.7L416 479.8L416.5 480L417 480L417.5 479.9L418 480.1L418.5 480.4L419 480.4L419.5 479.9L420 479.5L420.5 479.7L421 480.2L421.5 480.2L422 480.1L422.5 480.1L423 480.1L423.5 480L424 480.1L424.5 480.3L425 480.3L425.5 480.2L426 480L426.5 480L427 479.9L427.5 480L428 480.4L428.5 480.7L429 480.8L429.5 480.9L430 480.9L430.5 480.8L431 480.8L431.5 480.7L432 480.6L432.5 480.7L433 480.8L433.5 480.8L434 480.8L434.5 480.8L435 480.5L435.5 480.5L436 480.8L436.5 481L437 480.7L437.5 480.2L438 480L438.5 480L439 480L439.5 480.1L440 480.1L440.5 480L441 480L441.5 480.1L442 480.1L442.5 480.3L443 480.6L443.5 480.6L444 480.8L444.5 480.9L445 480.7L445.5 480.6L446 480.6L446.5 480.6L447 480.8L447.5 480.9L448 480.9L448.5 480.7L449 480.7L449.5 480.6L450 480.4L450.5 480.3L451 480.5L451.5 480.6L452 480.5L452.5 480.2L453 480L453.5 480.1L454 480.4L454.5 480.7L455 481L455.5 481.2L456 481L456.5 480.8L457 480.9L457.5 481.1L458 480.7L458.5 480.4L459 480.5L459.5 480.7L460 480.9L460.5 480.8L461 480.7L461.5 480.9L462 481.2L462.5 481.2L463 481L463.5 480.9L464 481L464.5 481L465 480.7L465.5 480.5L466 480.6L466.5 480.9L467 481.2L467.5 481.2L468 481L468.5 480.8L469 480.8L469.5 481.1L470 481.4L470.5 481.3L471 480.9L471.5 480.5L472 480.2L472.5 480.2L473 480.2L473.5 480.5L474 480.8L474.5 480.7L475 480.6L475.5 480.6L476 480.5L476.5 480.3L477 480.3L477.5 480.6L478 481L478.5 481.3L479 481.5L479.5 481.4L480 481.2L480.5 480.8L481 480.8L481.5 480.7L482 480.4L482.5 480.2L483 480.2L483.5 480.2L484 480.2L484.5 480.5L485 480.8L485.5 480.9L486 481.1L486.5 481L487 480.9L487.5 481L488 481L488.5 480.9L489 480.7L489.5 480.5L490 480.3L490.5 480.4L491 480.6L491.5 481L492 481.1L492.5 481L493 481L493.5 481L494 481.2L494.5 481.2L495 481L495.5 481L496 481.1L496.5 481L497 480.8L497.5 480.6L498 480.6L498.5 480.8L499 480.9L499.5 480.8L500 480.7L500.5 481L501 481.1L501.5 480.7L502 480.4L502.5 480.4L503 480.7L503.5 481L504 481.4L504.5 481.6L505 481.5L505.5 481.1L506 480.7L506.5 480.5L507 480.3L507.5 480.2L508 480.2L508.5 480.3L509 480.5L509.5 480.8L510 480.7L510.5 480.4L511 480.5L511.5 480.6L512 480.6L512.5 480.4L513 480.5L513.5 480.6L514 480.4L514.5 480.4L515 480.7L515.5 481.1L516 481.1L516.5 480.8L517 480.7L517.5 480.7L518 480.7L518.5 480.8L519 480.8L519.5 480.8L520 480.8L520.5 480.8L521 480.6L521.5 480.4L522 480.3L522.5 480.4L523 480.5L523.5 480.8L524 481.1L524.5 481.1L525 480.9L525.5 480.8L526 480.9L526.5 481.2L527 481.3L527.5 481.1L528 480.9L528.5 480.7L529 480.6L529.5 480.5L530 480.5L530.5 480.4L531 480.2L531.5 480.1L532 479.9L532.5 480L533 480.4L533.5 480.7L534 480.6L534.5 480.3L535 480.6L535.5 481.2L536 481.5L536.5 481.2L537 480.9L537.5 480.8L538 480.9L538.5 481.1L539 481.2L539.5 481.1L540 480.9L540.5 480.9L541 480.8L541.5 480.8L542 481L542.5 481.1L543 480.9L543.5 480.8L544 480.8L544.5 480.9L545 480.7L545.5 480.6L546 480.6L546.5 480.5L547 480.4L547.5 480.5L548 480.6L548.5 480.5L549 480.4L549.5 480.5L550 480.6L550.5 480.5L551 480.5L551.5 480.7L552 481.2L552.5 481.6L553 481.4L553.5 481.2L554 481.2L554.5 481.1L555 481L555.5 481.1L556 480.9L556.5 480.4L557 480.2L557.5 480.5L558 480.8L558.5 481.1L559 481.3L559.5 481.2L560 480.9L560.5 480.7L561 480.4L561.5 480.2L562 480.2L562.5 480.4L563 480.5L563.5 480.7L564 480.9L564.5 480.9L565 480.8L565.5 480.7L566 480.8L566.5 481.2L567 481.5L567.5 481.5L568 481.3L568.5 480.9L569 480.6L569.5 480.6L570 480.7L570.5 480.9L571 480.8L571.5 480.8L572 480.4L572.5 480.3L573 480.6L573.5 480.8L574 480.8L574.5 481L575 481.1L575.5 480.9L576 480.7L576.5 480.6L577 480.5L577.5 480.6L578 481L578.5 481.1L579 481L579.5 481L580 481L580.5 480.7L581 480.6L581.5 480.7L582 480.8L582.5 481L583 480.9L583.5 480.6L584 480.2L584.5 480.3L585 480.8L585.5 481.2L586 481.3L586.5 481.1L587 481L587.5 480.8L588 480.6L588.5 480.7L589 480.9L589.5 480.6L590 480.4L590.5 480.6L591 480.8L591.5 480.9L592 480.9L592.5 481L593 480.9L593.5 480.9L594 481.1L594.5 480.8L595 480.3L595.5 480.1L596 480.2L596.5 480.3L597 480.3L597.5 480.3L598 480.4L598.5 480.6L599 480.6L599.5 480.5L600 480.4L600.5 480.4L601 480.2L601.5 480.1L602 480.2L602.5 480.1L603 479.9L603.5 479.9L604 479.9L604.5 479.9L605 480.1L605.5 480.5L606 480.7L606.5 480.8L607 480.5L607.5 480.3L608 480.3L608.5 480.4L609 480.4L609.5 480.6L610 480.7L610.5 480.7L611 481L611.5 481.3L612 481.3L612.5 481.2L613 481.1L613.5 481L614 481L614.5 480.9L615 480.7L615.5 480.7L616 480.8L616.5 480.8L617 480.8L617.5 480.8L618 480.6L618.5 480.6L619 480.6L619.5 480.6L620 480.9L620.5 480.9L621 480.8L621.5 480.8L622 480.9L622.5 480.9L623 480.7L623.5 480.7L624 480.6L624.5 480.6L625 480.8L625.5 480.8L626 480.7L626.5 480.7L627 480.7L627.5 480.9L628 481.1L628.5 480.8L629 480.8L629.5 481.1L630 481L630.5 480.5L631 480.2L631.5 480.3L632 480.5L632.5 480.6L633 480.6L633.5 480.6L634 480.4L634.5 480.1L635 480.3L635.5 480.5L636 480.5L636.5 480.6L637 480.7L637.5 480.7L638 480.7L638.5 480.4L639 480.3L639.5 480.6L640 480.5L640.5 480.3L641 480.3L641.5 480.3L642 480.3L642.5 480.3L643 480.2L643.5 480.3L644 480.4L644.5 480.4L645 480.2L645.5 480.2L646 480.4L646.5 480.4L647 480.4L647.5 480.6L648 480.7L648.5 480.6L649 480.6L649.5 480.6L650 480.4L650.5 480.4L651 480.5L651.5 480.4L652 480.4L652.5 480.6L653 481.1L653.5 481.2L654 481L654.5 481L655 480.9L655.5 480.6L656 480.3L656.5 480.4L657 480.5L657.5 480.5L658 480.5L658.5 480.8L659 481.1L659.5 480.7L660 480.2L660.5 480.1L661 480.3L661.5 480.5L662 480.7L662.5 480.8L663 481.1L663.5 481.4L664 481.4L664.5 481.3L665 481.2L665.5 481.2L666 481L666.5 480.7L667 480.5L667.5 480.7L668 481L668.5 480.9L669 480.6L669.5 480.5L670 480.5L670.5 480.6L671 480.8L671.5 481L672 481.1L672.5 481.1L673 480.9L673.5 480.8L674 480.8L674.5 481L675 480.8L675.5 480.6L676 480.6L676.5 480.5L677 480.7L677.5 481.1L678 481L678.5 481L679 480.9L679.5 480.7L680 480.7L680.5 480.6L681 480.6L681.5 480.8L682 480.7L682.5 480.5L683 480.5L683.5 480.7L684 480.8L684.5 480.9L685 480.9L685.5 480.9L686 480.8L686.5 480.8L687 480.7L687.5 480.4L688 480.4L688.5 480.6L689 480.7L689.5 480.9L690 481.2L690.5 481.4L691 481.1L691.5 480.6L692 480.5L692.5 480.7L693 480.8L693.5 480.7L694 480.6L694.5 480.4L695 480.4L695.5 480.7L696 480.8L696.5 480.6L697 480.6L697.5 480.9L698 481L698.5 481.1L699 481.2L699.5 481.1L700 481L700.5 481.2L701 481.5L701.5 481.7L702 481.4L702.5 481.2L703 480.9L703.5 480.6L704 480.6L704.5 480.7L705 480.6L705.5 480.6L706 480.7L706.5 480.7L707 480.7L707.5 480.8L708 481L708.5 481L709 481.2L709.5 481.3L710 481.3L710.5 481.4L711 481.3L711.5 481L712 480.9L712.5 480.8L713 480.8L713.5 480.7L714 480.6L714.5 480.6L715 480.5L715.5 480.7L716 481L716.5 481.2L717 481.2L717.5 481L718 480.9L718.5 480.9L719 481L719.5 481.1L720 481.1L720.5 480.9L721 480.6L721.5 480.5L722 480.5L722.5 480.5L723 480.5L723.5 480.7L724 480.8L724.5 480.8L725 480.7L725.5 480.3L726 480.3L726.5 480.7L727 481L727.5 481.1L728 481.1L728.5 481L729 480.9L729.5 480.7L730 480.6L730.5 480.5L731 480.5L731.5 480.5L732 480.5L732.5 480.5L733 480.3L733.5 480.3L734 480.3L734.5 480.3L735 480.6L735.5 480.9L736 480.9L736.5 480.5L737 480.1L737.5 479.9L738 479.8L738.5 479.9L739 480.2L739.5 480.4L740 480.3L740.5 480.4L741 480.5L741.5 480.3L742 480.2L742.5 480.4L743 480.6L743.5 480.6L744 480.5L744.5 480.4L745 480.4L745.5 480.3L746 480.4L746.5 480.5L747 480.4L747.5 480.2L748 480.2L748.5 480.3L749 480.6L749.5 480.8L750 481L750.5 480.8L751 480.4L751.5 480.4L752 480.5L752.5 480.6L753 480.7L753.5 480.8L754 480.8L754.5 480.7L755 480.6L755.5 480.6L756 480.4L756.5 480.4L757 480.8L757.5 480.9L758 480.8L758.5 480.9L759 481.1L759.5 480.9L760 480.7L760.5 480.7L761 480.8L761.5 480.7L762 480.6L762.5 480.8L763 480.9L763.5 480.8L764 480.8L764.5 480.8L765 480.8L765.5 480.6L766 480.5L766.5 480.4L767 480.1L767.5 479.9L768 479.8L768.5 480L769 480L769.5 480.1L770 480.3L770.5 480.8L771 481.3L771.5 481.2L772 480.9L772.5 480.8L773 480.8L773.5 480.7L774 480.5L774.5 480.6L775 480.3L775.5 479.9L776 480.1L776.5 480.5L777 480.6L777.5 480.6L778 480.8L778.5 481.2L779 481.3L779.5 481.3L780 481.2L780.5 481.2L781 481.2L781.5 481.1L782 481.1L782.5 481.4L783 481.6L783.5 481.2L784 480.8L784.5 480.6L785 480.6L785.5 480.7L786 480.8L786.5 481L787 481L787.5 481.1L788 481.1L788.5 481L789 480.9L789.5 480.5L790 480.3L790.5 480.4L791 480.6L791.5 480.9L792 480.9L792.5 480.6L793 480.5L793.5 480.9L794 481.1L794.5 480.8L795 480.6L795.5 480.5L796 480.4L796.5 480.7L797 480.9L797.5 480.8L798 480.6L798.5 480.3L799 480.5L799.5 480.6L800 480.6L800 485.5L61 485.5Z" fill="#c9d8f7" fill-opacity="0.35"/>
<path d="M61 480.9L61.5 481.1L62 481L62.5 480.8L63 480.9L63.5 480.8L64 480.9L64.5 481L65 480.9L65.5 480.6L66 480.5L66.5 480.5L67 480.6L67.5 480.6L68 480.3L68.5 480.2L69 480.3L69.5 480.3L70 480.2L70.5 480.4L71 480.5L71.5 480.6L72 480.8L72.5 480.8L73 480.3L73.5 479.8L74 479.5L74.5 479.6L75 480.1L75.5 480.4L76 480.4L76.5 480.6L77 480.6L77.5 480.5L78 480.5L78.5 480.6L79 480.8L79.5 481L80 481.1L80.5 480.8L81 480.5L81.5 480.6L82 480.5L82.5 480.3L83 480.3L83.5 480.4L84 480.5L84.5 480.7L85 480.9L85.5 480.3L86 477.8L86.5 473.9L87 471.9L87.5 473.8L88 477.4L88.5 479.9L89 480.8L89.5 481L90 480.8L90.5 480.7L91 480.6L91.5 480.3L92 480.1L92.5 480.2L93 480.5L93.5 480.8L94 480.9L94.5 481L95 480.3L95.5 477.7L96 473.4L96.5 471.2L97 473.2L97.5 477.1L98 479.6L98.5 480L99 479.7L99.5 479.3L100 478.9L100.5 478.3L101 478L101.5 477.9L102 478.4L102.5 479.4L103 480.3L103.5 480.6L104 480.6L104.5 480.7L105 480.8L105.5 480.8L106 480.9L106.5 481.2L107 481.1L107.5 480.8L108 480.6L108.5 480.5L109 480.7L109.5 480.9L110 481.1L110.5 481.1L111 480.9L111.5 480.7L112 481L112.5 481.3L113 481.2L113.5 481.1L114 481.1L114.5 481L115 480.9L115.5 480.8L116 481L116.5 481.2L117 481.2L117.5 481.1L118 480.8L118.5 480.5L119 480.7L119.5 481L120 480.9L120.5 480.7L121 480.6L121.5 480.6L122 480.5L122.5 480.4L123 480.4L123.5 480.4L124 480.2L124.5 479.9L125 480.1L125.5 480.4L126 480.5L126.5 480.5L127 480.4L127.5 480.3L128 480.5L128.5 480.7L129 480.7L129.5 480.7L130 480.8L130.5 480.8L131 480.4L131.5 480.2L132 480.4L132.5 480.7L133 480.9L133.5 480.8L134 480.7L134.5 480.5L135 480.7L135.5 481.1L136 481L136.5 480.5L137 480.4L137.5 480.8L138 480.9L138.5 480.9L139 481L139.5 481.1L140 481L140.5 480.8L141 480.5L141.5 480.2L142 480.3L142.5 480.6L143 480.7L143.5 480.5L144 480.4L144.5 480.7L145 480.9L145.5 480.9L146 480.9L146.5 480.7L147 480.4L147.5 480.5L148 480.8L148.5 480.8L149 480.9L149.5 481.3L150 481.5L150.5 481.3L151 480.9L151.5 480.6L152 480.7L152.5 480.9L153 481L153.5 481.1L154 480.8L154.5 480.5L155 480.4L155.5 480.4L156 480.4L156.5 480.7L157 481.1L157.5 481.2L158 480.9L158.5 480.5L159 480.3L159.5 480.5L160 480.5L160.5 480.3L161 480.2L161.5 480.2L162 480.2L162.5 480L163 479.7L163.5 479.6L164 479.8L164.5 480L165 479.8L165.5 479.7L166 479.9L166.5 480.2L167 480.5L167.5 480.6L168 480.6L168.5 480.4L169 480.2L169.5 480.3L170 480.4L170.5 480.5L171 480.4L171.5 480.4L172 480.6L172.5 480.7L173 480.7L173.5 480.6L174 480.5L174.5 480.5L175 480.8L175.5 481.1L176 481.1L176.5 480.7L177 480.5L177.5 480.5L178 480.7L178.5 480.8L179 480.7L179.5 480.6L180 480.4L180.5 480.3L181 480.3L181.5 480.7L182 480.8L182.5 480.8L183 480.8L183.5 480.6L184 480.5L184.5 480.6L185 480.7L185.5 480.8L186 480.7L186.5 480.6L187 480.6L187.5 480.4L188 480L188.5 479.7L189 479.5L189.5 479.4L190 479.2L190.5 479L191 478.8L191.5 478.4L192 478.2L192.5 478.4L193 478.7L193.5 478.8L194 478.7L194.5 478.6L195 478.8L195.5 478.9L196 478.9L196.5 478.7L197 478.4L197.5 478.7L198 479.1L198.5 479.7L199 480.2L199.5 480.7L200 480.9L200.5 480.8L201 480.6L201.5 480.6L202 480.8L202.5 480.9L203 480.8L203.5 480.7L204 480.8L204.5 480.9L205 480.8L205.5 480.6L206 480.8L206.5 481.1L207 481.1L207.5 480.8L208 480.6L208.5 480.8L209 481.1L209.5 481.1L210 481.1L210.5 481L211 480.9L211.5 480.8L212 480.9L212.5 481.2L213 481.3L213.5 481.3L214 481.2L214.5 481.1L215 480.9L215.5 480.7L216 480.6L216.5 480.6L217 480.7L217.5 480.8L218 480.8L218.5 480.8L219 481.1L219.5 481.3L220 481.2L220.5 481L221 480.8L221.5 480.6L222 480.6L222.5 480.6L223 480.7L223.5 480.6L224 480.4L224.5 480.2L225 480L225.5 480.1L226 480.3L226.5 480.3L227 479.9L227.5 479.6L228 479.4L228.5 479.3L229 479.1L229.5 478.9L230 478.5L230.5 478.2L231 478.4L231.5 478.9L232 479.5L232.5 479.9L233 479.8L233.5 479.6L234 479.7L234.5 480L235 480.3L235.5 480.7L236 480.9L236.5 481L237 480.9L237.5 480.7L238 480.6L238.5 480.7L239 480.8L239.5 480.6L240 480.4L240.5 480.2L241 480.2L241.5 480.3L242 480.1L242.5 480.1L243 480.5L243.5 480.6L244 480.2L244.5 479.9L245 480L245.5 480.1L246 480.1L246.5 480.3L247 480.6L247.5 480.7L248 480.7L248.5 480.6L249 480.4L249.5 480.2L250 480.3L250.5 480.2L251 480.2L251.5 480.6L252 480.9L252.5 481L253 481.1L253.5 481.1L254 481.1L254.5 481L255 480.7L255.5 480.5L256 480.7L256.5 481.2L257 481.6L257.5 481.4L258 480.9L258.5 480.6L259 480.7L259.5 480.8L260 480.9L260.5 481.1L261 481.4L261.5 481.4L262 480.9L262.5 480.5L263 480.7L263.5 481L264 481L264.5 480.9L265 480.9L265.5 480.7L266 480.7L266.5 480.8L267 480.7L267.5 480.6L268 480.7L268.5 480.8L269 480.7L269.5 480.5L270 480.6L270.5 480.6L271 480.7L271.5 480.7L272 480.8L272.5 480.7L273 480.9L273.5 481.3L274 481.4L274.5 481.3L275 481L275.5 480.5L276 480.2L276.5 480.5L277 481L277.5 481.1L278 481L278.5 480.9L279 480.7L279.5 480.6L280 480.6L280.5 480.5L281 480.7L281.5 480.9L282 480.8L282.5 480.7L283 480.7L283.5 480.6L284 480.5L284.5 480.6L285 480.9L285.5 481L286 480.9L286.5 480.9L287 481L287.5 481L288 480.7L288.5 480.5L289 480.5L289.5 480.4L290 480.5L290.5 480.8L291 480.9L291.5 480.9L292 480.7L292.5 480.4L293 480.4L293.5 480.6L294 480.7L294.5 480.8L295 480.8L295.5 480.9L296 480.8L296.5 480.6L297 480.3L297.5 480.3L298 480.4L298.5 480.4L299 480.6L299.5 480.7L300 480.3L300.5 480.1L301 480.2L301.5 480.4L302 480.8L302.5 480.8L303 480.7L303.5 480.6L304 480.8L304.5 481L305 481.2L305.5 481.2L306 481.1L306.5 481L307 481L307.5 481L308 480.8L308.5 480.7L309 480.8L309.5 480.9L310 480.8L310.5 480.9L311 481.2L311.5 481L312 480.5L312.5 480.5L313 481L313.5 481.2L314 481.1L314.5 481.2L315 481L315.5 480.7L316 480.8L316.5 481.1L317 481.1L317.5 481.2L318 481.3L318.5 481.4L319 481.3L319.5 481.1L320 480.9L320.5 480.7L321 480.9L321.5 480.9L322 480.7L322.5 480.8L323 480.9L323.5 480.9L324 481L324.5 481.2L325 481.3L325.5 481.3L326 481L326.5 480.7L327 480.5L327.5 480.5L328 480.7L328.5 480.7L329 480.7L329.5 480.8L330 480.7L330.5 480.3L331 480.2L331.5 480.4L332 480.8L332.5 481.2L333 481.2L333.5 480.8L334 480.7L334.5 481L335 481.1L335.5 481.2L336 481.3L336.5 481.3L337 481L337.5 480.7L338 480.6L338.5 480.6L339 480.8L339.5 481L340 481.1L340.5 481.2L341 481L341.5 480.8L342 480.6L342.5 480.7L343 481.2L343.5 481.6L344 481.4L344.5 481.1L345 481.2L345.5 481.2L346 481L346.5 480.6L347 480.3L347.5 480.3L348 480.6L348.5 480.6L349 480.4L349.5 480.5L350 480.7L350.5 480.6L351 480.7L351.5 480.9L352 481L352.5 480.9L353 480.7L353.5 480.5L354 480.5L354.5 480.7L355 480.9L355.5 481.1L356 481.2L356.5 481.1L357 481.1L357.5 480.9L358 480.6L358.5 480.7L359 480.9L359.5 481L360 481L360.5 481L361 481L361.5 481L362 480.9L362.5 480.7L363 480.8L363.5 481.1L364 481.2L364.5 481.3L365 481.3L365.5 481.2L366 481.1L366.5 481L367 480.7L367.5 480.3L368 480.6L368.5 481L369 481L369.5 481L370 481.1L370.5 481.1L371 480.9L371.5 480.8L372 480.8L372.5 480.7L373 480.6L373.5 480.7L374 480.9L374.5 481L375 481L375.5 480.7L376 480.5L376.5 480.5L377 480.8L377.5 481.2L378 481L378.5 480.6L379 480.6L379.5 480.7L380 480.8L380.5 480.8L381 480.8L381.5 481L382 480.9L382.5 480.6L383 480.8L383.5 481.2L384 481.2L384.5 481L385 481L385.5 481L386 480.9L386.5 480.8L387 480.7L387.5 480.9L388 480.9L388.5 480.6L389 480.4L389.5 480.6L390 480.6L390.5 480.6L391 480.7L391.5 480.8L392 480.9L392.5 480.9L393 480.8L393.5 480.7L394 480.7L394.5 480.7L395 480.7L395.5 480.7L396 480.7L396.5 480.5L397 480.3L397.5 480.2L398 480.5L398.5 480.7L399 480.9L399.5 481.1L400 481L400.5 480.7L401 480.6L401.5 480.9L402 481L402.5 480.8L403 480.7L403.5 480.9L404 480.8L404.5 480.7L405 480.7L405.5 480.6L406 480.6L406.5 480.9L407 481.1L407.5 481L408 480.8L408.5 480.7L409 480.7L409.5 480.8L410 480.8L410.5 480.4L411 480.1L411.5 480.1L412 480.2L412.5 480.3L413 480.3L413.5 480.2L414 480.2L414.5 480L415 479.8L415.5 479.7L416 479.8L416.5 480L417 480L417.5 479.9L418 480.1L418.5 480.4L419 480.4L419.5 479.9L420 479.5L420.5 479.7L421 480.2L421.5 480.2L422 480.1L422.5 480.1L423 480.1L423.5 480L424 480.1L424.5 480.3L425 480.3L425.5 480.2L426 480L426.5 480L427 479.9L427.5 480L428 480.4L428.5 480.7L429 480.8L429.5 480.9L430 480.9L430.5 480.8L431 480.8L431.5 480.7L432 480.6L432.5 480.7L433 480.8L433.5 480.8L434 480.8L434.5 480.8L435 480.5L435.5 480.5L436 480.8L436.5 481L437 480.7L437.5 480.2L438 480L438.5 480L439 480L439.5 480.1L440 480.1L440.5 480L441 480L441.5 480.1L442 480.1L442.5 480.3L443 480.6L443.5 480.6L444 480.8L444.5 480.9L445 480.7L445.5 480.6L446 480.6L446.5 480.6L447 480.8L447.5 480.9L448 480.9L448.5 480.7L449 480.7L449.5 480.6L450 480.4L450.5 480.3L451 480.5L451.5 480.6L452 480.5L452.5 480.2L453 480L453.5 480.1L454 480.4L454.5 480.7L455 481L455.5 481.2L456 481L456.5 480.8L457 480.9L457.5 481.1L458 480.7L458.5 480.4L459 480.5L459.5 480.7L460 480.9L460.5 480.8L461 480.7L461.5 480.9L462 481.2L462.5 481.2L463 481L463.5 480.9L464 481L464.5 481L465 480.7L465.5 480.5L466 480.6L466.5 480.9L467 481.2L467.5 481.2L468 481L468.5 480.8L469 480.8L469.5 481.1L470 481.4L470.5 481.3L471 480.9L471.5 480.5L472 480.2L472.5 480.2L473 480.2L473.5 480.5L474 480.8L474.5 480.7L475 480.6L475.5 480.6L476 480.5L476.5 480.3L477 480.3L477.5 480.6L478 481L478.5 481.3L479 481.5L479.5 481.4L480 481.2L480.5 480.8L481 480.8L481.5 480.7L482 480.4L482.5 480.2L483 480.2L483.5 480.2L484 480.2L484.5 480.5L485 480.8L485.5 480.9L486 481.1L486.5 481L487 480.9L487.5 481L488 481L488.5 480.9L489 480.7L489.5 480.5L490 480.3L490.5 480.4L491 480.6L491.5 481L492 481.1L492.5 481L493 481L493.5 481L494 481.2L494.5 481.2L495 481L495.5 481L496 481.1L496.5 481L497 480.8L497.5 480.6L498 480.6L498.5 480.8L499 480.9L499.5 480.8L500 480.7L500.5 481L501 481.1L501.5 480.7L502 480.4L502.5 480.4L503 480.7L503.5 481L504 481.4L504.5 481.6L505 481.5L505.5 481.1L506 480.7L506.5 480.5L507 480.3L507.5 480.2L508 480.2L508.5 480.3L509 480.5L509.5 480.8L510 480.7L510.5 480.4L511 480.5L511.5 480.6L512 480.6L512.5 480.4L513 480.5L513.5 480.6L514 480.4L514.5 480.4L515 480.7L515.5 481.1L516 481.1L516.5 480.8L517 480.7L517.5 480.7L518 480.7L518.5 480.8L519 480.8L519.5 480.8L520 480.8L520.5 480.8L521 480.6L521.5 480.4L522 480.3L522.5 480.4L523 480.5L523.5 480.8L524 481.1L524.5 481.1L525 480.9L525.5 480.8L526 480.9L526.5 481.2L527 481.3L527.5 481.1L528 480.9L528.5 480.7L529 480.6L529.5 480.5L530 480.5L530.5 480.4L531 480.2L531.5 480.1L532 479.9L532.5 480L533 480.4L533.5 480.7L534 480.6L534.5 480.3L535 480.6L535.5 481.2L536 481.5L536.5 481.2L537 480.9L537.5 480.8L538 480.9L538.5 481.1L539 481.2L539.5 481.1L540 480.9L540.5 480.9L541 480.8L541.5 480.8L542 481L542.5 481.1L543 480.9L543.5 480.8L544 480.8L544.5 480.9L545 480.7L545.5 480.6L546 480.6L546.5 480.5L547 480.4L547.5 480.5L548 480.6L548.5 480.5L549 480.4L549.5 480.5L550 480.6L550.5 480.5L551 480.5L551.5 480.7L552 481.2L552.5 481.6L553 481.4L553.5 481.2L554 481.2L554.5 481.1L555 481L555.5 481.1L556 480.9L556.5 480.4L557 480.2L557.5 480.5L558 480.8L558.5 481.1L559 481.3L559.5 481.2L560 480.9L560.5 480.7L561 480.4L561.5 480.2L562 480.2L562.5 480.4L563 480.5L563.5 480.7L564 480.9L564.5 480.9L565 480.8L565.5 480.7L566 480.8L566.5 481.2L567 481.5L567.5 481.5L568 481.3L568.5 480.9L569 480.6L569.5 480.6L570 480.7L570.5 480.9L571 480.8L571.5 480.8L572 480.4L572.5 480.3L573 480.6L573.5 480.8L574 480.8L574.5 481L575 481.1L575.5 480.9L576 480.7L576.5 480.6L577 480.5L577.5 480.6L578 481L578.5 481.1L579 481L579.5 481L580 481L580.5 480.7L581 480.6L581.5 480.7L582 480.8L582.5 481L583 480.9L583.5 480.6L584 480.2L584.5 480.3L585 480.8L585.5 481.2L586 481.3L586.5 481.1L587 481L587.5 480.8L588 480.6L588.5 480.7L589 480.9L589.5 480.6L590 480.4L590.5 480.6L591 480.8L591.5 480.9L592 480.9L592.5 481L593 480.9L593.5 480.9L594 481.1L594.5 480.8L595 480.3L595.5 480.1L596 480.2L596.5 480.3L597 480.3L597.5 480.3L598 480.4L598.5 480.6L599 480.6L599.5 480.5L600 480.4L600.5 480.4L601 480.2L601.5 480.1L602 480.2L602.5 480.1L603 479.9L603.5 479.9L604 479.9L604.5 479.9L605 480.1L605.5 480.5L606 480.7L606.5 480.8L607 480.5L607.5 480.3L608 480.3L608.5 480.4L609 480.4L609.5 480.6L610 480.7L610.5 480.7L611 481L611.5 481.3L612 481.3L612.5 481.2L613 481.1L613.5 481L614 481L614.5 480.9L615 480.7L615.5 480.7L616 480.8L616.5 480.8L617 480.8L617.5 480.8L618 480.6L618.5 480.6L619 480.6L619.5 480.6L620 480.9L620.5 480.9L621 480.8L621.5 480.8L622 480.9L622.5 480.9L623 480.7L623.5 480.7L624 480.6L624.5 480.6L625 480.8L625.5 480.8L626 480.7L626.5 480.7L627 480.7L627.5 480.9L628 481.1L628.5 480.8L629 480.8L629.5 481.1L630 481L630.5 480.5L631 480.2L631.5 480.3L632 480.5L632.5 480.6L633 480.6L633.5 480.6L634 480.4L634.5 480.1L635 480.3L635.5 480.5L636 480.5L636.5 480.6L637 480.7L637.5 480.7L638 480.7L638.5 480.4L639 480.3L639.5 480.6L640 480.5L640.5 480.3L641 480.3L641.5 480.3L642 480.3L642.5 480.3L643 480.2L643.5 480.3L644 480.4L644.5 480.4L645 480.2L645.5 480.2L646 480.4L646.5 480.4L647 480.4L647.5 480.6L648 480.7L648.5 480.6L649 480.6L649.5 480.6L650 480.4L650.5 480.4L651 480.5L651.5 480.4L652 480.4L652.5 480.6L653 481.1L653.5 481.2L654 481L654.5 481L655 480.9L655.5 480.6L656 480.3L656.5 480.4L657 480.5L657.5 480.5L658 480.5L658.5 480.8L659 481.1L659.5 480.7L660 480.2L660.5 480.1L661 480.3L661.5 480.5L662 480.7L662.5 480.8L663 481.1L663.5 481.4L664 481.4L664.5 481.3L665 481.2L665.5 481.2L666 481L666.5 480.7L667 480.5L667.5 480.7L668 481L668.5 480.9L669 480.6L669.5 480.5L670 480.5L670.5 480.6L671 480.8L671.5 481L672 481.1L672.5 481.1L673 480.9L673.5 480.8L674 480.8L674.5 481L675 480.8L675.5 480.6L676 480.6L676.5 480.5L677 480.7L677.5 481.1L678 481L678.5 481L679 480.9L679.5 480.7L680 480.7L680.5 480.6L681 480.6L681.5 480.8L682 480.7L682.5 480.5L683 480.5L683.5 480.7L684 480.8L684.5 480.9L685 480.9L685.5 480.9L686 480.8L686.5 480.8L687 480.7L687.5 480.4L688 480.4L688.5 480.6L689 480.7L689.5 480.9L690 481.2L690.5 481.4L691 481.1L691.5 480.6L692 480.5L692.5 480.7L693 480.8L693.5 480.7L694 480.6L694.5 480.4L695 480.4L695.5 480.7L696 480.8L696.5 480.6L697 480.6L697.5 480.9L698 481L698.5 481.1L699 481.2L699.5 481.1L700 481L700.5 481.2L701 481.5L701.5 481.7L702 481.4L702.5 481.2L703 480.9L703.5 480.6L704 480.6L704.5 480.7L705 480.6L705.5 480.6L706 480.7L706.5 480.7L707 480.7L707.5 480.8L708 481L708.5 481L709 481.2L709.5 481.3L710 481.3L710.5 481.4L711 481.3L711.5 481L712 480.9L712.5 480.8L713 480.8L713.5 480.7L714 480.6L714.5 480.6L715 480.5L715.5 480.7L716 481L716.5 481.2L717 481.2L717.5 481L718 480.9L718.5 480.9L719 481L719.5 481.1L720 481.1L720.5 480.9L721 480.6L721.5 480.5L722 480.5L722.5 480.5L723 480.5L723.5 480.7L724 480.8L724.5 480.8L725 480.7L725.5 480.3L726 480.3L726.5 480.7L727 481L727.5 481.1L728 481.1L728.5 481L729 480.9L729.5 480.7L730 480.6L730.5 480.5L731 480.5L731.5 480.5L732 480.5L732.5 480.5L733 480.3L733.5 480.3L734 480.3L734.5 480.3L735 480.6L735.5 480.9L736 480.9L736.5 480.5L737 480.1L737.5 479.9L738 479.8L738.5 479.9L739 480.2L739.5 480.4L740 480.3L740.5 480.4L741 480.5L741.5 480.3L742 480.2L742.5 480.4L743 480.6L743.5 480.6L744 480.5L744.5 480.4L745 480.4L745.5 480.3L746 480.4L746.5 480.5L747 480.4L747.5 480.2L748 480.2L748.5 480.3L749 480.6L749.5 480.8L750 481L750.5 480.8L751 480.4L751.5 480.4L752 480.5L752.5 480.6L753 480.7L753.5 480.8L754 480.8L754.5 480.7L755 480.6L755.5 480.6L756 480.4L756.5 480.4L757 480.8L757.5 480.9L758 480.8L758.5 480.9L759 481.1L759.5 480.9L760 480.7L760.5 480.7L761 480.8L761.5 480.7L762 480.6L762.5 480.8L763 480.9L763.5 480.8L764 480.8L764.5 480.8L765 480.8L765.5 480.6L766 480.5L766.5 480.4L767 480.1L767.5 479.9L768 479.8L768.5 480L769 480L769.5 480.1L770 480.3L770.5 480.8L771 481.3L771.5 481.2L772 480.9L772.5 480.8L773 480.8L773.5 480.7L774 480.5L774.5 480.6L775 480.3L775.5 479.9L776 480.1L776.5 480.5L777 480.6L777.5 480.6L778 480.8L778.5 481.2L779 481.3L779.5 481.3L780 481.2L780.5 481.2L781 481.2L781.5 481.1L782 481.1L782.5 481.4L783 481.6L783.5 481.2L784 480.8L784.5 480.6L785 480.6L785.5 480.7L786 480.8L786.5 481L787 481L787.5 481.1L788 481.1L788.5 481L789 480.9L789.5 480.5L790 480.3L790.5 480.4L791 480.6L791.5 480.9L792 480.9L792.5 480.6L793 480.5L793.5 480.9L794 481.1L794.5 480.8L795 480.6L795.5 480.5L796 480.4L796.5 480.7L797 480.9L797.5 480.8L798 480.6L798.5 480.3L799 480.5L799.5 480.6L800 480.6" fill="none" stroke="#9bb4ee" stroke-width="0.8"/>
<rect x="59.5" y="463.6" width="742" height="22.4" fill="none" stroke="#c3d0ee" stroke-width="0.8"/>
<path d="M59.6 463.2V485.6M801.8 463.2V485.6" stroke="#a9b7d6" stroke-width="0.9"/>
<rect x="57.3" y="467.3" width="4.6" height="14.4" rx="1.6" fill="#fff" stroke="#a9b1c1" stroke-width="1"/>
<rect x="799.5" y="467.3" width="4.6" height="14.4" rx="1.6" fill="#fff" stroke="#a9b1c1" stroke-width="1"/>
</g>
<g id="wm">
<text x="100" y="35" class="wm" transform="rotate(-20 100 35)" text-anchor="middle">Letitia.Lu</text>
<text x="246" y="35" class="wm" transform="rotate(-20 246 35)" text-anchor="middle">Letitia.Lu</text>
<text x="393" y="35" class="wm" transform="rotate(-20 393 35)" text-anchor="middle">Letitia.Lu</text>
<text x="539" y="35" class="wm" transform="rotate(-20 539 35)" text-anchor="middle">Letitia.Lu</text>
<text x="686" y="35" class="wm" transform="rotate(-20 686 35)" text-anchor="middle">Letitia.Lu</text>
<text x="832" y="35" class="wm" transform="rotate(-20 832 35)" text-anchor="middle">Letitia.Lu</text>
<text x="28" y="76" class="wm" transform="rotate(-20 28 76)" text-anchor="middle">Letitia.Lu</text>
<text x="174" y="76" class="wm" transform="rotate(-20 174 76)" text-anchor="middle">Letitia.Lu</text>
<text x="321" y="76" class="wm" transform="rotate(-20 321 76)" text-anchor="middle">Letitia.Lu</text>
<text x="467" y="76" class="wm" transform="rotate(-20 467 76)" text-anchor="middle">Letitia.Lu</text>
<text x="614" y="76" class="wm" transform="rotate(-20 614 76)" text-anchor="middle">Letitia.Lu</text>
<text x="760" y="76" class="wm" transform="rotate(-20 760 76)" text-anchor="middle">Letitia.Lu</text>
<text x="100" y="118" class="wm" transform="rotate(-20 100 118)" text-anchor="middle">Letitia.Lu</text>
<text x="246" y="118" class="wm" transform="rotate(-20 246 118)" text-anchor="middle">Letitia.Lu</text>
<text x="393" y="118" class="wm" transform="rotate(-20 393 118)" text-anchor="middle">Letitia.Lu</text>
<text x="539" y="118" class="wm" transform="rotate(-20 539 118)" text-anchor="middle">Letitia.Lu</text>
<text x="686" y="118" class="wm" transform="rotate(-20 686 118)" text-anchor="middle">Letitia.Lu</text>
<text x="832" y="118" class="wm" transform="rotate(-20 832 118)" text-anchor="middle">Letitia.Lu</text>
<text x="28" y="159" class="wm" transform="rotate(-20 28 159)" text-anchor="middle">Letitia.Lu</text>
<text x="174" y="159" class="wm" transform="rotate(-20 174 159)" text-anchor="middle">Letitia.Lu</text>
<text x="321" y="159" class="wm" transform="rotate(-20 321 159)" text-anchor="middle">Letitia.Lu</text>
<text x="467" y="159" class="wm" transform="rotate(-20 467 159)" text-anchor="middle">Letitia.Lu</text>
<text x="614" y="159" class="wm" transform="rotate(-20 614 159)" text-anchor="middle">Letitia.Lu</text>
<text x="760" y="159" class="wm" transform="rotate(-20 760 159)" text-anchor="middle">Letitia.Lu</text>
<text x="100" y="201" class="wm" transform="rotate(-20 100 201)" text-anchor="middle">Letitia.Lu</text>
<text x="246" y="201" class="wm" transform="rotate(-20 246 201)" text-anchor="middle">Letitia.Lu</text>
<text x="393" y="201" class="wm" transform="rotate(-20 393 201)" text-anchor="middle">Letitia.Lu</text>
<text x="539" y="201" class="wm" transform="rotate(-20 539 201)" text-anchor="middle">Letitia.Lu</text>
<text x="686" y="201" class="wm" transform="rotate(-20 686 201)" text-anchor="middle">Letitia.Lu</text>
<text x="832" y="201" class="wm" transform="rotate(-20 832 201)" text-anchor="middle">Letitia.Lu</text>
<text x="28" y="242" class="wm" transform="rotate(-20 28 242)" text-anchor="middle">Letitia.Lu</text>
<text x="174" y="242" class="wm" transform="rotate(-20 174 242)" text-anchor="middle">Letitia.Lu</text>
<text x="321" y="242" class="wm" transform="rotate(-20 321 242)" text-anchor="middle">Letitia.Lu</text>
<text x="467" y="242" class="wm" transform="rotate(-20 467 242)" text-anchor="middle">Letitia.Lu</text>
<text x="614" y="242" class="wm" transform="rotate(-20 614 242)" text-anchor="middle">Letitia.Lu</text>
<text x="760" y="242" class="wm" transform="rotate(-20 760 242)" text-anchor="middle">Letitia.Lu</text>
<text x="100" y="284" class="wm" transform="rotate(-20 100 284)" text-anchor="middle">Letitia.Lu</text>
<text x="246" y="284" class="wm" transform="rotate(-20 246 284)" text-anchor="middle">Letitia.Lu</text>
<text x="393" y="284" class="wm" transform="rotate(-20 393 284)" text-anchor="middle">Letitia.Lu</text>
<text x="539" y="284" class="wm" transform="rotate(-20 539 284)" text-anchor="middle">Letitia.Lu</text>
<text x="686" y="284" class="wm" transform="rotate(-20 686 284)" text-anchor="middle">Letitia.Lu</text>
<text x="832" y="284" class="wm" transform="rotate(-20 832 284)" text-anchor="middle">Letitia.Lu</text>
<text x="28" y="325" class="wm" transform="rotate(-20 28 325)" text-anchor="middle">Letitia.Lu</text>
<text x="174" y="325" class="wm" transform="rotate(-20 174 325)" text-anchor="middle">Letitia.Lu</text>
<text x="321" y="325" class="wm" transform="rotate(-20 321 325)" text-anchor="middle">Letitia.Lu</text>
<text x="467" y="325" class="wm" transform="rotate(-20 467 325)" text-anchor="middle">Letitia.Lu</text>
<text x="614" y="325" class="wm" transform="rotate(-20 614 325)" text-anchor="middle">Letitia.Lu</text>
<text x="760" y="325" class="wm" transform="rotate(-20 760 325)" text-anchor="middle">Letitia.Lu</text>
<text x="100" y="367" class="wm" transform="rotate(-20 100 367)" text-anchor="middle">Letitia.Lu</text>
<text x="246" y="367" class="wm" transform="rotate(-20 246 367)" text-anchor="middle">Letitia.Lu</text>
<text x="393" y="367" class="wm" transform="rotate(-20 393 367)" text-anchor="middle">Letitia.Lu</text>
<text x="539" y="367" class="wm" transform="rotate(-20 539 367)" text-anchor="middle">Letitia.Lu</text>
<text x="686" y="367" class="wm" transform="rotate(-20 686 367)" text-anchor="middle">Letitia.Lu</text>
<text x="832" y="367" class="wm" transform="rotate(-20 832 367)" text-anchor="middle">Letitia.Lu</text>
<text x="28" y="408" class="wm" transform="rotate(-20 28 408)" text-anchor="middle">Letitia.Lu</text>
<text x="174" y="408" class="wm" transform="rotate(-20 174 408)" text-anchor="middle">Letitia.Lu</text>
<text x="321" y="408" class="wm" transform="rotate(-20 321 408)" text-anchor="middle">Letitia.Lu</text>
<text x="467" y="408" class="wm" transform="rotate(-20 467 408)" text-anchor="middle">Letitia.Lu</text>
<text x="614" y="408" class="wm" transform="rotate(-20 614 408)" text-anchor="middle">Letitia.Lu</text>
<text x="760" y="408" class="wm" transform="rotate(-20 760 408)" text-anchor="middle">Letitia.Lu</text>
<text x="100" y="450" class="wm" transform="rotate(-20 100 450)" text-anchor="middle">Letitia.Lu</text>
<text x="246" y="450" class="wm" transform="rotate(-20 246 450)" text-anchor="middle">Letitia.Lu</text>
<text x="393" y="450" class="wm" transform="rotate(-20 393 450)" text-anchor="middle">Letitia.Lu</text>
<text x="539" y="450" class="wm" transform="rotate(-20 539 450)" text-anchor="middle">Letitia.Lu</text>
<text x="686" y="450" class="wm" transform="rotate(-20 686 450)" text-anchor="middle">Letitia.Lu</text>
<text x="832" y="450" class="wm" transform="rotate(-20 832 450)" text-anchor="middle">Letitia.Lu</text>
<text x="28" y="491" class="wm" transform="rotate(-20 28 491)" text-anchor="middle">Letitia.Lu</text>
<text x="174" y="491" class="wm" transform="rotate(-20 174 491)" text-anchor="middle">Letitia.Lu</text>
<text x="321" y="491" class="wm" transform="rotate(-20 321 491)" text-anchor="middle">Letitia.Lu</text>
<text x="467" y="491" class="wm" transform="rotate(-20 467 491)" text-anchor="middle">Letitia.Lu</text>
<text x="614" y="491" class="wm" transform="rotate(-20 614 491)" text-anchor="middle">Letitia.Lu</text>
<text x="760" y="491" class="wm" transform="rotate(-20 760 491)" text-anchor="middle">Letitia.Lu</text>
</g>
</svg>
</body></html>
